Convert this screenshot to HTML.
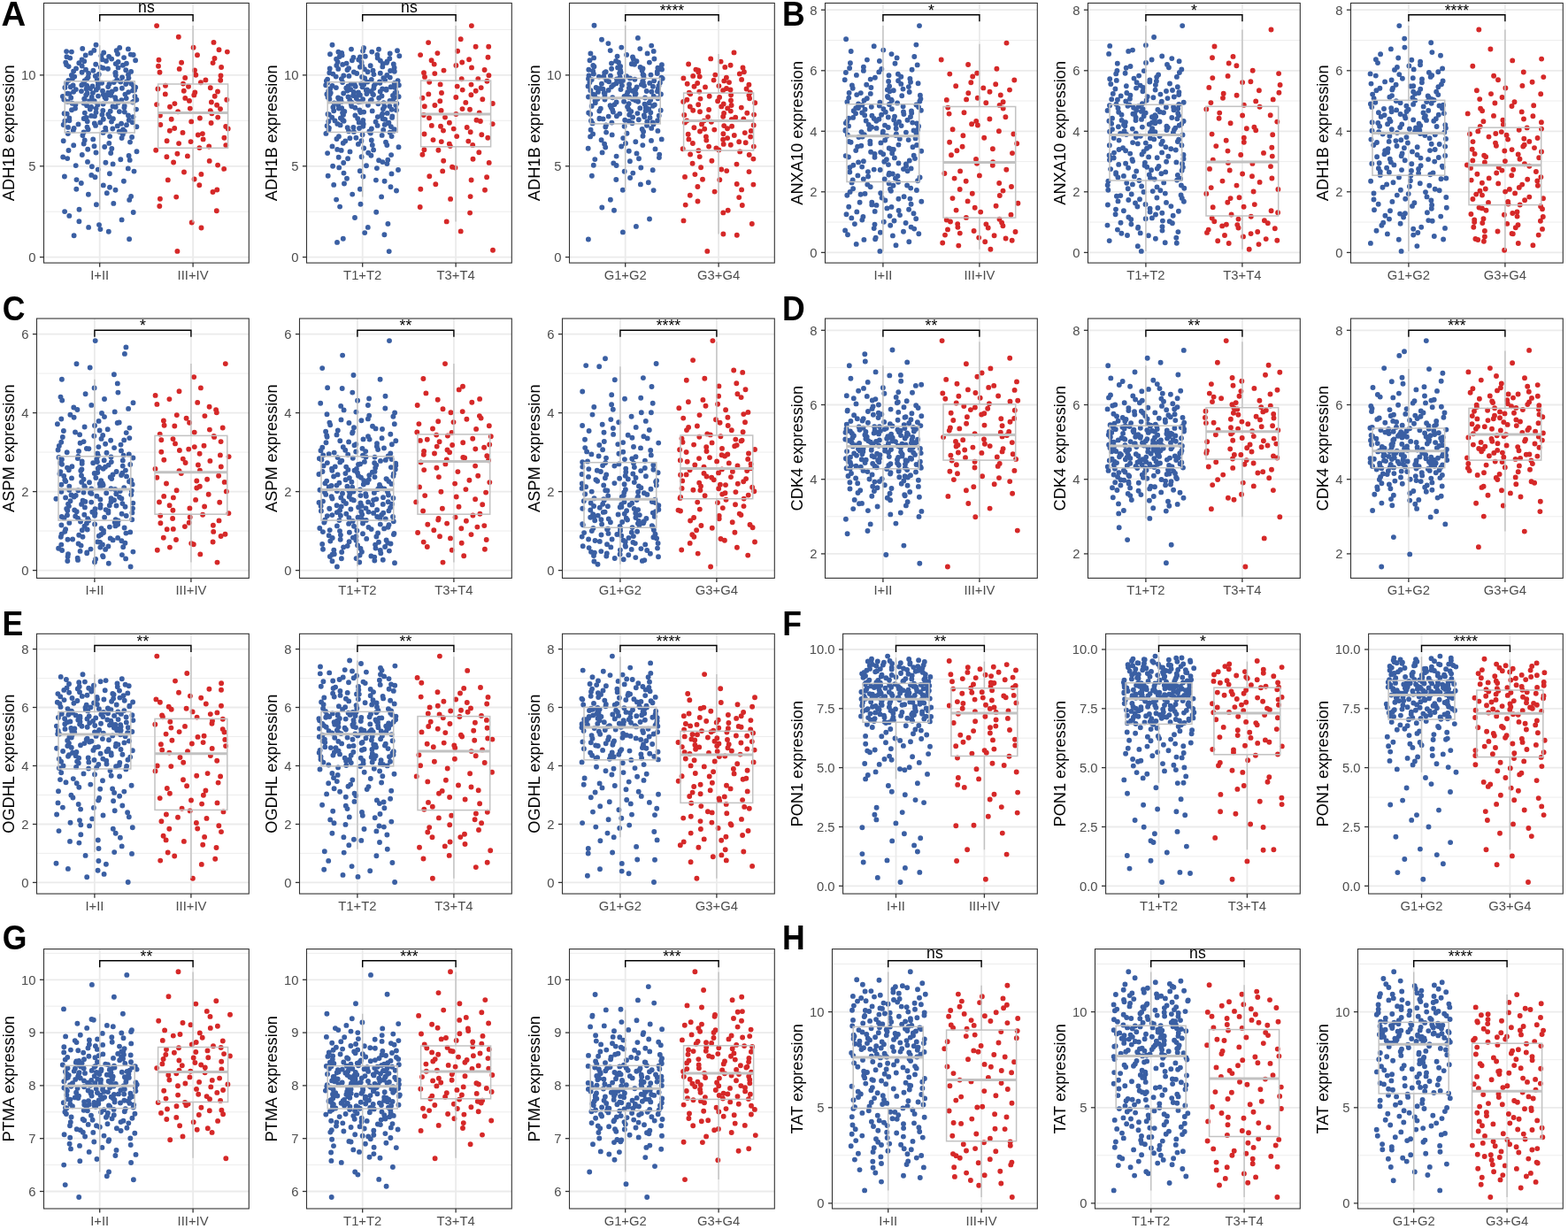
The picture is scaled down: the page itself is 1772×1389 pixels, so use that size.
<!DOCTYPE html><html><head><meta charset="utf-8"><style>html,body{margin:0;padding:0;background:#fff;}svg{display:block;font-family:"Liberation Sans",Arial,sans-serif;}.tl{font-size:14.8px;fill:#4D4D4D;}</style></head><body><svg width="1772" height="1389" viewBox="0 0 1772 1389">
<rect width="1772" height="1389" fill="#fff"/>
<line x1="49.5" x2="281.3" y1="239.2" y2="239.2" stroke="#EBEBEB" stroke-width="0.9"/>
<line x1="49.5" x2="281.3" y1="136.3" y2="136.3" stroke="#EBEBEB" stroke-width="0.9"/>
<line x1="49.5" x2="281.3" y1="33.5" y2="33.5" stroke="#EBEBEB" stroke-width="0.9"/>
<line x1="49.5" x2="281.3" y1="290.6" y2="290.6" stroke="#EBEBEB" stroke-width="1.8"/>
<line x1="49.5" x2="281.3" y1="187.8" y2="187.8" stroke="#EBEBEB" stroke-width="1.8"/>
<line x1="49.5" x2="281.3" y1="84.9" y2="84.9" stroke="#EBEBEB" stroke-width="1.8"/>
<line x1="112.7" x2="112.7" y1="3.5" y2="297.1" stroke="#EBEBEB" stroke-width="1.8"/>
<line x1="218.1" x2="218.1" y1="3.5" y2="297.1" stroke="#EBEBEB" stroke-width="1.8"/>
<path d="M146.1 270.3h0M83.6 266.3h0M122.8 261.8h0M113.4 259.1h0M100.1 256.9h0M112.0 254.1h0M89.4 250.2h0M137.6 248.4h0M78.3 243.9h0M150.7 240.0h0M73.1 239.1h0M89.5 236.8h0M108.9 231.2h0M128.3 229.9h0M146.2 225.9h0M148.1 221.9h0M99.9 219.8h0M120.8 218.2h0M130.5 214.8h0M86.3 213.7h0M124.0 211.8h0M116.8 209.4h0M91.8 207.0h0M139.9 204.7h0M86.5 203.1h0M107.5 200.2h0M72.9 199.5h0M103.3 197.9h0M123.9 196.2h0M151.5 193.6h0M110.7 191.6h0M144.8 190.4h0M103.9 188.3h0M85.7 187.1h0M127.6 185.4h0M119.4 183.8h0M99.0 182.9h0M146.7 180.9h0M136.3 180.2h0M76.2 179.1h0M71.2 177.5h0M145.6 175.9h0M92.8 175.0h0M125.2 173.0h0M108.5 172.5h0M154.5 171.2h0M77.5 170.0h0M99.2 168.7h0M126.3 167.9h0M118.2 166.0h0M106.5 165.2h0M83.2 164.3h0M94.7 162.5h0M123.3 161.9h0M147.0 160.6h0M71.7 159.3h0M95.7 158.5h0M105.2 157.4h0M137.6 156.0h0M149.1 155.0h0M124.1 154.1h0M93.4 153.0h0M138.8 152.0h0M76.8 151.0h0M116.6 149.9h0M94.6 149.5h0M134.7 148.8h0M140.9 148.4h0M119.5 147.6h0M82.8 147.4h0M139.1 146.5h0M99.6 146.3h0M127.3 145.5h0M83.6 145.0h0M119.2 144.7h0M77.0 143.9h0M98.5 143.6h0M154.4 143.2h0M132.7 142.4h0M108.0 141.9h0M143.0 141.3h0M71.7 141.0h0M88.5 140.4h0M137.1 139.7h0M106.8 139.5h0M113.3 138.5h0M149.7 138.2h0M126.0 137.6h0M98.7 137.2h0M73.3 136.8h0M78.4 136.3h0M145.7 135.7h0M116.8 134.8h0M127.9 134.2h0M94.7 134.0h0M78.3 133.5h0M97.6 133.0h0M123.7 132.1h0M150.5 132.1h0M107.0 131.3h0M103.2 130.9h0M145.0 130.4h0M115.4 129.6h0M122.4 129.3h0M75.7 128.6h0M72.6 128.2h0M95.8 127.6h0M108.5 127.1h0M140.8 126.6h0M134.9 126.1h0M124.7 125.7h0M116.3 124.9h0M81.0 124.2h0M154.0 123.6h0M101.8 123.6h0M108.6 122.6h0M85.0 122.5h0M140.4 121.6h0M103.1 121.0h0M130.7 120.9h0M127.5 120.2h0M140.7 119.7h0M98.1 119.2h0M110.3 118.5h0M85.4 118.3h0M116.6 117.5h0M81.6 116.8h0M94.6 116.6h0M133.5 115.9h0M150.0 115.5h0M76.5 115.0h0M151.1 114.6h0M106.7 114.3h0M101.2 114.1h0M131.1 113.6h0M137.3 113.3h0M154.3 112.8h0M72.3 112.5h0M95.7 112.0h0M119.8 111.6h0M95.2 111.6h0M142.7 111.1h0M80.2 110.5h0M130.2 110.2h0M118.5 110.0h0M103.7 109.7h0M152.5 109.0h0M70.9 109.0h0M111.0 108.6h0M125.4 107.8h0M97.2 107.5h0M122.3 107.1h0M116.9 106.9h0M141.4 106.6h0M78.4 106.1h0M76.3 105.8h0M98.6 105.5h0M104.9 105.1h0M122.2 104.7h0M145.2 104.1h0M83.1 103.7h0M126.6 103.4h0M92.0 103.1h0M116.0 102.7h0M150.0 102.4h0M152.0 102.1h0M108.9 101.5h0M85.8 101.1h0M130.8 100.8h0M97.6 100.4h0M102.1 100.0h0M137.9 99.8h0M110.7 99.3h0M73.4 99.0h0M153.2 98.8h0M79.8 98.3h0M122.2 98.1h0M104.5 97.4h0M150.9 97.3h0M98.1 96.8h0M82.6 96.5h0M92.3 96.2h0M110.9 95.8h0M142.2 95.1h0M123.5 94.9h0M148.3 94.6h0M74.9 94.0h0M115.1 93.8h0M94.4 93.5h0M128.7 93.1h0M136.3 92.6h0M142.9 92.4h0M110.4 91.8h0M95.7 91.2h0M77.3 90.9h0M132.2 90.3h0M109.7 89.9h0M98.1 89.2h0M82.1 88.5h0M145.4 88.1h0M138.1 87.5h0M99.6 87.2h0M84.2 86.6h0M107.8 86.0h0M130.8 85.0h0M80.9 85.0h0M145.0 84.4h0M111.7 83.9h0M100.1 83.0h0M130.3 82.4h0M130.6 82.0h0M92.6 81.7h0M148.1 80.9h0M83.1 80.5h0M105.4 79.8h0M142.2 79.2h0M97.0 78.8h0M122.0 77.8h0M86.0 77.4h0M116.7 76.9h0M133.6 76.4h0M113.8 76.0h0M77.6 75.1h0M92.7 74.6h0M138.9 73.8h0M75.1 73.2h0M108.2 72.7h0M130.7 72.1h0M142.9 71.7h0M89.3 71.2h0M74.2 70.6h0M133.6 70.0h0M95.2 69.2h0M120.0 69.0h0M153.1 68.2h0M92.6 67.4h0M115.5 67.2h0M126.2 66.6h0M79.2 65.6h0M140.1 65.1h0M75.4 64.3h0M123.1 63.9h0M114.4 63.1h0M96.7 62.5h0M150.7 62.0h0M147.7 61.6h0M133.0 61.0h0M102.5 59.9h0M117.2 59.5h0M80.9 58.6h0M75.1 58.1h0M131.7 57.3h0M106.3 56.9h0M144.9 55.4h0M93.2 54.9h0M135.2 53.9h0M108.5 50.7h0" stroke="#3A5FA3" stroke-width="5.9" stroke-linecap="round"/>
<path d="M200.4 283.9h0M227.5 257.5h0M216.7 251.5h0M244.8 238.2h0M180.3 233.0h0M180.9 224.8h0M199.2 222.6h0M240.5 217.0h0M245.3 214.5h0M225.3 209.3h0M189.8 203.4h0M219.6 202.5h0M227.4 196.9h0M208.0 194.5h0M253.2 190.9h0M246.1 186.6h0M196.1 183.5h0M236.7 181.9h0M188.4 177.3h0M211.9 176.4h0M200.4 173.7h0M176.2 169.8h0M225.4 167.1h0M236.2 165.5h0M255.3 164.1h0M202.1 162.1h0M215.6 160.1h0M188.6 159.3h0M229.6 157.4h0M253.4 155.7h0M223.8 152.5h0M228.9 151.1h0M206.5 149.9h0M191.8 147.7h0M257.7 145.4h0M197.2 145.0h0M255.2 143.0h0M181.3 141.0h0M238.6 139.0h0M216.2 137.4h0M193.7 134.8h0M225.9 133.5h0M246.2 132.6h0M180.9 130.5h0M239.4 128.3h0M201.1 126.3h0M237.8 125.1h0M249.0 123.1h0M214.8 122.6h0M192.0 120.7h0M245.1 118.8h0M177.1 118.1h0M197.4 117.1h0M238.9 115.5h0M214.0 113.9h0M256.3 112.8h0M209.3 110.9h0M242.7 108.7h0M219.3 107.4h0M186.8 106.4h0M220.3 104.5h0M246.0 103.5h0M207.8 102.8h0M178.4 100.5h0M237.8 99.2h0M213.0 97.7h0M187.0 96.8h0M207.0 94.6h0M226.9 93.2h0M249.2 90.7h0M232.4 90.4h0M209.2 87.9h0M249.5 85.4h0M221.3 84.8h0M180.5 81.8h0M220.0 79.5h0M202.7 77.9h0M250.1 76.0h0M179.0 74.8h0M240.6 71.1h0M205.1 70.7h0M179.5 67.7h0M242.5 66.0h0M223.0 62.3h0M256.8 58.6h0M247.5 56.2h0M218.6 53.7h0M241.5 47.9h0M201.8 41.8h0M177.1 29.1h0" stroke="#D52828" stroke-width="5.9" stroke-linecap="round"/>
<line x1="112.7" x2="112.7" y1="51.2" y2="91.8" stroke="#C2C2C2" stroke-width="1.4"/>
<line x1="112.7" x2="112.7" y1="150" y2="236.8" stroke="#C2C2C2" stroke-width="1.4"/>
<rect x="73.2" y="91.8" width="79" height="58.2" fill="none" stroke="#C2C2C2" stroke-width="1.5"/>
<line x1="73.2" x2="152.2" y1="115.9" y2="115.9" stroke="#C2C2C2" stroke-width="3"/>
<line x1="218.1" x2="218.1" y1="29.1" y2="95" stroke="#C2C2C2" stroke-width="1.4"/>
<line x1="218.1" x2="218.1" y1="167.3" y2="251.5" stroke="#C2C2C2" stroke-width="1.4"/>
<rect x="178.6" y="95" width="79" height="72.3" fill="none" stroke="#C2C2C2" stroke-width="1.5"/>
<line x1="178.6" x2="257.6" y1="127.4" y2="127.4" stroke="#C2C2C2" stroke-width="3"/>
<path d="M112.7,24.2V16.7H218.1V24.2" fill="none" stroke="#000" stroke-width="1.4"/>
<text x="165.4" y="13.6" font-size="17.6" text-anchor="middle">ns</text>
<rect x="49.5" y="3.5" width="231.8" height="293.6" fill="none" stroke="#333333" stroke-width="1.1"/>
<line x1="44.9" x2="49.5" y1="290.6" y2="290.6" stroke="#333333" stroke-width="1.3"/>
<text x="40.4" y="295.9" text-anchor="end" class="tl">0</text>
<line x1="44.9" x2="49.5" y1="187.8" y2="187.8" stroke="#333333" stroke-width="1.3"/>
<text x="40.4" y="193" text-anchor="end" class="tl">5</text>
<line x1="44.9" x2="49.5" y1="84.9" y2="84.9" stroke="#333333" stroke-width="1.3"/>
<text x="40.4" y="90.2" text-anchor="end" class="tl">10</text>
<line x1="112.7" x2="112.7" y1="297.1" y2="301.7" stroke="#333333" stroke-width="1.3"/>
<text x="112.7" y="316" text-anchor="middle" class="tl">I+II</text>
<line x1="218.1" x2="218.1" y1="297.1" y2="301.7" stroke="#333333" stroke-width="1.3"/>
<text x="218.1" y="316" text-anchor="middle" class="tl">III+IV</text>
<text transform="translate(15.8,150.3) rotate(-90)" text-anchor="middle" font-size="18.2">ADH1B expression</text>
<line x1="346.5" x2="578.3" y1="239.2" y2="239.2" stroke="#EBEBEB" stroke-width="0.9"/>
<line x1="346.5" x2="578.3" y1="136.3" y2="136.3" stroke="#EBEBEB" stroke-width="0.9"/>
<line x1="346.5" x2="578.3" y1="33.5" y2="33.5" stroke="#EBEBEB" stroke-width="0.9"/>
<line x1="346.5" x2="578.3" y1="290.6" y2="290.6" stroke="#EBEBEB" stroke-width="1.8"/>
<line x1="346.5" x2="578.3" y1="187.8" y2="187.8" stroke="#EBEBEB" stroke-width="1.8"/>
<line x1="346.5" x2="578.3" y1="84.9" y2="84.9" stroke="#EBEBEB" stroke-width="1.8"/>
<line x1="409.7" x2="409.7" y1="3.5" y2="297.1" stroke="#EBEBEB" stroke-width="1.8"/>
<line x1="515.1" x2="515.1" y1="3.5" y2="297.1" stroke="#EBEBEB" stroke-width="1.8"/>
<path d="M439.7 284.1h0M381.0 273.9h0M387.8 269.8h0M434.4 265.3h0M412.2 263.1h0M415.8 256.9h0M438.4 253.0h0M401.0 246.0h0M425.2 239.7h0M384.1 233.6h0M407.5 230.7h0M380.1 225.6h0M431.1 222.4h0M398.2 219.6h0M448.0 215.5h0M406.9 213.8h0M441.5 211.3h0M377.2 208.9h0M389.0 207.5h0M434.6 204.8h0M424.9 203.6h0M392.0 201.7h0M410.5 199.5h0M370.7 198.7h0M442.5 196.4h0M388.5 195.6h0M406.8 193.3h0M450.0 192.0h0M425.9 190.1h0M383.2 189.4h0M376.1 187.7h0M414.0 187.2h0M437.4 185.1h0M388.2 184.0h0M432.3 183.1h0M428.1 181.2h0M438.3 180.7h0M393.1 179.2h0M382.7 177.8h0M408.6 177.3h0M419.4 175.7h0M442.1 175.1h0M370.1 173.1h0M416.2 172.8h0M395.5 171.4h0M385.7 169.9h0M422.1 169.4h0M381.2 168.9h0M411.2 167.5h0M450.5 166.3h0M375.5 165.4h0M437.3 164.0h0M420.8 163.9h0M404.9 162.9h0M387.8 161.8h0M436.0 160.8h0M390.2 159.5h0M408.4 159.2h0M419.8 158.5h0M380.5 157.0h0M395.4 156.3h0M402.4 155.8h0M382.9 154.2h0M442.6 154.1h0M431.7 152.9h0M409.6 152.2h0M368.4 150.9h0M418.8 150.5h0M440.7 149.8h0M399.9 148.9h0M417.4 148.5h0M394.0 148.2h0M445.2 147.8h0M433.2 147.0h0M371.5 146.8h0M445.7 146.2h0M419.9 145.5h0M406.0 145.0h0M371.9 144.6h0M392.7 144.3h0M399.4 143.9h0M441.9 143.1h0M410.3 142.8h0M369.6 142.2h0M426.6 141.9h0M384.6 141.4h0M434.7 140.9h0M410.7 140.2h0M381.3 139.9h0M438.9 139.4h0M439.4 138.6h0M405.7 138.4h0M424.6 137.7h0M371.3 137.3h0M388.6 136.8h0M378.5 136.4h0M410.3 135.9h0M387.1 135.4h0M435.1 134.9h0M432.6 134.2h0M404.2 133.9h0M384.9 133.4h0M443.1 132.9h0M375.2 132.7h0M426.8 132.1h0M443.3 131.5h0M431.2 130.8h0M401.4 130.4h0M388.0 129.8h0M371.7 129.5h0M370.5 128.9h0M432.2 128.6h0M437.7 127.9h0M387.1 127.4h0M407.4 127.0h0M411.2 126.6h0M389.3 126.0h0M420.7 125.4h0M377.2 125.2h0M448.0 124.6h0M406.4 124.4h0M442.6 123.7h0M432.9 123.3h0M382.9 122.6h0M386.2 122.3h0M401.3 121.7h0M376.4 121.3h0M434.3 120.5h0M397.3 120.1h0M440.3 120.0h0M447.4 119.1h0M415.9 118.7h0M382.1 118.5h0M396.8 117.7h0M427.4 117.2h0M448.3 117.0h0M377.7 116.4h0M433.6 116.1h0M397.3 115.6h0M405.3 115.2h0M385.7 114.9h0M407.4 114.7h0M383.2 114.1h0M440.5 114.0h0M418.7 113.7h0M444.0 113.3h0M395.2 113.0h0M419.8 112.7h0M410.1 112.2h0M372.4 112.0h0M385.2 111.6h0M402.8 111.3h0M428.2 110.7h0M445.6 110.4h0M382.1 110.4h0M370.6 110.0h0M393.5 109.5h0M450.6 109.3h0M402.4 108.9h0M431.5 108.5h0M444.0 108.0h0M399.1 108.0h0M406.9 107.5h0M422.0 107.1h0M372.8 106.8h0M369.4 106.5h0M421.2 106.2h0M414.4 106.0h0M388.2 105.5h0M446.3 105.1h0M373.7 105.0h0M405.0 104.5h0M448.0 104.2h0M399.6 103.9h0M429.7 103.5h0M419.5 103.2h0M371.2 102.9h0M392.6 102.5h0M413.8 102.0h0M436.6 101.8h0M414.9 101.4h0M396.2 101.0h0M436.5 100.7h0M432.1 100.5h0M373.3 100.1h0M422.4 99.8h0M391.3 99.4h0M379.9 99.1h0M446.0 98.7h0M409.5 98.3h0M441.7 98.2h0M401.7 97.8h0M393.4 97.4h0M375.5 97.0h0M422.7 96.9h0M450.8 96.3h0M368.2 96.2h0M411.1 95.8h0M400.7 95.4h0M424.0 94.9h0M396.9 94.9h0M408.2 94.4h0M445.7 94.0h0M429.4 93.7h0M370.0 93.4h0M387.1 93.0h0M415.3 92.6h0M429.0 92.4h0M368.9 91.4h0M449.6 91.2h0M435.1 90.6h0M419.8 89.9h0M370.1 89.6h0M385.9 89.1h0M412.2 88.5h0M433.3 88.1h0M440.8 87.6h0M409.1 86.9h0M379.7 86.6h0M394.4 85.9h0M388.3 85.5h0M437.3 85.0h0M422.4 84.1h0M376.3 83.6h0M403.2 83.0h0M429.8 82.8h0M372.3 82.3h0M399.9 81.5h0M415.6 81.3h0M445.8 80.7h0M441.1 80.0h0M421.5 79.7h0M392.5 79.0h0M411.9 78.3h0M382.3 77.9h0M372.7 77.5h0M394.1 77.1h0M445.6 76.4h0M406.9 75.8h0M432.3 75.4h0M409.3 74.8h0M418.7 74.3h0M380.3 73.9h0M387.2 72.9h0M444.8 72.4h0M432.7 72.0h0M391.6 71.6h0M436.9 70.9h0M408.5 70.4h0M381.6 70.0h0M437.5 69.4h0M429.9 68.6h0M397.9 68.2h0M405.3 67.5h0M380.1 66.8h0M440.3 66.3h0M426.7 65.6h0M399.4 65.0h0M406.9 64.5h0M383.7 64.1h0M412.8 63.7h0M451.3 63.2h0M386.6 62.4h0M426.4 61.9h0M373.0 61.3h0M440.7 60.5h0M386.2 59.9h0M382.4 58.8h0M420.3 58.6h0M410.1 57.6h0M449.0 57.3h0M428.0 55.8h0M397.0 55.6h0M411.1 54.3h0M375.5 50.7h0" stroke="#3A5FA3" stroke-width="5.9" stroke-linecap="round"/>
<path d="M557.0 282.8h0M520.7 261.4h0M504.7 250.4h0M531.1 240.6h0M474.7 234.0h0M509.1 224.9h0M531.6 222.1h0M548.0 214.7h0M475.3 213.7h0M492.3 208.3h0M532.6 203.5h0M550.1 200.3h0M485.3 199.2h0M500.2 193.4h0M514.5 189.6h0M511.0 188.7h0M552.7 183.9h0M501.2 181.7h0M534.5 179.8h0M477.4 174.8h0M541.3 172.2h0M495.4 169.7h0M479.4 169.2h0M508.8 165.1h0M534.2 163.9h0M507.8 162.6h0M498.8 160.1h0M529.3 159.6h0M489.5 158.1h0M551.3 155.7h0M516.2 154.1h0M544.3 152.3h0M479.5 151.5h0M531.7 149.3h0M501.0 147.6h0M512.7 145.6h0M527.7 144.0h0M498.0 142.8h0M487.8 141.9h0M556.7 140.1h0M507.9 138.8h0M542.9 137.0h0M538.5 135.8h0M485.0 133.3h0M503.0 132.6h0M478.8 130.0h0M515.4 129.0h0M541.7 127.4h0M498.6 124.9h0M531.0 123.7h0M522.5 123.1h0M479.8 120.2h0M491.4 119.0h0M556.8 117.0h0M526.3 115.9h0M497.3 114.2h0M545.3 112.2h0M477.4 110.8h0M515.3 110.0h0M532.4 107.3h0M484.3 106.4h0M499.0 105.0h0M537.7 102.8h0M522.7 101.6h0M543.7 99.1h0M516.7 97.6h0M532.5 95.6h0M497.6 95.4h0M485.2 92.8h0M550.4 91.8h0M521.7 89.3h0M540.3 89.1h0M480.0 86.9h0M552.4 85.2h0M491.3 83.1h0M479.0 82.3h0M501.5 79.6h0M547.6 79.0h0M533.0 76.4h0M515.4 74.0h0M490.7 72.6h0M522.2 70.5h0M487.6 68.3h0M530.1 67.2h0M551.5 64.7h0M475.1 62.1h0M494.4 60.1h0M517.1 57.7h0M537.6 52.7h0M552.2 52.7h0M484.1 48.1h0M520.7 44.2h0M532.9 29.1h0" stroke="#D52828" stroke-width="5.9" stroke-linecap="round"/>
<line x1="409.7" x2="409.7" y1="51.8" y2="92.8" stroke="#C2C2C2" stroke-width="1.4"/>
<line x1="409.7" x2="409.7" y1="149.4" y2="222.4" stroke="#C2C2C2" stroke-width="1.4"/>
<rect x="370.2" y="92.8" width="79" height="56.6" fill="none" stroke="#C2C2C2" stroke-width="1.5"/>
<line x1="370.2" x2="449.2" y1="115.9" y2="115.9" stroke="#C2C2C2" stroke-width="3"/>
<line x1="515.1" x2="515.1" y1="29.1" y2="91.1" stroke="#C2C2C2" stroke-width="1.4"/>
<line x1="515.1" x2="515.1" y1="165.8" y2="250.4" stroke="#C2C2C2" stroke-width="1.4"/>
<rect x="475.6" y="91.1" width="79" height="74.7" fill="none" stroke="#C2C2C2" stroke-width="1.5"/>
<line x1="475.6" x2="554.6" y1="128.9" y2="128.9" stroke="#C2C2C2" stroke-width="3"/>
<path d="M409.7,24.2V16.7H515.1V24.2" fill="none" stroke="#000" stroke-width="1.4"/>
<text x="462.4" y="13.6" font-size="17.6" text-anchor="middle">ns</text>
<rect x="346.5" y="3.5" width="231.8" height="293.6" fill="none" stroke="#333333" stroke-width="1.1"/>
<line x1="341.9" x2="346.5" y1="290.6" y2="290.6" stroke="#333333" stroke-width="1.3"/>
<text x="337.4" y="295.9" text-anchor="end" class="tl">0</text>
<line x1="341.9" x2="346.5" y1="187.8" y2="187.8" stroke="#333333" stroke-width="1.3"/>
<text x="337.4" y="193" text-anchor="end" class="tl">5</text>
<line x1="341.9" x2="346.5" y1="84.9" y2="84.9" stroke="#333333" stroke-width="1.3"/>
<text x="337.4" y="90.2" text-anchor="end" class="tl">10</text>
<line x1="409.7" x2="409.7" y1="297.1" y2="301.7" stroke="#333333" stroke-width="1.3"/>
<text x="409.7" y="316" text-anchor="middle" class="tl">T1+T2</text>
<line x1="515.1" x2="515.1" y1="297.1" y2="301.7" stroke="#333333" stroke-width="1.3"/>
<text x="515.1" y="316" text-anchor="middle" class="tl">T3+T4</text>
<text transform="translate(312.8,150.3) rotate(-90)" text-anchor="middle" font-size="18.2">ADH1B expression</text>
<line x1="643.5" x2="875.3" y1="239.2" y2="239.2" stroke="#EBEBEB" stroke-width="0.9"/>
<line x1="643.5" x2="875.3" y1="136.3" y2="136.3" stroke="#EBEBEB" stroke-width="0.9"/>
<line x1="643.5" x2="875.3" y1="33.5" y2="33.5" stroke="#EBEBEB" stroke-width="0.9"/>
<line x1="643.5" x2="875.3" y1="290.6" y2="290.6" stroke="#EBEBEB" stroke-width="1.8"/>
<line x1="643.5" x2="875.3" y1="187.8" y2="187.8" stroke="#EBEBEB" stroke-width="1.8"/>
<line x1="643.5" x2="875.3" y1="84.9" y2="84.9" stroke="#EBEBEB" stroke-width="1.8"/>
<line x1="706.7" x2="706.7" y1="3.5" y2="297.1" stroke="#EBEBEB" stroke-width="1.8"/>
<line x1="812.1" x2="812.1" y1="3.5" y2="297.1" stroke="#EBEBEB" stroke-width="1.8"/>
<path d="M664.9 270.5h0M703.9 262.4h0M718.9 255.9h0M734.0 247.5h0M694.0 237.7h0M680.3 234.5h0M689.9 225.7h0M738.6 215.1h0M703.8 214.8h0M723.9 208.4h0M732.8 206.3h0M696.3 203.0h0M712.1 201.0h0M668.9 198.8h0M715.3 195.6h0M705.7 193.8h0M737.7 192.2h0M724.3 189.5h0M696.6 187.0h0M670.8 186.8h0M693.3 184.4h0M711.9 182.3h0M672.3 180.1h0M722.0 179.3h0M744.9 178.1h0M696.6 176.6h0M745.2 174.6h0M719.5 173.4h0M680.6 172.4h0M710.8 170.7h0M740.5 168.4h0M664.7 167.8h0M684.2 166.5h0M702.2 165.5h0M726.3 164.1h0M683.1 162.7h0M707.0 161.9h0M718.3 160.3h0M736.0 158.9h0M679.6 158.2h0M747.7 157.4h0M704.2 156.1h0M667.1 154.4h0M726.5 153.7h0M691.7 152.4h0M670.1 151.4h0M708.5 150.7h0M685.1 149.6h0M727.1 148.8h0M743.4 147.9h0M667.6 146.8h0M725.7 146.0h0M736.2 144.9h0M684.3 143.5h0M705.6 142.8h0M731.0 141.8h0M684.9 141.5h0M738.5 140.5h0M669.6 139.4h0M714.5 139.2h0M691.4 138.6h0M737.5 138.4h0M731.3 137.4h0M710.9 137.0h0M668.0 136.5h0M743.1 136.3h0M706.2 135.8h0M721.8 135.2h0M681.6 134.4h0M677.4 134.3h0M677.5 133.8h0M734.5 133.0h0M715.1 132.5h0M728.3 132.1h0M687.7 131.6h0M696.9 131.3h0M744.7 130.8h0M727.9 130.3h0M711.2 129.7h0M667.2 128.9h0M700.3 128.6h0M720.4 128.1h0M665.2 127.4h0M735.3 127.2h0M692.9 126.6h0M713.2 125.9h0M677.3 125.5h0M729.6 125.2h0M746.7 124.8h0M692.2 124.2h0M710.6 123.7h0M733.2 123.3h0M678.8 122.7h0M723.3 122.2h0M690.7 121.4h0M729.8 121.3h0M709.1 120.6h0M668.7 119.9h0M738.0 119.7h0M689.6 119.2h0M739.8 118.5h0M694.5 118.1h0M728.5 117.6h0M710.6 117.3h0M672.8 116.3h0M733.6 116.2h0M696.6 115.4h0M721.1 114.8h0M705.1 114.7h0M672.5 113.8h0M718.2 113.6h0M735.2 113.1h0M683.5 112.6h0M715.0 112.1h0M675.4 111.7h0M743.5 111.2h0M729.0 110.5h0M692.2 110.3h0M711.2 109.9h0M665.0 109.5h0M705.5 109.0h0M738.7 108.8h0M717.7 108.2h0M683.4 108.1h0M672.0 107.5h0M708.4 107.0h0M670.8 106.8h0M746.9 106.5h0M718.6 105.9h0M683.5 105.5h0M717.6 105.4h0M682.7 105.0h0M709.3 104.3h0M675.9 103.9h0M736.4 103.7h0M743.0 103.2h0M730.7 103.0h0M714.8 102.7h0M667.4 102.2h0M687.7 101.9h0M718.1 101.3h0M701.5 101.1h0M681.5 100.6h0M743.8 100.0h0M677.7 99.9h0M710.9 99.4h0M673.6 99.0h0M719.6 98.5h0M691.1 98.1h0M737.9 97.8h0M664.6 97.5h0M744.5 97.0h0M728.0 96.9h0M702.9 96.6h0M693.2 95.9h0M724.9 95.6h0M711.1 95.3h0M679.9 94.8h0M696.5 94.3h0M734.2 93.9h0M745.9 93.6h0M666.4 93.2h0M726.9 92.9h0M701.9 92.6h0M688.1 92.2h0M726.2 91.9h0M739.2 91.3h0M703.9 91.1h0M685.3 90.8h0M668.7 90.1h0M717.4 89.8h0M697.0 89.4h0M665.0 89.0h0M748.7 88.8h0M712.0 88.4h0M727.5 87.8h0M747.5 87.7h0M700.7 87.2h0M676.9 86.6h0M682.3 86.5h0M708.0 86.2h0M689.9 85.8h0M665.5 85.4h0M727.4 84.9h0M735.5 84.6h0M726.6 84.2h0M670.9 83.5h0M742.8 83.1h0M700.1 82.6h0M683.2 82.3h0M701.6 81.8h0M684.7 81.2h0M742.8 80.9h0M670.1 80.3h0M725.6 79.8h0M701.1 79.5h0M665.3 78.8h0M748.0 78.5h0M691.1 77.8h0M726.5 77.4h0M743.4 76.7h0M698.1 76.4h0M723.6 76.0h0M671.4 75.2h0M701.1 74.9h0M670.3 73.9h0M747.9 73.2h0M717.0 72.7h0M713.8 72.3h0M691.0 71.6h0M733.9 70.6h0M699.0 70.5h0M719.5 69.3h0M696.1 68.9h0M666.5 68.2h0M715.8 66.7h0M739.4 66.5h0M671.1 65.4h0M715.0 64.4h0M697.6 63.6h0M708.1 61.9h0M667.4 60.5h0M731.6 60.4h0M738.7 57.9h0M689.7 57.1h0M723.3 55.1h0M702.3 53.6h0M736.2 51.6h0M687.4 49.1h0M680.0 44.8h0M720.9 42.9h0M671.5 28.7h0" stroke="#3A5FA3" stroke-width="5.9" stroke-linecap="round"/>
<path d="M799.3 283.9h0M832.8 265.7h0M817.4 264.5h0M849.8 253.0h0M772.5 249.4h0M817.3 240.4h0M822.7 237.8h0M838.8 232.0h0M774.7 231.6h0M788.5 227.5h0M835.2 223.1h0M779.8 220.7h0M807.6 216.6h0M838.1 214.4h0M788.4 211.0h0M851.4 208.6h0M832.7 208.0h0M813.3 203.2h0M794.0 202.7h0M774.0 199.9h0M785.4 197.1h0M846.5 194.1h0M821.2 193.1h0M815.2 191.5h0M792.1 189.2h0M832.5 185.6h0M782.6 184.7h0M804.4 181.7h0M851.4 179.6h0M790.7 177.1h0M846.7 175.0h0M780.1 174.5h0M836.2 171.4h0M789.4 170.3h0M812.4 169.4h0M771.7 168.2h0M809.4 167.4h0M851.8 165.6h0M801.1 165.6h0M825.8 163.7h0M817.7 162.9h0M782.9 162.0h0M842.7 161.3h0M835.2 160.2h0M798.3 158.6h0M817.1 157.7h0M778.4 157.4h0M822.1 156.1h0M848.2 154.6h0M797.9 154.5h0M829.8 153.0h0M777.7 151.8h0M817.4 151.2h0M841.8 150.1h0M791.0 148.5h0M848.8 147.9h0M807.3 146.6h0M796.2 145.8h0M822.0 145.2h0M784.4 144.3h0M827.1 142.8h0M818.2 142.1h0M851.7 141.4h0M793.0 140.4h0M774.0 138.6h0M803.9 137.7h0M795.5 136.6h0M776.2 136.4h0M826.8 134.9h0M840.3 134.4h0M831.2 132.8h0M800.1 132.1h0M817.2 131.7h0M773.3 130.0h0M852.1 129.6h0M818.1 128.0h0M844.3 127.7h0M791.0 126.3h0M825.8 125.6h0M783.2 124.7h0M801.1 124.0h0M822.2 122.4h0M837.8 121.6h0M779.8 120.5h0M815.3 120.4h0M826.6 119.0h0M789.2 118.2h0M817.7 117.4h0M853.2 116.2h0M772.2 114.9h0M811.1 114.2h0M826.0 113.4h0M776.4 112.7h0M791.5 111.6h0M847.1 111.2h0M813.1 110.0h0M801.7 108.7h0M846.4 107.8h0M826.1 107.3h0M780.2 106.2h0M778.8 104.7h0M847.8 104.4h0M790.3 103.6h0M817.1 102.3h0M825.5 101.5h0M843.6 100.5h0M821.0 100.0h0M797.0 98.4h0M784.5 97.7h0M812.4 97.1h0M846.4 95.7h0M776.7 94.7h0M788.2 94.0h0M824.0 93.1h0M818.3 91.4h0M806.6 90.6h0M838.1 89.9h0M772.4 88.4h0M820.9 87.7h0M790.7 86.6h0M783.2 85.9h0M808.3 84.6h0M835.8 83.4h0M789.3 81.6h0M840.9 81.2h0M789.1 79.5h0M786.4 78.6h0M839.5 76.5h0M819.3 75.9h0M825.6 73.8h0M778.1 72.5h0M814.6 69.6h0M803.2 66.4h0M829.5 59.4h0" stroke="#D52828" stroke-width="5.9" stroke-linecap="round"/>
<line x1="706.7" x2="706.7" y1="28.7" y2="88.5" stroke="#C2C2C2" stroke-width="1.4"/>
<line x1="706.7" x2="706.7" y1="139.9" y2="214.8" stroke="#C2C2C2" stroke-width="1.4"/>
<rect x="667.2" y="88.5" width="79" height="51.4" fill="none" stroke="#C2C2C2" stroke-width="1.5"/>
<line x1="667.2" x2="746.2" y1="110.8" y2="110.8" stroke="#C2C2C2" stroke-width="3"/>
<line x1="812.1" x2="812.1" y1="61.1" y2="105.1" stroke="#C2C2C2" stroke-width="1.4"/>
<line x1="812.1" x2="812.1" y1="170.1" y2="264.5" stroke="#C2C2C2" stroke-width="1.4"/>
<rect x="772.6" y="105.1" width="79" height="65" fill="none" stroke="#C2C2C2" stroke-width="1.5"/>
<line x1="772.6" x2="851.6" y1="136.4" y2="136.4" stroke="#C2C2C2" stroke-width="3"/>
<path d="M706.7,24.2V16.7H812.1V24.2" fill="none" stroke="#000" stroke-width="1.4"/>
<text x="759.4" y="17.9" font-size="17.6" text-anchor="middle">****</text>
<rect x="643.5" y="3.5" width="231.8" height="293.6" fill="none" stroke="#333333" stroke-width="1.1"/>
<line x1="638.9" x2="643.5" y1="290.6" y2="290.6" stroke="#333333" stroke-width="1.3"/>
<text x="634.4" y="295.9" text-anchor="end" class="tl">0</text>
<line x1="638.9" x2="643.5" y1="187.8" y2="187.8" stroke="#333333" stroke-width="1.3"/>
<text x="634.4" y="193" text-anchor="end" class="tl">5</text>
<line x1="638.9" x2="643.5" y1="84.9" y2="84.9" stroke="#333333" stroke-width="1.3"/>
<text x="634.4" y="90.2" text-anchor="end" class="tl">10</text>
<line x1="706.7" x2="706.7" y1="297.1" y2="301.7" stroke="#333333" stroke-width="1.3"/>
<text x="706.7" y="316" text-anchor="middle" class="tl">G1+G2</text>
<line x1="812.1" x2="812.1" y1="297.1" y2="301.7" stroke="#333333" stroke-width="1.3"/>
<text x="812.1" y="316" text-anchor="middle" class="tl">G3+G4</text>
<text transform="translate(609.8,150.3) rotate(-90)" text-anchor="middle" font-size="18.2">ADH1B expression</text>
<text transform="translate(1.4,29) scale(1.0,1)" font-size="38.3" font-weight="bold">A</text>
<line x1="932.5" x2="1172.3" y1="251.1" y2="251.1" stroke="#EBEBEB" stroke-width="0.9"/>
<line x1="932.5" x2="1172.3" y1="182.6" y2="182.6" stroke="#EBEBEB" stroke-width="0.9"/>
<line x1="932.5" x2="1172.3" y1="114" y2="114" stroke="#EBEBEB" stroke-width="0.9"/>
<line x1="932.5" x2="1172.3" y1="45.5" y2="45.5" stroke="#EBEBEB" stroke-width="0.9"/>
<line x1="932.5" x2="1172.3" y1="285.4" y2="285.4" stroke="#EBEBEB" stroke-width="1.8"/>
<line x1="932.5" x2="1172.3" y1="216.8" y2="216.8" stroke="#EBEBEB" stroke-width="1.8"/>
<line x1="932.5" x2="1172.3" y1="148.3" y2="148.3" stroke="#EBEBEB" stroke-width="1.8"/>
<line x1="932.5" x2="1172.3" y1="79.8" y2="79.8" stroke="#EBEBEB" stroke-width="1.8"/>
<line x1="932.5" x2="1172.3" y1="11.2" y2="11.2" stroke="#EBEBEB" stroke-width="1.8"/>
<line x1="997.9" x2="997.9" y1="3.5" y2="297.1" stroke="#EBEBEB" stroke-width="1.8"/>
<line x1="1106.9" x2="1106.9" y1="3.5" y2="297.1" stroke="#EBEBEB" stroke-width="1.8"/>
<path d="M994.4 283.9h0M1012.5 277.2h0M967.7 275.9h0M1027.3 273.3h0M976.4 270.9h0M989.1 270.2h0M989.7 268.6h0M1008.9 266.4h0M958.0 265.2h0M1038.3 264.3h0M994.9 262.8h0M1021.0 261.7h0M955.1 260.4h0M1033.2 258.6h0M987.7 258.1h0M1029.6 256.6h0M1006.2 254.8h0M988.5 253.6h0M965.9 253.2h0M1023.6 252.0h0M998.8 250.8h0M1010.5 249.5h0M974.3 248.6h0M1035.2 247.3h0M962.3 246.4h0M975.4 245.0h0M1005.6 244.1h0M1017.0 243.1h0M956.5 242.2h0M1032.5 241.2h0M968.3 239.4h0M988.7 238.9h0M1015.6 237.9h0M1027.1 236.7h0M1002.4 235.4h0M1007.5 233.9h0M959.2 233.7h0M990.5 231.9h0M985.3 231.4h0M1029.6 230.7h0M985.3 228.8h0M971.6 228.7h0M1041.3 227.7h0M1000.4 226.5h0M1015.4 224.7h0M1028.5 224.6h0M996.6 223.5h0M1021.6 222.3h0M957.3 220.7h0M972.6 219.7h0M977.5 218.9h0M995.2 218.2h0M960.6 216.9h0M1006.9 215.7h0M1035.9 215.0h0M1006.0 213.8h0M964.1 213.3h0M1029.2 212.6h0M983.7 211.2h0M1009.5 209.8h0M1025.1 209.5h0M980.3 208.6h0M1004.6 207.3h0M962.6 206.4h0M1015.1 205.7h0M1037.1 204.3h0M963.7 203.5h0M975.8 202.5h0M999.7 202.5h0M1011.9 201.6h0M1039.6 200.5h0M981.1 199.5h0M1014.5 199.0h0M969.4 198.4h0M1004.4 197.5h0M1008.8 196.5h0M1005.0 195.7h0M960.3 194.5h0M980.9 194.1h0M1025.6 193.2h0M994.7 192.0h0M987.7 191.6h0M1021.0 191.1h0M1029.6 190.4h0M960.4 189.2h0M974.2 188.6h0M1024.1 187.4h0M964.3 186.7h0M1004.0 186.1h0M1023.9 185.5h0M1015.5 184.5h0M970.1 183.4h0M999.3 182.7h0M975.9 182.2h0M1027.8 181.5h0M1001.9 180.2h0M1034.0 179.1h0M1010.9 178.4h0M988.5 177.7h0M958.9 177.5h0M955.7 176.1h0M1032.7 175.7h0M998.2 174.3h0M988.5 174.0h0M1008.2 173.2h0M995.2 172.1h0M984.1 171.8h0M1041.2 170.7h0M967.2 170.1h0M1009.8 168.9h0M1006.9 168.4h0M1004.7 167.5h0M1031.5 166.3h0M969.1 165.8h0M973.3 164.7h0M1036.1 164.0h0M1015.5 163.6h0M983.4 162.4h0M995.4 161.4h0M961.6 160.7h0M959.5 160.0h0M983.3 159.6h0M1000.2 158.5h0M1026.7 158.1h0M1016.8 156.9h0M1034.6 156.4h0M970.5 155.0h0M974.6 154.5h0M1002.3 153.8h0M1012.4 153.0h0M957.9 152.5h0M976.8 152.1h0M1012.9 151.4h0M1035.6 150.9h0M997.6 150.4h0M1023.9 149.6h0M973.5 149.1h0M997.9 148.7h0M955.4 147.8h0M1032.6 147.5h0M955.5 146.9h0M1037.1 146.4h0M982.7 145.9h0M1012.7 145.3h0M990.5 144.9h0M1003.8 144.0h0M985.0 143.8h0M1038.1 142.8h0M959.0 142.4h0M1018.6 142.1h0M1000.0 141.6h0M981.7 140.9h0M1012.4 140.3h0M1036.2 139.4h0M955.8 139.1h0M1031.2 138.6h0M1016.0 137.8h0M957.2 137.3h0M990.3 136.7h0M978.7 136.5h0M1025.5 135.7h0M1010.2 135.4h0M993.4 134.8h0M987.7 134.0h0M959.0 133.7h0M964.1 132.9h0M1003.8 132.5h0M1029.0 132.0h0M1011.0 131.6h0M985.4 130.8h0M977.2 130.2h0M996.1 129.7h0M1021.4 129.0h0M967.0 128.2h0M1030.2 127.7h0M974.2 127.4h0M1000.8 126.7h0M1021.0 126.4h0M1030.0 125.5h0M964.7 125.3h0M1040.9 124.7h0M977.5 123.8h0M1007.9 123.2h0M998.4 123.2h0M967.2 122.1h0M970.0 122.0h0M1038.1 121.1h0M984.8 120.7h0M1020.6 120.2h0M993.8 119.5h0M974.4 118.8h0M1035.5 118.5h0M1004.9 118.0h0M970.0 117.4h0M1014.1 116.4h0M994.4 115.6h0M957.4 115.2h0M1039.4 114.5h0M1007.8 113.8h0M976.5 113.4h0M1007.3 112.6h0M1040.4 111.7h0M979.8 111.2h0M959.2 110.6h0M1003.6 110.0h0M1003.0 108.9h0M1019.2 108.2h0M1039.9 107.7h0M968.2 107.1h0M983.8 105.9h0M972.8 105.1h0M959.6 104.9h0M1027.7 104.0h0M1005.4 103.3h0M1009.8 102.3h0M1002.9 101.4h0M1020.5 100.6h0M963.7 99.7h0M984.4 99.0h0M1026.9 98.1h0M1005.1 97.5h0M962.9 96.4h0M979.2 95.8h0M1018.3 94.9h0M1037.6 94.2h0M1029.0 92.8h0M1004.1 91.9h0M1015.1 91.3h0M954.7 90.3h0M983.7 89.6h0M1028.4 88.9h0M988.9 87.8h0M1018.3 86.7h0M1004.5 85.2h0M967.9 84.9h0M1014.9 83.8h0M955.9 82.0h0M993.3 81.4h0M975.9 79.9h0M1030.6 78.8h0M996.3 78.0h0M960.1 77.0h0M975.9 75.8h0M1036.7 73.4h0M1011.5 71.8h0M960.9 71.2h0M993.9 69.0h0M979.9 67.6h0M1013.6 65.4h0M1033.3 64.0h0M1007.5 61.1h0M961.7 58.0h0M998.3 56.6h0M987.7 52.3h0M1035.4 50.6h0M956.1 44.2h0M1039.0 29.1h0" stroke="#3A5FA3" stroke-width="5.9" stroke-linecap="round"/>
<path d="M1119.4 281.7h0M1083.3 277.6h0M1065.2 274.5h0M1113.2 273.2h0M1143.7 271.8h0M1136.6 269.5h0M1106.2 268.6h0M1123.6 266.3h0M1068.0 265.6h0M1084.8 263.6h0M1147.5 262.0h0M1100.6 261.0h0M1071.0 259.4h0M1116.7 257.5h0M1082.4 256.8h0M1133.4 255.3h0M1114.4 253.4h0M1082.2 253.2h0M1132.1 251.6h0M1074.0 250.5h0M1069.7 248.5h0M1129.5 247.8h0M1091.9 245.9h0M1142.5 242.7h0M1108.2 239.6h0M1080.6 237.6h0M1101.7 234.7h0M1125.6 232.8h0M1150.4 229.8h0M1093.6 227.4h0M1076.5 224.1h0M1129.8 221.0h0M1098.8 218.8h0M1133.5 215.6h0M1084.7 214.0h0M1143.0 211.0h0M1129.2 207.0h0M1091.7 204.7h0M1078.6 201.6h0M1106.9 198.4h0M1067.4 196.0h0M1085.1 193.4h0M1137.3 191.8h0M1121.8 186.8h0M1104.0 184.8h0M1122.1 183.1h0M1103.0 180.0h0M1075.0 175.3h0M1144.0 173.1h0M1081.4 170.2h0M1121.9 168.2h0M1087.6 165.8h0M1149.2 162.2h0M1073.1 160.8h0M1112.2 155.8h0M1088.4 153.3h0M1145.4 151.5h0M1128.9 148.3h0M1076.6 146.2h0M1104.9 141.5h0M1098.1 140.3h0M1103.2 137.0h0M1118.4 134.5h0M1136.4 132.2h0M1072.6 128.6h0M1089.5 127.3h0M1133.7 122.5h0M1071.2 121.6h0M1129.6 118.9h0M1114.3 116.3h0M1133.6 115.2h0M1069.8 112.9h0M1092.1 112.4h0M1104.8 110.8h0M1130.8 107.5h0M1094.3 105.2h0M1118.5 103.8h0M1141.0 101.6h0M1111.3 99.4h0M1080.2 97.2h0M1125.2 95.3h0M1097.3 93.3h0M1146.3 90.5h0M1099.2 86.5h0M1073.3 83.6h0M1104.2 82.7h0M1126.4 77.7h0M1094.1 73.0h0M1063.7 67.5h0M1137.5 48.6h0" stroke="#D52828" stroke-width="5.9" stroke-linecap="round"/>
<line x1="997.9" x2="997.9" y1="29.1" y2="117.7" stroke="#C2C2C2" stroke-width="1.4"/>
<line x1="997.9" x2="997.9" y1="205.5" y2="283.9" stroke="#C2C2C2" stroke-width="1.4"/>
<rect x="957" y="117.7" width="81.7" height="87.8" fill="none" stroke="#C2C2C2" stroke-width="1.5"/>
<line x1="957" x2="1038.8" y1="153.7" y2="153.7" stroke="#C2C2C2" stroke-width="3"/>
<line x1="1106.9" x2="1106.9" y1="49.7" y2="120.5" stroke="#C2C2C2" stroke-width="1.4"/>
<line x1="1106.9" x2="1106.9" y1="246.1" y2="281.7" stroke="#C2C2C2" stroke-width="1.4"/>
<rect x="1066" y="120.5" width="81.7" height="125.6" fill="none" stroke="#C2C2C2" stroke-width="1.5"/>
<line x1="1066" x2="1147.8" y1="183.5" y2="183.5" stroke="#C2C2C2" stroke-width="3"/>
<path d="M997.9,24.2V16.7H1106.9V24.2" fill="none" stroke="#000" stroke-width="1.4"/>
<text x="1052.4" y="17.9" font-size="17.6" text-anchor="middle">*</text>
<rect x="932.5" y="3.5" width="239.8" height="293.6" fill="none" stroke="#333333" stroke-width="1.1"/>
<line x1="927.9" x2="932.5" y1="285.4" y2="285.4" stroke="#333333" stroke-width="1.3"/>
<text x="923.4" y="290.7" text-anchor="end" class="tl">0</text>
<line x1="927.9" x2="932.5" y1="216.8" y2="216.8" stroke="#333333" stroke-width="1.3"/>
<text x="923.4" y="222.1" text-anchor="end" class="tl">2</text>
<line x1="927.9" x2="932.5" y1="148.3" y2="148.3" stroke="#333333" stroke-width="1.3"/>
<text x="923.4" y="153.6" text-anchor="end" class="tl">4</text>
<line x1="927.9" x2="932.5" y1="79.8" y2="79.8" stroke="#333333" stroke-width="1.3"/>
<text x="923.4" y="85" text-anchor="end" class="tl">6</text>
<line x1="927.9" x2="932.5" y1="11.2" y2="11.2" stroke="#333333" stroke-width="1.3"/>
<text x="923.4" y="16.5" text-anchor="end" class="tl">8</text>
<line x1="997.9" x2="997.9" y1="297.1" y2="301.7" stroke="#333333" stroke-width="1.3"/>
<text x="997.9" y="316" text-anchor="middle" class="tl">I+II</text>
<line x1="1106.9" x2="1106.9" y1="297.1" y2="301.7" stroke="#333333" stroke-width="1.3"/>
<text x="1106.9" y="316" text-anchor="middle" class="tl">III+IV</text>
<text transform="translate(906.8,150.3) rotate(-90)" text-anchor="middle" font-size="18.2">ANXA10 expression</text>
<line x1="1229.5" x2="1469.3" y1="251.1" y2="251.1" stroke="#EBEBEB" stroke-width="0.9"/>
<line x1="1229.5" x2="1469.3" y1="182.6" y2="182.6" stroke="#EBEBEB" stroke-width="0.9"/>
<line x1="1229.5" x2="1469.3" y1="114" y2="114" stroke="#EBEBEB" stroke-width="0.9"/>
<line x1="1229.5" x2="1469.3" y1="45.5" y2="45.5" stroke="#EBEBEB" stroke-width="0.9"/>
<line x1="1229.5" x2="1469.3" y1="285.4" y2="285.4" stroke="#EBEBEB" stroke-width="1.8"/>
<line x1="1229.5" x2="1469.3" y1="216.8" y2="216.8" stroke="#EBEBEB" stroke-width="1.8"/>
<line x1="1229.5" x2="1469.3" y1="148.3" y2="148.3" stroke="#EBEBEB" stroke-width="1.8"/>
<line x1="1229.5" x2="1469.3" y1="79.8" y2="79.8" stroke="#EBEBEB" stroke-width="1.8"/>
<line x1="1229.5" x2="1469.3" y1="11.2" y2="11.2" stroke="#EBEBEB" stroke-width="1.8"/>
<line x1="1294.9" x2="1294.9" y1="3.5" y2="297.1" stroke="#EBEBEB" stroke-width="1.8"/>
<line x1="1403.9" x2="1403.9" y1="3.5" y2="297.1" stroke="#EBEBEB" stroke-width="1.8"/>
<path d="M1289.8 283.9h0M1285.8 278.2h0M1329.8 274.7h0M1316.7 274.2h0M1253.7 272.1h0M1305.9 269.7h0M1329.3 268.8h0M1297.9 266.3h0M1274.0 266.0h0M1267.4 263.7h0M1288.7 263.4h0M1331.4 262.1h0M1313.5 260.6h0M1262.9 259.6h0M1286.0 257.7h0M1286.2 256.8h0M1313.5 256.2h0M1251.5 254.6h0M1278.4 253.5h0M1324.9 252.3h0M1266.5 251.7h0M1321.7 250.3h0M1313.9 249.6h0M1278.2 247.9h0M1294.7 247.2h0M1301.9 246.4h0M1275.4 245.5h0M1325.7 243.8h0M1306.0 242.5h0M1260.6 242.3h0M1313.3 240.8h0M1299.6 239.5h0M1331.9 238.7h0M1269.9 238.2h0M1261.0 236.6h0M1299.6 235.8h0M1308.4 235.0h0M1285.4 233.5h0M1323.4 233.1h0M1251.9 231.5h0M1294.5 230.9h0M1283.0 229.5h0M1318.0 228.9h0M1337.9 227.8h0M1263.5 227.4h0M1275.3 226.0h0M1288.0 225.2h0M1335.8 224.0h0M1307.4 223.5h0M1261.9 221.8h0M1266.3 221.1h0M1334.6 220.4h0M1278.7 219.5h0M1316.8 218.6h0M1292.5 217.0h0M1302.7 216.1h0M1311.4 215.2h0M1252.3 214.7h0M1274.7 213.3h0M1338.3 212.7h0M1307.5 211.4h0M1290.1 210.5h0M1334.9 209.5h0M1251.7 209.2h0M1279.9 208.4h0M1273.2 206.8h0M1315.2 206.4h0M1252.4 204.8h0M1287.4 204.0h0M1330.1 203.6h0M1304.7 202.5h0M1334.1 201.9h0M1300.0 201.2h0M1263.4 200.4h0M1281.9 199.4h0M1269.9 198.9h0M1330.9 198.0h0M1298.8 197.5h0M1261.1 196.7h0M1312.4 196.2h0M1261.1 195.1h0M1317.2 194.4h0M1284.2 193.5h0M1335.6 192.8h0M1301.1 192.2h0M1255.1 191.1h0M1307.8 190.6h0M1275.1 189.7h0M1336.9 189.1h0M1296.2 188.7h0M1309.5 187.9h0M1293.6 186.9h0M1264.2 185.9h0M1336.1 185.3h0M1272.1 184.7h0M1293.9 183.9h0M1329.4 183.4h0M1318.1 182.8h0M1280.1 182.1h0M1254.0 180.8h0M1279.5 180.2h0M1337.5 179.4h0M1258.7 178.5h0M1307.7 178.3h0M1298.1 177.4h0M1320.3 176.8h0M1253.6 175.5h0M1337.5 175.0h0M1290.5 174.5h0M1277.2 173.6h0M1259.0 172.6h0M1313.1 172.4h0M1292.5 171.3h0M1272.1 170.3h0M1328.8 169.5h0M1264.5 169.0h0M1323.3 168.3h0M1296.0 167.8h0M1269.1 167.2h0M1317.4 166.2h0M1299.3 165.6h0M1253.8 164.3h0M1335.4 164.2h0M1312.3 162.8h0M1285.8 162.4h0M1294.8 161.6h0M1280.1 161.1h0M1330.9 160.0h0M1313.8 159.6h0M1264.6 158.6h0M1332.1 157.7h0M1304.2 157.4h0M1299.9 156.3h0M1258.7 156.0h0M1283.9 155.0h0M1310.6 154.1h0M1288.9 153.7h0M1336.5 152.4h0M1272.9 152.0h0M1268.7 151.4h0M1266.1 151.0h0M1283.7 150.7h0M1325.9 149.9h0M1300.0 149.7h0M1305.4 149.3h0M1254.1 148.7h0M1270.6 148.2h0M1301.5 147.4h0M1318.5 147.0h0M1327.0 146.6h0M1257.0 146.1h0M1279.8 145.6h0M1302.2 145.1h0M1328.3 144.6h0M1319.7 144.1h0M1290.9 143.6h0M1263.9 143.2h0M1318.4 142.7h0M1271.3 142.3h0M1332.7 141.7h0M1270.0 141.0h0M1298.8 140.5h0M1335.2 140.1h0M1256.1 139.8h0M1305.4 139.3h0M1302.1 138.5h0M1271.9 138.1h0M1310.5 137.5h0M1337.6 137.0h0M1253.4 136.7h0M1283.5 136.1h0M1267.6 135.9h0M1304.9 135.3h0M1290.0 134.9h0M1330.4 134.2h0M1257.0 133.8h0M1324.3 133.0h0M1283.6 132.8h0M1301.9 132.3h0M1306.2 131.8h0M1292.6 131.2h0M1332.1 130.6h0M1305.3 130.1h0M1267.5 129.7h0M1282.3 129.0h0M1280.4 128.8h0M1331.2 128.1h0M1294.7 127.6h0M1315.0 127.3h0M1264.2 126.8h0M1310.8 126.4h0M1289.9 125.9h0M1251.6 124.9h0M1284.2 124.7h0M1326.5 124.3h0M1308.4 123.9h0M1291.5 123.3h0M1331.2 122.8h0M1263.5 122.2h0M1281.1 121.8h0M1317.9 121.3h0M1326.1 120.9h0M1286.9 120.2h0M1274.5 119.7h0M1254.0 119.2h0M1276.3 118.5h0M1332.2 118.0h0M1261.5 117.8h0M1290.9 117.2h0M1312.5 116.3h0M1337.7 115.7h0M1312.8 114.7h0M1272.3 114.4h0M1295.6 113.5h0M1262.9 112.8h0M1256.2 112.2h0M1276.9 111.7h0M1319.5 111.1h0M1303.4 110.2h0M1326.8 109.5h0M1296.7 109.2h0M1266.7 108.4h0M1277.4 107.7h0M1332.2 107.1h0M1311.4 106.6h0M1257.8 105.9h0M1273.3 105.0h0M1332.4 104.2h0M1291.4 103.3h0M1318.0 103.0h0M1325.0 102.0h0M1305.6 101.6h0M1260.4 100.5h0M1284.0 99.6h0M1292.0 98.9h0M1330.8 98.3h0M1272.8 97.3h0M1288.7 96.6h0M1305.9 96.0h0M1255.3 95.0h0M1322.0 94.5h0M1284.6 93.3h0M1299.3 92.6h0M1306.9 91.8h0M1261.8 90.9h0M1299.4 90.4h0M1254.2 89.2h0M1281.5 88.6h0M1307.2 87.1h0M1329.9 86.9h0M1287.1 85.6h0M1309.1 84.5h0M1261.2 83.4h0M1271.6 82.8h0M1332.9 82.0h0M1292.8 80.1h0M1262.4 79.9h0M1335.3 78.4h0M1272.6 76.8h0M1320.9 76.3h0M1277.5 75.0h0M1319.0 73.0h0M1262.8 71.7h0M1295.0 70.9h0M1332.6 69.3h0M1301.6 67.5h0M1324.3 66.1h0M1313.2 63.5h0M1253.1 60.9h0M1275.2 57.9h0M1280.0 56.6h0M1254.2 51.9h0M1294.9 51.1h0M1304.1 42.0h0M1336.2 29.1h0" stroke="#3A5FA3" stroke-width="5.9" stroke-linecap="round"/>
<path d="M1411.7 281.7h0M1422.5 276.1h0M1388.7 275.0h0M1376.2 272.2h0M1443.3 271.8h0M1430.7 270.1h0M1405.0 267.4h0M1384.0 266.0h0M1413.6 264.1h0M1364.0 262.9h0M1421.2 262.0h0M1365.7 259.6h0M1440.8 258.3h0M1399.5 257.5h0M1381.2 255.4h0M1398.3 254.1h0M1385.9 253.7h0M1432.8 252.2h0M1372.3 250.2h0M1428.9 249.3h0M1399.5 247.6h0M1369.7 246.5h0M1413.8 244.7h0M1391.6 242.5h0M1444.1 240.3h0M1436.6 238.3h0M1370.7 234.3h0M1405.6 233.8h0M1417.8 231.1h0M1387.3 228.7h0M1390.6 224.1h0M1400.5 223.3h0M1363.3 218.9h0M1416.6 216.5h0M1444.4 213.9h0M1368.7 212.1h0M1397.5 209.6h0M1423.6 205.9h0M1381.5 204.6h0M1437.4 201.5h0M1415.0 199.2h0M1404.1 196.5h0M1389.7 192.5h0M1367.0 190.9h0M1436.0 188.1h0M1415.4 184.9h0M1387.9 184.1h0M1370.8 180.8h0M1437.8 176.6h0M1402.2 175.0h0M1428.0 172.9h0M1387.5 170.6h0M1437.3 166.8h0M1374.3 165.1h0M1405.8 160.8h0M1385.7 158.8h0M1405.8 155.7h0M1438.2 152.3h0M1369.6 151.6h0M1419.2 147.3h0M1408.8 145.3h0M1417.4 143.7h0M1390.6 139.2h0M1443.3 137.6h0M1377.6 133.7h0M1404.1 130.5h0M1435.7 130.3h0M1378.2 127.6h0M1363.3 123.4h0M1423.6 120.7h0M1405.8 118.8h0M1368.4 116.1h0M1419.2 114.4h0M1438.7 112.4h0M1382.0 110.7h0M1397.6 107.8h0M1382.7 105.7h0M1445.4 104.8h0M1422.9 102.3h0M1366.3 98.9h0M1446.6 96.0h0M1404.1 93.1h0M1413.4 92.2h0M1370.3 88.1h0M1387.6 85.9h0M1445.1 83.1h0M1415.7 79.7h0M1397.4 74.3h0M1388.7 71.5h0M1370.0 65.3h0M1393.5 63.9h0M1372.5 52.5h0M1436.5 33.5h0" stroke="#D52828" stroke-width="5.9" stroke-linecap="round"/>
<line x1="1294.9" x2="1294.9" y1="29.1" y2="118.3" stroke="#C2C2C2" stroke-width="1.4"/>
<line x1="1294.9" x2="1294.9" y1="204" y2="283.9" stroke="#C2C2C2" stroke-width="1.4"/>
<rect x="1254" y="118.3" width="81.7" height="85.7" fill="none" stroke="#C2C2C2" stroke-width="1.5"/>
<line x1="1254" x2="1335.8" y1="152.6" y2="152.6" stroke="#C2C2C2" stroke-width="3"/>
<line x1="1403.9" x2="1403.9" y1="33.5" y2="120.3" stroke="#C2C2C2" stroke-width="1.4"/>
<line x1="1403.9" x2="1403.9" y1="244" y2="281.7" stroke="#C2C2C2" stroke-width="1.4"/>
<rect x="1363" y="120.3" width="81.7" height="123.7" fill="none" stroke="#C2C2C2" stroke-width="1.5"/>
<line x1="1363" x2="1444.8" y1="182.9" y2="182.9" stroke="#C2C2C2" stroke-width="3"/>
<path d="M1294.9,24.2V16.7H1403.9V24.2" fill="none" stroke="#000" stroke-width="1.4"/>
<text x="1349.4" y="17.9" font-size="17.6" text-anchor="middle">*</text>
<rect x="1229.5" y="3.5" width="239.8" height="293.6" fill="none" stroke="#333333" stroke-width="1.1"/>
<line x1="1224.9" x2="1229.5" y1="285.4" y2="285.4" stroke="#333333" stroke-width="1.3"/>
<text x="1220.4" y="290.7" text-anchor="end" class="tl">0</text>
<line x1="1224.9" x2="1229.5" y1="216.8" y2="216.8" stroke="#333333" stroke-width="1.3"/>
<text x="1220.4" y="222.1" text-anchor="end" class="tl">2</text>
<line x1="1224.9" x2="1229.5" y1="148.3" y2="148.3" stroke="#333333" stroke-width="1.3"/>
<text x="1220.4" y="153.6" text-anchor="end" class="tl">4</text>
<line x1="1224.9" x2="1229.5" y1="79.8" y2="79.8" stroke="#333333" stroke-width="1.3"/>
<text x="1220.4" y="85" text-anchor="end" class="tl">6</text>
<line x1="1224.9" x2="1229.5" y1="11.2" y2="11.2" stroke="#333333" stroke-width="1.3"/>
<text x="1220.4" y="16.5" text-anchor="end" class="tl">8</text>
<line x1="1294.9" x2="1294.9" y1="297.1" y2="301.7" stroke="#333333" stroke-width="1.3"/>
<text x="1294.9" y="316" text-anchor="middle" class="tl">T1+T2</text>
<line x1="1403.9" x2="1403.9" y1="297.1" y2="301.7" stroke="#333333" stroke-width="1.3"/>
<text x="1403.9" y="316" text-anchor="middle" class="tl">T3+T4</text>
<text transform="translate(1203.8,150.3) rotate(-90)" text-anchor="middle" font-size="18.2">ANXA10 expression</text>
<line x1="1526.5" x2="1766.3" y1="251.1" y2="251.1" stroke="#EBEBEB" stroke-width="0.9"/>
<line x1="1526.5" x2="1766.3" y1="182.6" y2="182.6" stroke="#EBEBEB" stroke-width="0.9"/>
<line x1="1526.5" x2="1766.3" y1="114" y2="114" stroke="#EBEBEB" stroke-width="0.9"/>
<line x1="1526.5" x2="1766.3" y1="45.5" y2="45.5" stroke="#EBEBEB" stroke-width="0.9"/>
<line x1="1526.5" x2="1766.3" y1="285.4" y2="285.4" stroke="#EBEBEB" stroke-width="1.8"/>
<line x1="1526.5" x2="1766.3" y1="216.8" y2="216.8" stroke="#EBEBEB" stroke-width="1.8"/>
<line x1="1526.5" x2="1766.3" y1="148.3" y2="148.3" stroke="#EBEBEB" stroke-width="1.8"/>
<line x1="1526.5" x2="1766.3" y1="79.8" y2="79.8" stroke="#EBEBEB" stroke-width="1.8"/>
<line x1="1526.5" x2="1766.3" y1="11.2" y2="11.2" stroke="#EBEBEB" stroke-width="1.8"/>
<line x1="1591.9" x2="1591.9" y1="3.5" y2="297.1" stroke="#EBEBEB" stroke-width="1.8"/>
<line x1="1700.9" x2="1700.9" y1="3.5" y2="297.1" stroke="#EBEBEB" stroke-width="1.8"/>
<path d="M1583.6 283.9h0M1601.4 278.1h0M1548.9 274.9h0M1580.8 270.7h0M1631.1 270.5h0M1620.8 267.0h0M1597.2 265.6h0M1567.9 264.4h0M1602.3 263.0h0M1555.5 260.8h0M1597.2 258.7h0M1633.0 257.9h0M1606.2 256.8h0M1561.4 254.8h0M1582.6 252.8h0M1563.2 251.7h0M1618.7 249.8h0M1614.3 249.1h0M1570.0 247.6h0M1586.1 245.5h0M1628.2 244.6h0M1565.4 243.8h0M1582.1 241.6h0M1587.9 241.2h0M1612.9 240.2h0M1571.0 238.2h0M1553.0 237.2h0M1617.8 235.7h0M1634.8 234.7h0M1596.0 232.9h0M1618.1 231.8h0M1557.7 230.8h0M1598.4 229.2h0M1573.4 227.9h0M1617.4 226.4h0M1552.5 225.5h0M1588.2 224.8h0M1634.3 223.0h0M1612.5 222.4h0M1578.8 220.6h0M1591.7 219.1h0M1552.5 218.5h0M1611.0 217.1h0M1626.7 215.2h0M1582.9 214.8h0M1621.7 213.7h0M1562.5 211.8h0M1592.9 210.8h0M1615.3 209.8h0M1567.1 208.4h0M1604.8 207.3h0M1574.5 206.3h0M1549.1 204.7h0M1593.9 204.2h0M1628.5 202.3h0M1634.3 201.5h0M1581.0 200.4h0M1594.3 198.6h0M1559.8 197.9h0M1616.3 197.2h0M1603.1 195.9h0M1619.5 195.4h0M1569.9 194.8h0M1559.8 194.0h0M1595.0 193.0h0M1584.0 192.1h0M1603.1 191.0h0M1557.9 190.2h0M1567.1 189.7h0M1630.6 188.9h0M1629.8 187.6h0M1605.6 187.2h0M1575.4 186.4h0M1595.3 185.3h0M1550.3 184.9h0M1558.7 184.2h0M1571.8 183.3h0M1621.2 182.6h0M1587.7 181.2h0M1614.1 180.1h0M1570.8 179.8h0M1605.5 178.6h0M1625.8 178.0h0M1556.1 177.2h0M1583.7 176.2h0M1633.2 175.9h0M1601.6 175.0h0M1564.5 174.3h0M1584.6 173.5h0M1568.1 172.3h0M1596.0 171.4h0M1565.2 170.3h0M1616.0 170.1h0M1621.7 169.0h0M1568.7 168.2h0M1586.9 167.2h0M1601.7 166.2h0M1633.2 165.6h0M1578.5 165.0h0M1552.3 164.0h0M1626.7 163.0h0M1617.7 162.8h0M1590.9 161.5h0M1556.0 161.0h0M1569.7 159.9h0M1577.4 159.1h0M1583.3 158.2h0M1549.4 157.6h0M1634.0 156.9h0M1615.6 156.2h0M1589.4 155.1h0M1570.4 153.8h0M1610.3 153.0h0M1621.8 152.2h0M1562.7 151.6h0M1605.1 151.0h0M1578.9 150.1h0M1632.3 149.6h0M1558.1 149.2h0M1599.1 148.5h0M1550.5 147.8h0M1604.3 147.3h0M1572.8 146.3h0M1592.9 145.7h0M1633.9 144.8h0M1600.0 144.5h0M1582.2 144.0h0M1623.6 143.0h0M1559.1 142.7h0M1605.2 141.9h0M1633.3 141.1h0M1584.2 140.4h0M1568.1 140.2h0M1603.6 139.6h0M1557.3 138.9h0M1550.6 138.2h0M1571.5 137.1h0M1620.3 136.7h0M1612.0 135.9h0M1597.2 135.4h0M1570.2 134.7h0M1622.8 134.3h0M1588.3 133.5h0M1609.6 132.9h0M1560.7 131.9h0M1587.6 131.3h0M1610.9 131.0h0M1564.6 130.1h0M1625.8 129.8h0M1582.6 129.0h0M1631.8 128.1h0M1608.5 127.5h0M1557.9 127.2h0M1572.6 126.3h0M1589.6 126.0h0M1614.2 124.9h0M1578.1 124.4h0M1591.7 123.7h0M1564.0 123.0h0M1630.0 122.6h0M1572.2 122.3h0M1550.2 121.1h0M1608.7 120.4h0M1589.4 119.8h0M1626.5 119.5h0M1631.0 118.8h0M1597.1 117.9h0M1548.9 117.4h0M1617.7 116.8h0M1582.6 116.2h0M1554.3 115.7h0M1612.2 115.1h0M1577.8 114.1h0M1599.2 113.4h0M1620.6 113.1h0M1618.1 112.3h0M1552.6 111.3h0M1596.4 110.5h0M1614.6 110.0h0M1570.4 109.7h0M1613.7 108.5h0M1573.0 108.1h0M1625.3 107.1h0M1551.1 106.6h0M1599.1 105.9h0M1603.3 105.0h0M1623.2 103.8h0M1597.2 103.7h0M1555.4 102.3h0M1573.3 101.4h0M1605.2 100.7h0M1574.0 99.8h0M1559.4 99.7h0M1625.4 98.2h0M1594.2 97.5h0M1597.2 97.2h0M1577.6 95.8h0M1629.0 95.2h0M1549.5 94.6h0M1606.9 93.2h0M1565.1 92.4h0M1630.6 91.5h0M1572.6 90.5h0M1607.0 89.5h0M1584.9 88.7h0M1596.8 88.2h0M1616.7 86.9h0M1554.8 85.6h0M1618.2 85.3h0M1581.3 84.1h0M1548.6 83.4h0M1614.9 81.9h0M1625.3 81.2h0M1576.0 78.9h0M1597.7 78.4h0M1630.1 77.4h0M1578.9 75.9h0M1592.4 74.4h0M1605.0 73.2h0M1557.0 71.1h0M1605.1 69.7h0M1595.3 67.8h0M1554.9 67.3h0M1580.2 65.5h0M1628.0 62.7h0M1560.1 61.2h0M1618.4 59.1h0M1571.9 55.4h0M1587.4 53.6h0M1617.2 48.3h0M1587.2 43.6h0M1581.3 29.1h0" stroke="#3A5FA3" stroke-width="5.9" stroke-linecap="round"/>
<path d="M1700.1 282.8h0M1732.4 277.2h0M1715.8 275.0h0M1676.9 272.8h0M1670.2 271.0h0M1667.4 270.0h0M1677.9 267.5h0M1738.7 265.6h0M1709.8 264.2h0M1708.6 264.0h0M1692.5 261.5h0M1677.9 261.0h0M1743.0 258.9h0M1712.8 257.2h0M1665.3 256.7h0M1715.5 254.3h0M1703.2 252.9h0M1675.3 252.0h0M1666.2 251.1h0M1740.9 249.8h0M1666.2 248.4h0M1676.5 247.3h0M1743.8 245.0h0M1714.6 244.6h0M1699.9 242.8h0M1662.4 242.0h0M1709.3 241.0h0M1714.5 239.4h0M1679.5 237.8h0M1743.0 236.3h0M1674.9 235.4h0M1671.5 234.6h0M1741.1 233.3h0M1717.7 231.5h0M1704.5 230.6h0M1682.0 228.9h0M1704.2 228.0h0M1723.1 226.3h0M1664.4 225.0h0M1744.0 224.2h0M1728.3 222.6h0M1675.0 220.6h0M1668.2 219.6h0M1712.1 218.4h0M1701.1 216.6h0M1672.5 215.8h0M1705.9 213.9h0M1678.8 213.5h0M1716.8 211.9h0M1737.9 209.7h0M1720.2 208.6h0M1693.2 207.4h0M1674.9 206.8h0M1737.3 204.5h0M1662.7 203.6h0M1726.2 202.7h0M1682.7 201.4h0M1741.4 200.1h0M1708.3 198.3h0M1669.4 196.7h0M1691.2 195.5h0M1735.9 194.0h0M1697.4 192.6h0M1710.2 191.7h0M1662.0 189.9h0M1693.7 189.0h0M1728.3 187.7h0M1657.9 186.5h0M1722.9 185.3h0M1677.9 183.5h0M1700.9 182.1h0M1664.3 181.4h0M1717.5 179.8h0M1739.2 178.2h0M1679.1 177.3h0M1677.2 175.7h0M1715.7 174.4h0M1666.6 173.9h0M1742.0 171.5h0M1700.3 170.5h0M1708.6 169.1h0M1663.7 168.8h0M1734.0 167.1h0M1721.3 165.5h0M1690.9 164.8h0M1722.7 163.7h0M1690.0 161.6h0M1664.5 160.1h0M1728.3 159.9h0M1704.1 157.6h0M1722.3 156.7h0M1737.6 156.0h0M1682.5 154.6h0M1702.6 152.7h0M1661.0 151.5h0M1690.3 151.0h0M1696.8 149.1h0M1670.3 148.4h0M1716.7 146.7h0M1742.0 145.6h0M1725.7 144.4h0M1672.7 143.0h0M1698.9 140.7h0M1741.9 138.3h0M1676.4 137.2h0M1698.4 135.8h0M1722.0 134.5h0M1732.4 131.3h0M1688.0 130.9h0M1658.7 128.4h0M1719.7 126.4h0M1675.1 125.2h0M1673.1 122.7h0M1708.5 120.0h0M1733.2 119.3h0M1689.4 116.5h0M1711.5 115.2h0M1672.2 112.1h0M1697.6 110.0h0M1741.2 106.3h0M1685.0 106.1h0M1668.9 102.3h0M1701.4 99.5h0M1720.4 96.9h0M1731.6 92.7h0M1693.0 90.2h0M1744.3 87.1h0M1688.1 85.7h0M1721.8 81.5h0M1664.3 74.7h0M1709.2 68.4h0M1742.1 66.6h0M1684.4 55.5h0M1671.3 33.5h0" stroke="#D52828" stroke-width="5.9" stroke-linecap="round"/>
<line x1="1591.9" x2="1591.9" y1="29.1" y2="113.3" stroke="#C2C2C2" stroke-width="1.4"/>
<line x1="1591.9" x2="1591.9" y1="198.2" y2="283.9" stroke="#C2C2C2" stroke-width="1.4"/>
<rect x="1551" y="113.3" width="81.7" height="84.9" fill="none" stroke="#C2C2C2" stroke-width="1.5"/>
<line x1="1551" x2="1632.8" y1="150.5" y2="150.5" stroke="#C2C2C2" stroke-width="3"/>
<line x1="1700.9" x2="1700.9" y1="33.5" y2="144.2" stroke="#C2C2C2" stroke-width="1.4"/>
<line x1="1700.9" x2="1700.9" y1="231.6" y2="282.8" stroke="#C2C2C2" stroke-width="1.4"/>
<rect x="1660" y="144.2" width="81.7" height="87.4" fill="none" stroke="#C2C2C2" stroke-width="1.5"/>
<line x1="1660" x2="1741.8" y1="186.7" y2="186.7" stroke="#C2C2C2" stroke-width="3"/>
<path d="M1591.9,24.2V16.7H1700.9V24.2" fill="none" stroke="#000" stroke-width="1.4"/>
<text x="1646.4" y="17.9" font-size="17.6" text-anchor="middle">****</text>
<rect x="1526.5" y="3.5" width="239.8" height="293.6" fill="none" stroke="#333333" stroke-width="1.1"/>
<line x1="1521.9" x2="1526.5" y1="285.4" y2="285.4" stroke="#333333" stroke-width="1.3"/>
<text x="1517.4" y="290.7" text-anchor="end" class="tl">0</text>
<line x1="1521.9" x2="1526.5" y1="216.8" y2="216.8" stroke="#333333" stroke-width="1.3"/>
<text x="1517.4" y="222.1" text-anchor="end" class="tl">2</text>
<line x1="1521.9" x2="1526.5" y1="148.3" y2="148.3" stroke="#333333" stroke-width="1.3"/>
<text x="1517.4" y="153.6" text-anchor="end" class="tl">4</text>
<line x1="1521.9" x2="1526.5" y1="79.8" y2="79.8" stroke="#333333" stroke-width="1.3"/>
<text x="1517.4" y="85" text-anchor="end" class="tl">6</text>
<line x1="1521.9" x2="1526.5" y1="11.2" y2="11.2" stroke="#333333" stroke-width="1.3"/>
<text x="1517.4" y="16.5" text-anchor="end" class="tl">8</text>
<line x1="1591.9" x2="1591.9" y1="297.1" y2="301.7" stroke="#333333" stroke-width="1.3"/>
<text x="1591.9" y="316" text-anchor="middle" class="tl">G1+G2</text>
<line x1="1700.9" x2="1700.9" y1="297.1" y2="301.7" stroke="#333333" stroke-width="1.3"/>
<text x="1700.9" y="316" text-anchor="middle" class="tl">G3+G4</text>
<text transform="translate(1500.8,150.3) rotate(-90)" text-anchor="middle" font-size="18.2">ADH1B expression</text>
<text transform="translate(884,29) scale(0.93,1)" font-size="38.3" font-weight="bold">B</text>
<line x1="41.5" x2="281.3" y1="600.1" y2="600.1" stroke="#EBEBEB" stroke-width="0.9"/>
<line x1="41.5" x2="281.3" y1="511.1" y2="511.1" stroke="#EBEBEB" stroke-width="0.9"/>
<line x1="41.5" x2="281.3" y1="422.1" y2="422.1" stroke="#EBEBEB" stroke-width="0.9"/>
<line x1="41.5" x2="281.3" y1="644.6" y2="644.6" stroke="#EBEBEB" stroke-width="1.8"/>
<line x1="41.5" x2="281.3" y1="555.6" y2="555.6" stroke="#EBEBEB" stroke-width="1.8"/>
<line x1="41.5" x2="281.3" y1="466.6" y2="466.6" stroke="#EBEBEB" stroke-width="1.8"/>
<line x1="41.5" x2="281.3" y1="377.6" y2="377.6" stroke="#EBEBEB" stroke-width="1.8"/>
<line x1="106.9" x2="106.9" y1="360" y2="653.4" stroke="#EBEBEB" stroke-width="1.8"/>
<line x1="215.9" x2="215.9" y1="360" y2="653.4" stroke="#EBEBEB" stroke-width="1.8"/>
<path d="M147.6 640.5h0M122.8 636.7h0M107.0 635.2h0M76.3 634.0h0M88.0 632.9h0M108.1 632.0h0M142.1 631.4h0M87.7 630.6h0M116.6 629.3h0M76.6 628.9h0M116.0 628.1h0M137.9 627.1h0M77.0 626.3h0M98.2 625.3h0M98.2 624.5h0M150.4 623.6h0M90.6 622.9h0M70.1 622.0h0M119.1 620.9h0M102.5 620.6h0M66.1 619.7h0M113.3 618.6h0M139.2 618.2h0M122.4 617.5h0M91.6 616.6h0M69.3 615.6h0M115.9 615.4h0M88.6 614.5h0M141.4 613.8h0M113.1 612.9h0M110.4 612.4h0M137.4 611.3h0M127.6 610.4h0M76.5 609.7h0M82.1 609.5h0M124.7 608.4h0M133.1 607.9h0M68.8 606.8h0M93.5 606.7h0M111.8 605.8h0M89.2 604.7h0M114.1 604.3h0M69.6 603.6h0M142.4 602.6h0M117.0 602.1h0M147.2 601.4h0M73.3 600.8h0M117.0 599.7h0M92.8 599.2h0M98.7 598.5h0M74.1 598.2h0M114.6 597.2h0M140.6 596.5h0M123.9 595.6h0M95.5 594.8h0M130.4 594.4h0M69.4 593.5h0M133.1 592.7h0M107.1 592.4h0M97.9 591.4h0M78.3 590.9h0M129.7 590.2h0M91.0 589.5h0M133.6 588.4h0M100.2 588.2h0M149.2 587.3h0M130.7 587.1h0M99.2 586.3h0M88.0 585.7h0M72.5 585.4h0M118.1 584.7h0M69.7 584.0h0M85.2 583.4h0M142.7 583.0h0M107.0 582.7h0M76.0 582.2h0M95.3 581.7h0M137.6 580.7h0M107.5 580.2h0M122.4 579.6h0M149.4 579.4h0M104.3 578.7h0M86.7 578.3h0M122.4 577.4h0M76.3 577.0h0M84.2 576.4h0M119.6 576.1h0M107.5 575.3h0M75.2 574.9h0M150.0 574.6h0M113.4 573.8h0M95.9 573.4h0M141.5 572.8h0M77.9 572.1h0M131.5 571.5h0M123.8 571.3h0M113.6 570.6h0M92.1 569.9h0M77.0 569.6h0M138.4 569.1h0M150.3 568.6h0M103.2 567.6h0M125.4 567.2h0M96.3 566.9h0M79.5 566.3h0M93.6 565.7h0M129.0 565.2h0M113.4 564.5h0M63.4 563.7h0M137.4 563.4h0M125.5 563.2h0M74.1 562.4h0M135.1 562.0h0M83.7 561.5h0M109.4 560.8h0M85.7 560.0h0M80.5 559.5h0M148.3 559.1h0M131.3 558.3h0M103.4 557.9h0M120.2 557.3h0M102.0 556.9h0M94.5 556.6h0M69.3 555.8h0M135.7 555.1h0M148.8 554.6h0M88.4 554.3h0M78.3 553.8h0M130.0 552.9h0M103.3 552.4h0M125.4 552.2h0M140.2 551.2h0M113.3 550.5h0M95.9 550.4h0M78.3 549.6h0M95.3 549.2h0M116.6 548.3h0M69.4 547.8h0M149.6 547.4h0M112.7 546.8h0M115.8 546.1h0M101.0 545.3h0M92.2 544.9h0M146.0 544.3h0M74.3 544.1h0M114.2 543.2h0M148.2 542.8h0M73.3 542.4h0M94.5 541.7h0M126.2 541.0h0M81.0 540.4h0M108.3 540.0h0M124.7 539.2h0M143.0 538.4h0M72.2 538.0h0M92.0 537.5h0M137.1 537.0h0M127.5 536.5h0M67.5 535.5h0M106.7 534.9h0M138.3 534.6h0M110.3 534.1h0M68.3 533.1h0M131.6 533.0h0M91.3 531.9h0M141.9 531.6h0M77.8 531.2h0M92.4 530.4h0M116.7 529.7h0M110.8 529.4h0M76.0 528.6h0M112.2 528.0h0M119.0 527.7h0M81.4 527.2h0M138.7 526.6h0M122.7 525.6h0M147.2 525.0h0M70.0 524.8h0M92.7 523.9h0M105.2 523.3h0M68.1 523.2h0M125.8 522.1h0M109.9 522.0h0M92.7 521.4h0M138.8 520.4h0M117.7 520.2h0M69.9 519.3h0M109.3 519.0h0M87.8 518.1h0M150.4 517.5h0M66.5 517.0h0M125.5 516.5h0M88.3 516.0h0M110.9 515.0h0M139.6 514.6h0M145.8 513.4h0M110.2 512.5h0M120.5 511.7h0M75.7 511.2h0M89.0 509.9h0M137.0 509.4h0M65.6 508.5h0M100.4 507.2h0M97.9 507.0h0M129.1 506.1h0M111.4 505.1h0M66.8 503.9h0M136.5 502.6h0M119.1 501.7h0M90.6 500.7h0M69.2 499.8h0M94.6 499.1h0M125.1 497.8h0M140.2 497.4h0M114.5 495.9h0M146.3 495.1h0M70.8 494.0h0M106.3 492.8h0M116.2 491.9h0M90.1 491.2h0M142.7 489.1h0M85.0 488.5h0M71.9 487.0h0M112.6 486.5h0M121.7 485.2h0M146.4 483.6h0M95.6 482.5h0M107.0 481.0h0M64.9 479.2h0M132.7 478.0h0M134.7 477.5h0M111.6 475.9h0M69.3 473.5h0M83.6 471.8h0M118.0 471.1h0M79.4 468.8h0M115.0 467.0h0M129.7 465.4h0M87.4 463.0h0M145.1 461.9h0M83.3 460.5h0M103.3 457.9h0M150.5 455.2h0M70.2 452.5h0M118.0 451.0h0M68.5 448.6h0M96.6 445.2h0M133.4 443.6h0M106.6 438.5h0M132.8 433.4h0M69.9 428.8h0M128.9 423.2h0M101.7 415.5h0M86.5 411.3h0M140.9 399.9h0M142.4 392.4h0M107.7 385.1h0" stroke="#3A5FA3" stroke-width="5.9" stroke-linecap="round"/>
<path d="M245.5 635.6h0M226.3 626.4h0M177.8 621.8h0M191.9 618.6h0M218.8 615.3h0M216.2 614.1h0M240.6 612.5h0M199.0 610.0h0M184.8 607.7h0M249.6 606.0h0M254.5 603.7h0M241.2 600.9h0M188.7 598.2h0M195.8 597.9h0M208.9 595.1h0M240.9 593.8h0M181.4 591.3h0M213.7 590.7h0M247.5 588.4h0M195.1 586.0h0M214.7 584.5h0M181.2 582.7h0M229.1 581.7h0M258.4 580.1h0M195.4 576.8h0M214.4 574.4h0M231.1 572.5h0M191.6 571.2h0M248.2 567.8h0M180.0 567.5h0M221.1 564.9h0M195.9 562.4h0M185.2 560.9h0M235.7 558.7h0M255.8 555.4h0M199.6 554.3h0M222.3 551.5h0M225.8 549.7h0M188.0 546.5h0M253.7 544.9h0M222.3 543.5h0M234.1 541.8h0M177.3 539.8h0M247.1 537.8h0M204.8 535.1h0M202.5 532.2h0M225.9 531.8h0M175.5 529.9h0M249.8 527.5h0M223.9 525.5h0M209.6 523.0h0M237.4 520.9h0M185.3 519.7h0M206.8 518.6h0M258.6 516.1h0M248.9 514.4h0M225.6 512.7h0M182.3 510.7h0M202.9 509.0h0M213.2 507.6h0M219.8 505.1h0M230.5 503.7h0M198.0 501.4h0M249.6 499.1h0M182.3 497.3h0M195.5 496.1h0M242.1 493.9h0M241.7 492.9h0M180.7 490.6h0M219.7 488.6h0M236.9 485.6h0M251.7 483.5h0M197.3 481.5h0M185.6 480.8h0M214.1 477.8h0M184.9 475.5h0M210.6 472.8h0M231.4 470.1h0M199.8 469.1h0M244.8 466.2h0M244.1 463.3h0M236.6 459.7h0M177.4 456.9h0M223.2 454.9h0M191.4 451.1h0M175.6 446.9h0M202.5 442.2h0M226.9 438.4h0M219.2 426.1h0M254.8 411.1h0" stroke="#D52828" stroke-width="5.9" stroke-linecap="round"/>
<line x1="106.9" x2="106.9" y1="428.8" y2="515.8" stroke="#C2C2C2" stroke-width="1.4"/>
<line x1="106.9" x2="106.9" y1="588.1" y2="639.9" stroke="#C2C2C2" stroke-width="1.4"/>
<rect x="66" y="515.8" width="81.8" height="72.3" fill="none" stroke="#C2C2C2" stroke-width="1.5"/>
<line x1="66" x2="147.8" y1="553.1" y2="553.1" stroke="#C2C2C2" stroke-width="3"/>
<line x1="215.9" x2="215.9" y1="411.1" y2="492.4" stroke="#C2C2C2" stroke-width="1.4"/>
<line x1="215.9" x2="215.9" y1="581.2" y2="635.6" stroke="#C2C2C2" stroke-width="1.4"/>
<rect x="175" y="492.4" width="81.8" height="88.8" fill="none" stroke="#C2C2C2" stroke-width="1.5"/>
<line x1="175" x2="256.8" y1="533.7" y2="533.7" stroke="#C2C2C2" stroke-width="3"/>
<path d="M106.9,380.7V373.2H215.9V380.7" fill="none" stroke="#000" stroke-width="1.4"/>
<text x="161.4" y="374.4" font-size="17.6" text-anchor="middle">*</text>
<rect x="41.5" y="360" width="239.8" height="293.4" fill="none" stroke="#333333" stroke-width="1.1"/>
<line x1="36.9" x2="41.5" y1="644.6" y2="644.6" stroke="#333333" stroke-width="1.3"/>
<text x="32.4" y="649.9" text-anchor="end" class="tl">0</text>
<line x1="36.9" x2="41.5" y1="555.6" y2="555.6" stroke="#333333" stroke-width="1.3"/>
<text x="32.4" y="560.9" text-anchor="end" class="tl">2</text>
<line x1="36.9" x2="41.5" y1="466.6" y2="466.6" stroke="#333333" stroke-width="1.3"/>
<text x="32.4" y="471.9" text-anchor="end" class="tl">4</text>
<line x1="36.9" x2="41.5" y1="377.6" y2="377.6" stroke="#333333" stroke-width="1.3"/>
<text x="32.4" y="382.9" text-anchor="end" class="tl">6</text>
<line x1="106.9" x2="106.9" y1="653.4" y2="658" stroke="#333333" stroke-width="1.3"/>
<text x="106.9" y="672.3" text-anchor="middle" class="tl">I+II</text>
<line x1="215.9" x2="215.9" y1="653.4" y2="658" stroke="#333333" stroke-width="1.3"/>
<text x="215.9" y="672.3" text-anchor="middle" class="tl">III+IV</text>
<text transform="translate(15.8,506.7) rotate(-90)" text-anchor="middle" font-size="18.2">ASPM expression</text>
<line x1="338.5" x2="578.3" y1="600.1" y2="600.1" stroke="#EBEBEB" stroke-width="0.9"/>
<line x1="338.5" x2="578.3" y1="511.1" y2="511.1" stroke="#EBEBEB" stroke-width="0.9"/>
<line x1="338.5" x2="578.3" y1="422.1" y2="422.1" stroke="#EBEBEB" stroke-width="0.9"/>
<line x1="338.5" x2="578.3" y1="644.6" y2="644.6" stroke="#EBEBEB" stroke-width="1.8"/>
<line x1="338.5" x2="578.3" y1="555.6" y2="555.6" stroke="#EBEBEB" stroke-width="1.8"/>
<line x1="338.5" x2="578.3" y1="466.6" y2="466.6" stroke="#EBEBEB" stroke-width="1.8"/>
<line x1="338.5" x2="578.3" y1="377.6" y2="377.6" stroke="#EBEBEB" stroke-width="1.8"/>
<line x1="403.9" x2="403.9" y1="360" y2="653.4" stroke="#EBEBEB" stroke-width="1.8"/>
<line x1="512.9" x2="512.9" y1="360" y2="653.4" stroke="#EBEBEB" stroke-width="1.8"/>
<path d="M380.9 640.5h0M446.0 636.3h0M406.2 635.5h0M375.5 634.2h0M423.3 633.6h0M432.8 632.7h0M385.9 631.3h0M402.6 631.1h0M423.2 629.6h0M372.9 629.0h0M419.4 628.5h0M406.6 627.6h0M375.5 626.8h0M377.8 626.2h0M430.3 625.3h0M386.2 624.0h0M408.9 623.7h0M439.9 622.6h0M429.8 621.9h0M377.3 621.7h0M365.0 620.7h0M407.5 620.0h0M424.5 619.6h0M388.1 618.4h0M435.1 618.0h0M392.7 617.0h0M404.1 616.3h0M424.1 615.6h0M364.2 614.9h0M441.5 614.5h0M438.2 613.6h0M428.0 612.8h0M394.6 612.3h0M373.3 611.5h0M402.4 610.7h0M436.6 610.4h0M384.7 609.8h0M414.2 608.9h0M375.7 608.0h0M398.9 607.6h0M425.4 606.5h0M402.4 606.3h0M371.7 605.2h0M384.9 604.6h0M444.9 604.1h0M410.0 603.3h0M445.4 603.0h0M427.1 602.4h0M394.9 601.8h0M364.9 601.1h0M384.0 600.1h0M403.3 599.8h0M372.7 599.1h0M419.7 598.1h0M434.1 597.4h0M361.3 597.0h0M416.5 595.9h0M438.6 595.7h0M400.0 594.7h0M380.9 594.4h0M439.5 593.3h0M429.8 592.6h0M394.1 591.9h0M410.0 591.6h0M366.3 590.6h0M366.6 590.1h0M444.8 589.3h0M398.7 588.9h0M383.4 588.1h0M413.8 587.9h0M367.4 587.4h0M409.2 586.9h0M435.8 586.4h0M429.5 585.9h0M394.4 585.1h0M404.5 584.7h0M426.2 584.0h0M444.0 583.9h0M369.8 583.1h0M384.9 582.7h0M375.4 582.1h0M431.2 581.9h0M409.2 581.4h0M391.3 580.7h0M422.1 579.9h0M433.2 579.7h0M380.8 579.1h0M416.5 578.6h0M408.2 578.3h0M362.9 577.5h0M439.4 577.3h0M384.1 576.7h0M426.1 576.2h0M396.4 575.5h0M372.4 575.0h0M372.2 574.6h0M413.5 574.4h0M441.1 573.8h0M405.1 573.3h0M385.7 572.5h0M362.6 572.0h0M408.7 571.7h0M380.6 571.3h0M420.7 570.4h0M432.8 569.9h0M442.9 569.8h0M391.0 569.0h0M407.5 568.4h0M360.5 568.0h0M416.1 567.4h0M438.7 567.3h0M365.0 566.6h0M388.2 566.2h0M399.8 565.4h0M422.1 565.1h0M397.3 564.4h0M425.3 564.1h0M375.5 563.5h0M444.4 563.0h0M385.3 562.4h0M433.0 562.2h0M394.7 561.5h0M374.6 561.2h0M413.8 560.7h0M407.5 560.1h0M439.0 559.5h0M368.2 558.9h0M395.3 558.5h0M413.2 558.1h0M387.0 557.7h0M422.9 556.9h0M367.0 556.6h0M438.0 555.8h0M399.5 555.5h0M380.9 555.0h0M394.3 554.4h0M361.5 553.8h0M407.0 553.5h0M426.9 553.1h0M434.4 552.4h0M428.0 551.6h0M430.7 551.1h0M398.2 550.6h0M371.7 550.4h0M392.4 549.8h0M374.5 548.9h0M380.5 548.6h0M429.0 547.9h0M410.8 547.5h0M442.4 546.9h0M367.4 546.2h0M383.4 545.8h0M415.1 545.4h0M397.4 544.7h0M439.4 544.1h0M369.2 543.6h0M411.3 543.3h0M390.6 542.3h0M416.8 542.1h0M436.9 541.5h0M436.5 541.1h0M394.9 540.2h0M408.0 539.7h0M423.5 539.1h0M377.1 538.5h0M444.4 538.1h0M405.0 537.8h0M417.3 537.1h0M381.6 536.4h0M360.4 536.0h0M444.9 535.4h0M390.4 535.1h0M404.0 534.4h0M420.8 533.7h0M364.5 533.0h0M423.5 532.9h0M400.6 531.8h0M375.3 531.8h0M393.4 530.9h0M446.8 530.5h0M402.9 530.0h0M375.0 529.6h0M424.2 528.8h0M441.9 528.1h0M391.2 527.6h0M378.7 527.4h0M365.6 526.4h0M447.3 526.0h0M425.3 525.6h0M405.0 525.0h0M407.0 524.4h0M447.2 523.7h0M423.2 523.3h0M369.9 523.1h0M384.3 522.4h0M411.9 521.9h0M430.0 520.9h0M386.3 520.6h0M435.8 519.9h0M363.4 519.5h0M442.6 519.0h0M360.9 518.2h0M398.8 517.7h0M381.6 517.1h0M423.5 516.6h0M413.5 516.4h0M438.7 515.5h0M410.0 514.7h0M365.2 514.4h0M393.2 513.8h0M371.7 513.1h0M441.3 512.4h0M377.7 511.6h0M402.2 510.5h0M413.2 510.1h0M362.5 509.3h0M390.2 508.8h0M427.1 508.0h0M409.5 506.9h0M434.0 506.5h0M364.3 505.8h0M387.8 505.3h0M425.9 504.4h0M400.5 503.3h0M442.9 502.3h0M402.3 502.1h0M426.0 501.2h0M368.5 500.3h0M394.1 499.4h0M447.3 498.3h0M384.3 498.2h0M417.6 496.6h0M410.5 496.4h0M431.6 495.2h0M369.6 493.8h0M416.0 493.3h0M369.2 492.2h0M380.5 491.4h0M441.3 490.8h0M398.1 489.5h0M398.7 488.1h0M368.1 487.8h0M381.8 486.4h0M432.0 485.0h0M424.6 484.4h0M400.0 483.2h0M421.0 481.8h0M373.2 480.3h0M445.8 479.3h0M394.4 478.0h0M372.4 477.6h0M408.4 475.2h0M385.5 474.4h0M415.9 473.4h0M444.4 470.8h0M417.2 469.8h0M369.5 468.3h0M446.1 466.5h0M402.4 465.6h0M388.6 463.4h0M435.3 461.5h0M385.2 458.9h0M415.9 458.0h0M362.2 455.8h0M404.1 452.7h0M417.1 450.5h0M435.5 447.7h0M398.3 443.6h0M386.7 439.0h0M370.1 438.2h0M429.6 428.8h0M399.5 424.0h0M364.2 416.1h0M387.1 401.6h0M440.0 385.1h0" stroke="#3A5FA3" stroke-width="5.9" stroke-linecap="round"/>
<path d="M500.5 635.6h0M524.2 628.3h0M510.7 621.7h0M547.9 620.7h0M482.8 618.0h0M521.7 613.7h0M478.7 612.6h0M549.7 610.0h0M509.0 608.4h0M497.0 606.2h0M532.5 604.1h0M472.1 602.0h0M490.3 599.2h0M521.3 597.3h0M539.4 595.6h0M547.3 594.1h0M483.3 592.8h0M505.1 591.6h0M526.9 588.7h0M495.2 587.6h0M495.6 585.9h0M514.6 584.6h0M534.4 582.5h0M542.4 580.7h0M478.1 577.5h0M499.9 574.7h0M518.5 572.7h0M545.2 570.2h0M470.2 567.4h0M537.1 564.2h0M515.7 561.5h0M480.2 560.1h0M549.1 556.6h0M498.4 555.8h0M526.4 553.1h0M474.0 550.4h0M514.1 546.6h0M553.3 545.1h0M530.4 542.8h0M495.9 539.1h0M540.2 537.7h0M517.4 533.1h0M479.2 531.1h0M493.4 528.7h0M537.1 526.6h0M503.4 524.4h0M475.6 522.5h0M552.0 520.3h0M504.8 519.4h0M525.1 517.5h0M523.3 516.9h0M550.3 515.2h0M478.8 513.7h0M491.0 512.5h0M508.1 511.3h0M479.1 509.9h0M505.5 508.5h0M537.3 507.5h0M547.1 505.7h0M493.7 504.6h0M511.1 503.0h0M553.2 502.4h0M523.2 500.2h0M496.6 499.3h0M474.9 497.9h0M482.8 496.8h0M534.2 495.7h0M554.8 493.3h0M505.9 492.5h0M493.2 491.6h0M510.5 489.0h0M471.3 488.5h0M538.1 484.9h0M489.0 484.5h0M552.8 481.3h0M473.4 479.1h0M512.5 477.1h0M495.2 476.3h0M527.4 473.7h0M543.6 472.6h0M541.9 470.1h0M509.5 466.3h0M522.7 465.1h0M500.5 462.3h0M471.7 458.0h0M533.3 454.7h0M494.7 451.8h0M542.1 450.9h0M481.4 444.4h0M518.7 440.4h0M523.0 436.8h0M478.4 428.0h0M503.0 411.1h0" stroke="#D52828" stroke-width="5.9" stroke-linecap="round"/>
<line x1="403.9" x2="403.9" y1="428.8" y2="515.8" stroke="#C2C2C2" stroke-width="1.4"/>
<line x1="403.9" x2="403.9" y1="588.1" y2="639.9" stroke="#C2C2C2" stroke-width="1.4"/>
<rect x="363" y="515.8" width="81.7" height="72.3" fill="none" stroke="#C2C2C2" stroke-width="1.5"/>
<line x1="363" x2="444.8" y1="553.5" y2="553.5" stroke="#C2C2C2" stroke-width="3"/>
<line x1="512.9" x2="512.9" y1="411.1" y2="490.9" stroke="#C2C2C2" stroke-width="1.4"/>
<line x1="512.9" x2="512.9" y1="581.2" y2="635.6" stroke="#C2C2C2" stroke-width="1.4"/>
<rect x="472" y="490.9" width="81.7" height="90.3" fill="none" stroke="#C2C2C2" stroke-width="1.5"/>
<line x1="472" x2="553.8" y1="521.6" y2="521.6" stroke="#C2C2C2" stroke-width="3"/>
<path d="M403.9,380.7V373.2H512.9V380.7" fill="none" stroke="#000" stroke-width="1.4"/>
<text x="458.4" y="374.4" font-size="17.6" text-anchor="middle">**</text>
<rect x="338.5" y="360" width="239.8" height="293.4" fill="none" stroke="#333333" stroke-width="1.1"/>
<line x1="333.9" x2="338.5" y1="644.6" y2="644.6" stroke="#333333" stroke-width="1.3"/>
<text x="329.4" y="649.9" text-anchor="end" class="tl">0</text>
<line x1="333.9" x2="338.5" y1="555.6" y2="555.6" stroke="#333333" stroke-width="1.3"/>
<text x="329.4" y="560.9" text-anchor="end" class="tl">2</text>
<line x1="333.9" x2="338.5" y1="466.6" y2="466.6" stroke="#333333" stroke-width="1.3"/>
<text x="329.4" y="471.9" text-anchor="end" class="tl">4</text>
<line x1="333.9" x2="338.5" y1="377.6" y2="377.6" stroke="#333333" stroke-width="1.3"/>
<text x="329.4" y="382.9" text-anchor="end" class="tl">6</text>
<line x1="403.9" x2="403.9" y1="653.4" y2="658" stroke="#333333" stroke-width="1.3"/>
<text x="403.9" y="672.3" text-anchor="middle" class="tl">T1+T2</text>
<line x1="512.9" x2="512.9" y1="653.4" y2="658" stroke="#333333" stroke-width="1.3"/>
<text x="512.9" y="672.3" text-anchor="middle" class="tl">T3+T4</text>
<text transform="translate(312.8,506.7) rotate(-90)" text-anchor="middle" font-size="18.2">ASPM expression</text>
<line x1="635.5" x2="875.3" y1="600.1" y2="600.1" stroke="#EBEBEB" stroke-width="0.9"/>
<line x1="635.5" x2="875.3" y1="511.1" y2="511.1" stroke="#EBEBEB" stroke-width="0.9"/>
<line x1="635.5" x2="875.3" y1="422.1" y2="422.1" stroke="#EBEBEB" stroke-width="0.9"/>
<line x1="635.5" x2="875.3" y1="644.6" y2="644.6" stroke="#EBEBEB" stroke-width="1.8"/>
<line x1="635.5" x2="875.3" y1="555.6" y2="555.6" stroke="#EBEBEB" stroke-width="1.8"/>
<line x1="635.5" x2="875.3" y1="466.6" y2="466.6" stroke="#EBEBEB" stroke-width="1.8"/>
<line x1="635.5" x2="875.3" y1="377.6" y2="377.6" stroke="#EBEBEB" stroke-width="1.8"/>
<line x1="700.9" x2="700.9" y1="360" y2="653.4" stroke="#EBEBEB" stroke-width="1.8"/>
<line x1="809.9" x2="809.9" y1="360" y2="653.4" stroke="#EBEBEB" stroke-width="1.8"/>
<path d="M675.5 637.7h0M671.4 634.5h0M725.9 633.9h0M728.3 633.1h0M704.7 632.3h0M694.7 631.0h0M718.3 630.1h0M744.0 629.2h0M685.3 628.5h0M671.0 628.1h0M710.3 627.3h0M700.6 626.4h0M734.9 625.7h0M685.8 625.4h0M671.9 624.6h0M668.0 623.8h0M679.3 623.1h0M731.2 622.0h0M700.9 621.6h0M713.7 620.9h0M724.4 620.1h0M743.0 619.6h0M665.6 619.1h0M690.3 618.4h0M707.0 617.7h0M658.7 617.2h0M706.6 616.5h0M729.2 615.4h0M686.0 615.2h0M717.8 614.1h0M743.6 614.0h0M715.4 612.9h0M706.7 612.3h0M677.8 611.9h0M672.5 611.0h0M704.5 610.7h0M665.1 609.5h0M691.6 609.5h0M742.1 608.4h0M710.5 607.9h0M738.4 607.3h0M657.7 606.6h0M715.9 606.1h0M702.2 605.4h0M679.5 604.5h0M697.3 604.0h0M740.5 603.6h0M687.5 602.9h0M660.1 602.1h0M713.8 601.7h0M720.1 600.7h0M668.8 600.1h0M701.0 599.7h0M738.9 598.9h0M686.1 598.2h0M686.9 597.6h0M670.4 597.0h0M701.0 596.7h0M714.6 596.1h0M737.6 595.3h0M700.6 595.0h0M736.8 594.1h0M722.4 593.8h0M658.8 593.2h0M680.1 592.5h0M658.2 592.2h0M720.9 591.6h0M727.1 591.2h0M689.9 590.2h0M703.2 590.0h0M727.8 589.2h0M721.9 588.9h0M672.2 588.2h0M709.0 587.5h0M679.4 587.3h0M687.8 586.5h0M730.4 585.9h0M707.8 585.7h0M718.4 585.0h0M667.2 584.7h0M739.7 583.8h0M671.8 583.5h0M675.8 582.6h0M722.8 582.1h0M698.6 581.5h0M670.2 581.3h0M705.8 580.8h0M718.2 580.1h0M737.8 579.6h0M681.8 578.9h0M683.6 578.6h0M741.0 578.1h0M708.1 577.2h0M667.3 576.5h0M721.1 576.1h0M744.3 575.9h0M716.7 574.9h0M658.3 574.7h0M677.8 573.8h0M700.7 573.3h0M702.4 572.9h0M686.9 572.3h0M671.1 572.0h0M744.3 571.3h0M711.6 570.8h0M702.2 570.1h0M681.2 569.7h0M714.1 568.8h0M667.7 568.5h0M740.6 568.0h0M705.5 567.2h0M736.9 567.0h0M659.8 566.2h0M682.7 565.5h0M719.6 565.0h0M740.3 564.7h0M682.2 564.3h0M671.5 563.3h0M720.4 562.7h0M702.7 561.6h0M721.1 561.2h0M687.2 560.5h0M704.8 560.0h0M731.4 558.9h0M661.2 558.5h0M727.9 557.3h0M705.4 556.5h0M721.1 556.0h0M668.7 555.6h0M686.4 554.5h0M684.2 554.2h0M706.9 553.3h0M735.5 552.7h0M657.6 551.9h0M724.4 551.3h0M662.1 550.2h0M721.9 549.4h0M741.8 548.6h0M682.2 548.4h0M705.6 547.3h0M657.8 546.4h0M694.4 546.1h0M716.8 545.1h0M741.1 544.4h0M675.1 543.7h0M742.1 543.2h0M673.4 542.3h0M709.8 541.5h0M700.1 540.7h0M683.9 540.2h0M718.5 539.9h0M665.0 538.9h0M729.9 538.3h0M706.7 537.7h0M685.2 536.5h0M657.6 536.0h0M715.3 535.5h0M743.6 534.3h0M707.3 533.5h0M678.9 533.0h0M724.2 532.1h0M674.8 531.7h0M738.4 530.8h0M665.3 530.1h0M707.2 529.6h0M728.8 529.0h0M716.9 528.1h0M658.3 527.6h0M694.4 526.6h0M681.1 526.1h0M738.3 525.5h0M699.4 524.4h0M716.0 523.5h0M684.2 523.0h0M658.2 522.3h0M664.0 521.4h0M728.9 520.6h0M705.9 519.1h0M714.3 518.4h0M685.0 517.6h0M718.5 516.2h0M676.6 515.5h0M735.8 514.4h0M668.4 513.4h0M699.4 512.7h0M704.2 510.7h0M663.1 510.4h0M735.2 509.0h0M681.1 508.3h0M724.0 506.4h0M661.2 506.1h0M716.0 505.0h0M677.3 503.0h0M698.3 502.1h0M744.2 500.6h0M704.1 500.1h0M682.8 499.0h0M661.0 496.7h0M731.7 495.4h0M714.4 494.7h0M727.4 493.3h0M709.7 491.8h0M693.1 490.9h0M682.5 488.8h0M665.6 487.0h0M733.8 486.0h0M692.9 484.0h0M718.7 482.9h0M658.1 481.0h0M680.7 479.7h0M699.2 477.3h0M729.8 475.9h0M690.3 474.1h0M713.6 470.7h0M669.5 468.6h0M724.8 466.3h0M735.9 466.2h0M692.8 462.8h0M671.3 460.0h0M691.1 457.2h0M737.7 455.7h0M706.0 450.8h0M724.2 449.7h0M691.2 446.2h0M658.2 442.5h0M736.5 437.0h0M694.8 429.3h0M726.9 427.1h0M677.2 414.3h0M662.2 413.1h0M741.6 411.0h0M684.0 405.2h0" stroke="#3A5FA3" stroke-width="5.9" stroke-linecap="round"/>
<path d="M803.1 640.5h0M845.2 627.6h0M788.7 625.6h0M770.2 621.5h0M832.9 618.8h0M779.7 613.9h0M853.0 612.5h0M818.9 610.8h0M814.5 609.0h0M784.3 606.8h0M782.3 604.3h0M830.4 601.7h0M787.1 599.2h0M804.8 596.8h0M850.6 596.2h0M792.4 594.0h0M847.5 593.0h0M827.7 590.2h0M780.1 588.5h0M812.7 586.2h0M784.1 585.0h0M812.7 583.0h0M837.4 582.0h0M835.7 580.6h0M769.0 577.5h0M766.5 576.6h0M790.8 575.6h0M816.8 574.1h0M840.5 572.1h0M831.0 570.2h0M811.0 568.1h0M788.2 567.6h0M820.5 564.8h0M840.7 563.6h0M768.6 562.9h0M769.1 561.9h0M796.6 560.2h0M845.7 559.6h0M816.2 558.6h0M819.5 557.2h0M831.4 556.1h0M852.3 555.3h0M791.4 554.1h0M783.4 553.7h0M812.2 552.3h0M770.6 551.9h0M850.1 550.7h0M792.0 549.5h0M820.0 548.1h0M813.9 547.7h0M833.8 546.7h0M790.2 545.8h0M840.2 544.2h0M771.2 543.4h0M806.7 542.3h0M843.1 541.1h0M804.2 539.7h0M826.0 539.1h0M798.5 538.5h0M769.1 536.7h0M775.6 536.4h0M795.5 534.9h0M812.0 534.4h0M827.9 532.9h0M844.2 532.0h0M779.6 531.2h0M815.9 530.4h0M848.5 529.3h0M795.5 527.8h0M833.5 526.5h0M785.3 525.5h0M848.6 524.4h0M823.8 523.4h0M776.7 521.8h0M810.1 521.4h0M768.8 520.2h0M845.2 518.9h0M790.0 518.1h0M802.0 517.1h0M819.1 515.5h0M815.6 514.3h0M822.3 513.5h0M846.0 512.5h0M775.6 511.0h0M798.5 510.0h0M768.1 508.3h0M853.0 508.0h0M816.0 506.9h0M798.2 505.3h0M830.2 504.3h0M832.7 503.1h0M784.1 502.6h0M804.6 500.4h0M771.5 499.8h0M837.6 498.4h0M838.6 497.6h0M831.3 496.6h0M770.5 495.6h0M790.3 493.8h0M814.4 493.3h0M802.8 491.4h0M799.3 490.4h0M839.6 488.2h0M826.8 486.3h0M776.0 486.1h0M778.1 483.0h0M787.9 481.5h0M822.7 481.0h0M813.6 477.7h0M842.0 477.3h0M809.0 474.3h0M772.2 472.6h0M822.4 471.7h0M790.5 469.1h0M840.3 468.1h0M845.4 465.9h0M820.1 463.2h0M767.3 461.3h0M797.5 458.7h0M811.1 456.7h0M777.9 454.2h0M794.4 451.9h0M837.6 449.1h0M812.1 447.7h0M833.4 445.3h0M842.5 440.3h0M812.4 436.4h0M832.3 433.2h0M775.8 429.8h0M796.3 427.8h0M839.2 420.9h0M829.2 418.5h0M783.1 407.1h0M805.4 385.1h0" stroke="#D52828" stroke-width="5.9" stroke-linecap="round"/>
<line x1="700.9" x2="700.9" y1="414.3" y2="522.7" stroke="#C2C2C2" stroke-width="1.4"/>
<line x1="700.9" x2="700.9" y1="596.3" y2="637.7" stroke="#C2C2C2" stroke-width="1.4"/>
<rect x="660" y="522.7" width="81.7" height="73.6" fill="none" stroke="#C2C2C2" stroke-width="1.5"/>
<line x1="660" x2="741.8" y1="564.3" y2="564.3" stroke="#C2C2C2" stroke-width="3"/>
<line x1="809.9" x2="809.9" y1="386.2" y2="492" stroke="#C2C2C2" stroke-width="1.4"/>
<line x1="809.9" x2="809.9" y1="563.7" y2="639.9" stroke="#C2C2C2" stroke-width="1.4"/>
<rect x="769" y="492" width="81.7" height="71.7" fill="none" stroke="#C2C2C2" stroke-width="1.5"/>
<line x1="769" x2="850.8" y1="529.4" y2="529.4" stroke="#C2C2C2" stroke-width="3"/>
<path d="M700.9,380.7V373.2H809.9V380.7" fill="none" stroke="#000" stroke-width="1.4"/>
<text x="755.4" y="374.4" font-size="17.6" text-anchor="middle">****</text>
<rect x="635.5" y="360" width="239.8" height="293.4" fill="none" stroke="#333333" stroke-width="1.1"/>
<line x1="630.9" x2="635.5" y1="644.6" y2="644.6" stroke="#333333" stroke-width="1.3"/>
<text x="626.4" y="649.9" text-anchor="end" class="tl">0</text>
<line x1="630.9" x2="635.5" y1="555.6" y2="555.6" stroke="#333333" stroke-width="1.3"/>
<text x="626.4" y="560.9" text-anchor="end" class="tl">2</text>
<line x1="630.9" x2="635.5" y1="466.6" y2="466.6" stroke="#333333" stroke-width="1.3"/>
<text x="626.4" y="471.9" text-anchor="end" class="tl">4</text>
<line x1="630.9" x2="635.5" y1="377.6" y2="377.6" stroke="#333333" stroke-width="1.3"/>
<text x="626.4" y="382.9" text-anchor="end" class="tl">6</text>
<line x1="700.9" x2="700.9" y1="653.4" y2="658" stroke="#333333" stroke-width="1.3"/>
<text x="700.9" y="672.3" text-anchor="middle" class="tl">G1+G2</text>
<line x1="809.9" x2="809.9" y1="653.4" y2="658" stroke="#333333" stroke-width="1.3"/>
<text x="809.9" y="672.3" text-anchor="middle" class="tl">G3+G4</text>
<text transform="translate(609.8,506.7) rotate(-90)" text-anchor="middle" font-size="18.2">ASPM expression</text>
<text transform="translate(2.7,362.4) scale(0.93,1)" font-size="38.3" font-weight="bold">C</text>
<line x1="932.5" x2="1172.3" y1="583.8" y2="583.8" stroke="#EBEBEB" stroke-width="0.9"/>
<line x1="932.5" x2="1172.3" y1="499.6" y2="499.6" stroke="#EBEBEB" stroke-width="0.9"/>
<line x1="932.5" x2="1172.3" y1="415.4" y2="415.4" stroke="#EBEBEB" stroke-width="0.9"/>
<line x1="932.5" x2="1172.3" y1="625.9" y2="625.9" stroke="#EBEBEB" stroke-width="1.8"/>
<line x1="932.5" x2="1172.3" y1="541.7" y2="541.7" stroke="#EBEBEB" stroke-width="1.8"/>
<line x1="932.5" x2="1172.3" y1="457.5" y2="457.5" stroke="#EBEBEB" stroke-width="1.8"/>
<line x1="932.5" x2="1172.3" y1="373.3" y2="373.3" stroke="#EBEBEB" stroke-width="1.8"/>
<line x1="997.9" x2="997.9" y1="360" y2="653.4" stroke="#EBEBEB" stroke-width="1.8"/>
<line x1="1106.9" x2="1106.9" y1="360" y2="653.4" stroke="#EBEBEB" stroke-width="1.8"/>
<path d="M1039.3 636.7h0M1001.3 627.0h0M1021.4 616.6h0M957.6 603.2h0M980.5 600.0h0M983.7 592.4h0M1012.4 591.6h0M955.9 586.8h0M1038.5 583.9h0M1006.3 581.4h0M1017.8 579.5h0M1041.4 577.9h0M980.9 577.1h0M964.2 575.1h0M991.6 572.5h0M1023.9 571.4h0M971.0 569.2h0M974.0 568.9h0M1025.7 567.3h0M1006.1 565.2h0M965.7 564.9h0M1002.8 562.8h0M1038.9 561.7h0M985.3 560.7h0M1022.7 560.2h0M1022.2 559.2h0M1005.6 557.8h0M969.5 557.0h0M1028.2 556.0h0M987.9 555.1h0M972.2 554.2h0M960.5 552.5h0M1007.5 552.0h0M991.5 551.3h0M1037.9 549.9h0M986.2 549.7h0M1025.6 548.8h0M999.8 548.2h0M1018.7 546.7h0M969.2 546.3h0M960.4 545.2h0M988.4 544.6h0M993.9 544.1h0M1021.3 543.4h0M1037.9 542.8h0M982.5 541.5h0M996.7 541.1h0M967.1 540.5h0M1025.9 539.5h0M1016.3 539.3h0M1022.6 538.2h0M958.5 538.0h0M1029.0 537.3h0M985.6 536.5h0M1006.1 535.6h0M962.0 535.0h0M1006.5 534.3h0M1035.0 533.5h0M980.4 533.1h0M1015.6 532.6h0M975.5 531.9h0M1015.7 531.7h0M1025.2 531.0h0M1002.1 530.1h0M960.7 529.7h0M956.6 529.3h0M1040.9 528.8h0M1022.9 528.7h0M990.7 528.2h0M972.8 527.8h0M1040.1 527.2h0M967.4 526.8h0M988.5 526.7h0M1004.3 526.0h0M1015.7 525.8h0M961.7 525.5h0M1035.6 525.0h0M1023.0 524.7h0M1006.4 524.2h0M986.2 523.9h0M1014.1 523.4h0M977.6 523.0h0M960.9 522.7h0M993.4 522.3h0M1039.9 521.8h0M958.6 521.3h0M1025.1 520.9h0M992.2 520.5h0M1023.5 520.3h0M978.7 519.8h0M1014.0 519.4h0M973.7 519.2h0M1030.1 518.7h0M955.9 518.3h0M994.0 518.1h0M1028.7 517.6h0M1015.1 517.0h0M961.0 516.8h0M987.9 516.4h0M1004.8 516.1h0M1019.5 515.6h0M985.5 515.3h0M968.0 514.8h0M994.4 514.3h0M1034.0 513.9h0M1019.7 513.4h0M974.4 513.2h0M991.1 512.8h0M965.2 512.4h0M1040.7 512.1h0M1032.3 511.8h0M1004.0 511.2h0M1018.1 510.8h0M975.3 510.4h0M957.1 510.1h0M1000.1 509.6h0M971.5 509.3h0M984.8 508.7h0M1028.3 508.5h0M1007.0 508.0h0M970.0 507.5h0M975.6 507.3h0M1039.9 507.0h0M1000.2 506.6h0M1017.9 505.9h0M1031.6 505.8h0M1000.2 505.1h0M985.1 504.9h0M963.8 504.4h0M1014.7 504.0h0M993.1 503.7h0M1032.2 503.5h0M966.4 503.1h0M1023.7 502.6h0M985.7 502.5h0M986.6 502.0h0M1019.4 501.8h0M1003.9 501.5h0M971.1 500.9h0M1029.9 500.8h0M962.6 500.1h0M1035.4 500.0h0M983.9 499.7h0M1012.0 499.1h0M990.1 499.0h0M1008.4 498.5h0M981.3 498.2h0M959.1 497.9h0M993.9 497.5h0M1030.5 497.2h0M1037.1 496.7h0M955.3 496.5h0M978.4 496.0h0M1002.2 495.7h0M1022.7 495.5h0M963.4 495.1h0M1008.7 494.7h0M1005.7 494.4h0M1031.3 493.9h0M979.7 493.6h0M1003.3 493.3h0M1024.3 492.9h0M964.9 492.4h0M1018.0 492.1h0M978.2 491.9h0M977.4 491.4h0M1026.1 491.0h0M1007.1 490.6h0M993.1 490.4h0M962.9 489.9h0M987.6 489.6h0M1025.0 489.5h0M955.5 488.8h0M993.2 488.7h0M1015.9 488.3h0M978.4 487.9h0M1032.9 487.5h0M960.9 487.4h0M994.9 487.1h0M1017.6 486.7h0M988.6 486.4h0M971.5 485.8h0M1014.4 485.6h0M999.7 485.1h0M1035.0 484.9h0M956.5 484.6h0M1022.4 484.0h0M1001.7 483.9h0M975.6 483.6h0M1032.1 483.0h0M970.7 482.5h0M988.2 482.3h0M993.9 482.1h0M1008.4 481.4h0M1040.4 481.1h0M1021.7 480.1h0M956.8 479.7h0M1005.9 479.1h0M1027.3 478.3h0M980.9 477.7h0M1036.9 477.2h0M999.2 476.9h0M961.4 476.0h0M974.6 475.5h0M1014.6 474.8h0M1029.4 474.3h0M968.8 473.3h0M975.7 473.2h0M992.6 472.0h0M1022.5 471.8h0M1023.5 471.2h0M1041.3 470.2h0M965.1 469.3h0M986.9 468.8h0M996.3 468.3h0M1030.4 467.2h0M992.8 466.6h0M1015.3 465.9h0M980.9 465.0h0M957.6 464.5h0M957.8 463.8h0M1006.6 462.6h0M985.6 461.9h0M1037.6 461.0h0M1021.5 460.2h0M986.6 459.5h0M1035.2 458.3h0M992.9 457.5h0M967.5 456.4h0M1013.8 455.3h0M1014.9 454.4h0M1024.7 453.2h0M985.8 452.5h0M989.4 451.1h0M964.8 450.3h0M1012.7 448.9h0M979.8 447.9h0M956.8 447.3h0M999.4 444.8h0M1031.0 443.7h0M1015.3 443.3h0M970.1 441.8h0M976.0 438.9h0M997.9 438.2h0M1034.9 435.9h0M1041.2 434.7h0M980.7 431.9h0M1018.2 430.8h0M961.4 427.8h0M1005.3 424.4h0M1017.9 423.9h0M989.6 420.4h0M959.8 413.2h0M1025.2 409.4h0M977.8 408.5h0M977.3 400.2h0M1008.5 395.5h0" stroke="#3A5FA3" stroke-width="5.9" stroke-linecap="round"/>
<path d="M1070.9 640.5h0M1149.8 599.6h0M1102.3 584.2h0M1118.6 574.6h0M1094.3 569.0h0M1071.4 560.9h0M1144.1 557.8h0M1091.9 554.3h0M1100.3 550.3h0M1123.7 547.3h0M1141.2 544.1h0M1077.9 542.1h0M1129.0 540.1h0M1110.1 538.2h0M1082.0 535.3h0M1073.4 532.7h0M1146.4 531.9h0M1101.5 528.5h0M1127.7 526.9h0M1080.9 525.3h0M1129.7 524.0h0M1101.6 521.8h0M1075.7 520.5h0M1148.1 518.9h0M1091.0 517.3h0M1126.8 516.5h0M1074.4 514.6h0M1144.7 513.2h0M1109.4 511.9h0M1082.9 511.5h0M1132.6 510.4h0M1090.2 508.5h0M1133.6 507.2h0M1099.4 505.6h0M1080.6 504.5h0M1118.7 504.1h0M1082.5 502.9h0M1112.9 501.7h0M1143.8 500.1h0M1080.0 499.0h0M1088.2 497.3h0M1112.0 496.5h0M1066.1 494.1h0M1132.6 493.4h0M1137.9 492.0h0M1101.6 490.3h0M1130.8 488.6h0M1140.2 487.9h0M1072.8 486.6h0M1084.3 484.4h0M1073.9 483.5h0M1132.6 481.3h0M1112.5 480.6h0M1092.1 478.7h0M1141.5 476.7h0M1077.3 475.0h0M1131.3 473.3h0M1146.2 472.9h0M1092.9 471.3h0M1109.2 468.5h0M1112.3 467.2h0M1074.7 466.7h0M1146.8 463.8h0M1096.9 463.1h0M1116.2 461.8h0M1101.9 460.5h0M1089.3 459.0h0M1117.9 456.2h0M1080.7 455.5h0M1141.5 453.7h0M1150.2 452.7h0M1068.3 450.8h0M1107.7 449.8h0M1083.4 447.8h0M1128.1 447.5h0M1065.3 444.5h0M1102.4 444.0h0M1146.6 440.9h0M1093.9 440.4h0M1117.2 437.9h0M1123.2 435.9h0M1081.5 433.7h0M1149.0 431.4h0M1069.2 428.9h0M1104.4 425.7h0M1109.6 421.5h0M1119.4 416.4h0M1091.9 411.3h0M1141.2 404.7h0M1064.6 385.1h0" stroke="#D52828" stroke-width="5.9" stroke-linecap="round"/>
<line x1="997.9" x2="997.9" y1="413.2" y2="481.9" stroke="#C2C2C2" stroke-width="1.4"/>
<line x1="997.9" x2="997.9" y1="529.8" y2="600" stroke="#C2C2C2" stroke-width="1.4"/>
<rect x="957" y="481.9" width="81.7" height="47.9" fill="none" stroke="#C2C2C2" stroke-width="1.5"/>
<line x1="957" x2="1038.8" y1="504.5" y2="504.5" stroke="#C2C2C2" stroke-width="3"/>
<line x1="1106.9" x2="1106.9" y1="386.2" y2="456.8" stroke="#C2C2C2" stroke-width="1.4"/>
<line x1="1106.9" x2="1106.9" y1="520.1" y2="584.2" stroke="#C2C2C2" stroke-width="1.4"/>
<rect x="1066" y="456.8" width="81.7" height="63.3" fill="none" stroke="#C2C2C2" stroke-width="1.5"/>
<line x1="1066" x2="1147.8" y1="491.6" y2="491.6" stroke="#C2C2C2" stroke-width="3"/>
<path d="M997.9,380.7V373.2H1106.9V380.7" fill="none" stroke="#000" stroke-width="1.4"/>
<text x="1052.4" y="374.4" font-size="17.6" text-anchor="middle">**</text>
<rect x="932.5" y="360" width="239.8" height="293.4" fill="none" stroke="#333333" stroke-width="1.1"/>
<line x1="927.9" x2="932.5" y1="625.9" y2="625.9" stroke="#333333" stroke-width="1.3"/>
<text x="923.4" y="631.2" text-anchor="end" class="tl">2</text>
<line x1="927.9" x2="932.5" y1="541.7" y2="541.7" stroke="#333333" stroke-width="1.3"/>
<text x="923.4" y="547" text-anchor="end" class="tl">4</text>
<line x1="927.9" x2="932.5" y1="457.5" y2="457.5" stroke="#333333" stroke-width="1.3"/>
<text x="923.4" y="462.8" text-anchor="end" class="tl">6</text>
<line x1="927.9" x2="932.5" y1="373.3" y2="373.3" stroke="#333333" stroke-width="1.3"/>
<text x="923.4" y="378.6" text-anchor="end" class="tl">8</text>
<line x1="997.9" x2="997.9" y1="653.4" y2="658" stroke="#333333" stroke-width="1.3"/>
<text x="997.9" y="672.3" text-anchor="middle" class="tl">I+II</text>
<line x1="1106.9" x2="1106.9" y1="653.4" y2="658" stroke="#333333" stroke-width="1.3"/>
<text x="1106.9" y="672.3" text-anchor="middle" class="tl">III+IV</text>
<text transform="translate(906.8,506.7) rotate(-90)" text-anchor="middle" font-size="18.2">CDK4 expression</text>
<line x1="1229.5" x2="1469.3" y1="583.8" y2="583.8" stroke="#EBEBEB" stroke-width="0.9"/>
<line x1="1229.5" x2="1469.3" y1="499.6" y2="499.6" stroke="#EBEBEB" stroke-width="0.9"/>
<line x1="1229.5" x2="1469.3" y1="415.4" y2="415.4" stroke="#EBEBEB" stroke-width="0.9"/>
<line x1="1229.5" x2="1469.3" y1="625.9" y2="625.9" stroke="#EBEBEB" stroke-width="1.8"/>
<line x1="1229.5" x2="1469.3" y1="541.7" y2="541.7" stroke="#EBEBEB" stroke-width="1.8"/>
<line x1="1229.5" x2="1469.3" y1="457.5" y2="457.5" stroke="#EBEBEB" stroke-width="1.8"/>
<line x1="1229.5" x2="1469.3" y1="373.3" y2="373.3" stroke="#EBEBEB" stroke-width="1.8"/>
<line x1="1294.9" x2="1294.9" y1="360" y2="653.4" stroke="#EBEBEB" stroke-width="1.8"/>
<line x1="1403.9" x2="1403.9" y1="360" y2="653.4" stroke="#EBEBEB" stroke-width="1.8"/>
<path d="M1317.9 636.2h0M1323.7 615.8h0M1274.1 610.1h0M1264.7 596.3h0M1299.3 585.9h0M1264.2 580.4h0M1317.8 577.6h0M1269.9 577.0h0M1303.2 574.3h0M1321.3 571.7h0M1330.7 569.9h0M1264.0 569.4h0M1320.0 566.8h0M1298.9 565.8h0M1278.8 565.0h0M1337.5 562.8h0M1257.8 562.2h0M1303.8 561.0h0M1277.3 560.1h0M1289.4 559.1h0M1274.7 557.9h0M1333.5 556.8h0M1312.2 556.4h0M1286.6 554.7h0M1262.4 554.0h0M1326.1 553.7h0M1299.2 552.4h0M1277.1 551.4h0M1257.0 551.2h0M1305.0 550.2h0M1300.5 549.7h0M1266.4 548.5h0M1317.1 548.2h0M1323.0 547.5h0M1275.6 546.4h0M1286.8 545.8h0M1260.2 545.3h0M1275.4 544.8h0M1323.5 544.2h0M1317.1 543.6h0M1270.2 542.7h0M1266.4 542.2h0M1312.5 542.0h0M1330.0 541.0h0M1296.3 540.7h0M1291.9 539.8h0M1329.1 539.5h0M1263.1 539.0h0M1276.2 538.2h0M1303.9 537.7h0M1275.4 537.2h0M1290.8 536.6h0M1258.6 536.5h0M1318.6 536.0h0M1321.4 535.5h0M1328.0 534.9h0M1264.4 534.1h0M1293.4 533.9h0M1271.4 533.5h0M1308.5 533.0h0M1326.2 532.6h0M1252.6 531.9h0M1269.9 531.6h0M1295.5 531.2h0M1320.0 530.7h0M1320.8 530.3h0M1259.9 529.8h0M1294.6 529.1h0M1285.3 529.0h0M1337.0 528.6h0M1304.4 528.0h0M1251.8 527.5h0M1324.5 527.5h0M1283.5 527.0h0M1300.0 526.7h0M1273.8 526.4h0M1321.1 526.0h0M1258.8 525.4h0M1290.6 525.3h0M1308.2 524.7h0M1299.1 524.5h0M1333.6 524.2h0M1277.2 523.8h0M1311.0 523.5h0M1262.0 523.1h0M1335.3 522.8h0M1285.5 522.4h0M1295.2 521.9h0M1259.5 521.7h0M1306.5 521.4h0M1287.8 520.9h0M1253.8 520.4h0M1329.2 520.0h0M1318.9 519.6h0M1271.9 519.3h0M1291.1 519.1h0M1256.7 518.6h0M1304.3 518.2h0M1277.3 517.9h0M1322.0 517.6h0M1331.9 517.3h0M1273.5 517.0h0M1295.2 516.6h0M1265.0 516.2h0M1310.1 515.9h0M1327.8 515.5h0M1286.4 515.2h0M1275.3 514.6h0M1308.3 514.3h0M1267.0 513.9h0M1309.4 513.7h0M1283.8 513.3h0M1265.8 512.9h0M1300.7 512.7h0M1333.3 512.2h0M1334.6 511.9h0M1307.5 511.5h0M1274.0 511.3h0M1297.3 510.6h0M1256.1 510.4h0M1261.2 510.0h0M1335.4 509.5h0M1311.5 509.3h0M1272.2 508.9h0M1303.5 508.7h0M1256.1 508.1h0M1276.2 507.9h0M1323.4 507.4h0M1303.5 507.1h0M1314.7 506.7h0M1254.5 506.3h0M1297.5 506.1h0M1308.1 505.9h0M1324.6 505.4h0M1284.3 505.0h0M1259.2 504.6h0M1314.3 504.3h0M1335.9 503.9h0M1292.7 503.5h0M1271.4 503.3h0M1333.8 502.7h0M1253.1 502.7h0M1312.1 502.4h0M1282.1 502.0h0M1303.0 501.6h0M1305.6 501.2h0M1282.7 501.1h0M1291.0 500.5h0M1323.0 500.4h0M1258.6 499.8h0M1256.4 499.6h0M1309.5 499.2h0M1277.6 499.1h0M1328.8 498.7h0M1294.8 498.4h0M1303.1 498.0h0M1311.9 497.5h0M1263.7 497.4h0M1325.6 497.1h0M1271.3 496.6h0M1296.3 496.3h0M1270.5 496.0h0M1319.1 495.6h0M1335.0 495.2h0M1267.6 495.0h0M1288.7 494.8h0M1305.0 494.4h0M1254.9 494.0h0M1283.2 493.8h0M1321.1 493.3h0M1289.1 493.1h0M1284.2 492.7h0M1328.4 492.4h0M1254.2 492.0h0M1308.2 491.8h0M1252.8 491.4h0M1286.3 491.1h0M1324.6 490.8h0M1318.4 490.3h0M1269.1 489.9h0M1323.1 489.7h0M1319.8 489.4h0M1256.2 489.1h0M1297.8 488.9h0M1281.3 488.4h0M1253.5 487.9h0M1304.9 487.7h0M1338.0 487.5h0M1280.5 487.1h0M1301.9 486.7h0M1318.8 486.4h0M1296.3 486.1h0M1281.4 485.6h0M1260.8 485.3h0M1338.1 485.0h0M1307.7 484.9h0M1270.6 484.5h0M1327.4 483.9h0M1288.8 483.8h0M1258.2 483.5h0M1334.7 483.0h0M1268.5 482.8h0M1307.4 482.3h0M1276.5 482.0h0M1300.0 481.6h0M1271.7 481.5h0M1336.9 481.2h0M1300.4 480.7h0M1254.6 480.3h0M1305.8 479.6h0M1297.1 479.1h0M1259.4 478.6h0M1278.1 478.1h0M1338.2 477.6h0M1317.0 477.0h0M1289.6 476.6h0M1271.3 476.0h0M1263.6 475.7h0M1328.3 475.1h0M1316.8 474.5h0M1272.5 473.9h0M1296.6 473.4h0M1309.8 472.8h0M1268.7 472.0h0M1336.5 471.9h0M1322.8 471.2h0M1262.0 470.4h0M1294.3 470.1h0M1320.4 469.2h0M1282.3 468.5h0M1327.6 468.2h0M1258.4 467.7h0M1292.0 466.8h0M1305.3 466.4h0M1282.0 465.2h0M1289.9 464.8h0M1275.4 464.1h0M1318.2 463.2h0M1327.2 462.4h0M1251.6 462.4h0M1275.4 461.3h0M1297.3 460.8h0M1330.5 460.1h0M1313.0 458.9h0M1257.3 458.5h0M1260.2 457.5h0M1325.3 456.2h0M1270.7 455.3h0M1287.9 455.2h0M1315.0 453.7h0M1290.8 452.7h0M1283.1 451.5h0M1312.4 450.6h0M1330.6 450.3h0M1253.0 449.4h0M1280.3 447.4h0M1255.0 446.4h0M1322.9 445.8h0M1313.8 444.7h0M1290.3 442.3h0M1334.2 441.8h0M1297.9 439.9h0M1310.5 439.1h0M1277.1 436.7h0M1264.8 435.0h0M1307.8 434.1h0M1268.7 431.0h0M1303.3 429.8h0M1255.3 427.4h0M1331.4 423.5h0M1282.5 420.5h0M1252.2 413.2h0M1311.6 409.8h0M1296.7 404.8h0M1337.8 395.9h0" stroke="#3A5FA3" stroke-width="5.9" stroke-linecap="round"/>
<path d="M1407.4 640.5h0M1428.7 608.4h0M1446.3 584.2h0M1368.9 575.3h0M1394.5 564.7h0M1387.9 562.7h0M1403.0 558.8h0M1438.9 554.1h0M1416.8 549.4h0M1370.2 548.1h0M1404.8 545.6h0M1376.1 542.1h0M1434.2 540.2h0M1382.2 536.6h0M1421.4 534.5h0M1427.2 533.3h0M1437.0 530.7h0M1393.2 528.9h0M1365.8 527.5h0M1406.4 524.7h0M1416.6 523.5h0M1374.2 522.2h0M1408.7 520.1h0M1393.0 518.5h0M1443.3 517.5h0M1439.0 515.4h0M1402.3 514.0h0M1394.9 513.9h0M1363.3 512.0h0M1414.5 510.5h0M1364.0 509.6h0M1390.2 507.5h0M1409.2 506.3h0M1425.6 505.2h0M1432.5 503.5h0M1412.6 502.5h0M1442.3 501.6h0M1364.2 499.2h0M1427.9 498.3h0M1393.2 497.7h0M1439.7 495.6h0M1403.7 495.0h0M1416.8 493.1h0M1373.9 491.2h0M1391.1 490.4h0M1392.7 489.0h0M1415.1 487.3h0M1444.3 486.2h0M1376.6 485.7h0M1399.1 484.6h0M1391.0 483.3h0M1425.7 482.3h0M1438.1 481.2h0M1410.3 479.2h0M1362.9 478.1h0M1371.6 477.8h0M1403.4 476.6h0M1424.0 474.4h0M1390.9 473.7h0M1439.5 472.5h0M1361.9 471.9h0M1419.6 470.7h0M1399.4 468.8h0M1439.2 468.0h0M1393.9 466.8h0M1427.3 465.4h0M1362.5 464.8h0M1430.8 463.8h0M1398.3 462.5h0M1394.5 461.3h0M1425.2 460.3h0M1435.8 458.6h0M1392.4 457.3h0M1396.7 455.1h0M1370.0 454.1h0M1423.4 452.8h0M1380.1 450.3h0M1371.6 448.6h0M1400.5 447.7h0M1435.5 445.5h0M1366.8 444.6h0M1402.4 442.1h0M1443.5 440.8h0M1417.4 438.9h0M1393.5 435.7h0M1368.9 434.1h0M1403.3 430.8h0M1392.6 427.0h0M1430.0 423.8h0M1446.3 420.7h0M1433.6 412.7h0M1375.9 409.8h0M1385.7 385.1h0" stroke="#D52828" stroke-width="5.9" stroke-linecap="round"/>
<line x1="1294.9" x2="1294.9" y1="413.2" y2="481.2" stroke="#C2C2C2" stroke-width="1.4"/>
<line x1="1294.9" x2="1294.9" y1="528.7" y2="585.9" stroke="#C2C2C2" stroke-width="1.4"/>
<rect x="1254" y="481.2" width="81.7" height="47.5" fill="none" stroke="#C2C2C2" stroke-width="1.5"/>
<line x1="1254" x2="1335.8" y1="503.9" y2="503.9" stroke="#C2C2C2" stroke-width="3"/>
<line x1="1403.9" x2="1403.9" y1="386.2" y2="460.7" stroke="#C2C2C2" stroke-width="1.4"/>
<line x1="1403.9" x2="1403.9" y1="519" y2="584.2" stroke="#C2C2C2" stroke-width="1.4"/>
<rect x="1363" y="460.7" width="81.7" height="58.3" fill="none" stroke="#C2C2C2" stroke-width="1.5"/>
<line x1="1363" x2="1444.8" y1="487.7" y2="487.7" stroke="#C2C2C2" stroke-width="3"/>
<path d="M1294.9,380.7V373.2H1403.9V380.7" fill="none" stroke="#000" stroke-width="1.4"/>
<text x="1349.4" y="374.4" font-size="17.6" text-anchor="middle">**</text>
<rect x="1229.5" y="360" width="239.8" height="293.4" fill="none" stroke="#333333" stroke-width="1.1"/>
<line x1="1224.9" x2="1229.5" y1="625.9" y2="625.9" stroke="#333333" stroke-width="1.3"/>
<text x="1220.4" y="631.2" text-anchor="end" class="tl">2</text>
<line x1="1224.9" x2="1229.5" y1="541.7" y2="541.7" stroke="#333333" stroke-width="1.3"/>
<text x="1220.4" y="547" text-anchor="end" class="tl">4</text>
<line x1="1224.9" x2="1229.5" y1="457.5" y2="457.5" stroke="#333333" stroke-width="1.3"/>
<text x="1220.4" y="462.8" text-anchor="end" class="tl">6</text>
<line x1="1224.9" x2="1229.5" y1="373.3" y2="373.3" stroke="#333333" stroke-width="1.3"/>
<text x="1220.4" y="378.6" text-anchor="end" class="tl">8</text>
<line x1="1294.9" x2="1294.9" y1="653.4" y2="658" stroke="#333333" stroke-width="1.3"/>
<text x="1294.9" y="672.3" text-anchor="middle" class="tl">T1+T2</text>
<line x1="1403.9" x2="1403.9" y1="653.4" y2="658" stroke="#333333" stroke-width="1.3"/>
<text x="1403.9" y="672.3" text-anchor="middle" class="tl">T3+T4</text>
<text transform="translate(1203.8,506.7) rotate(-90)" text-anchor="middle" font-size="18.2">CDK4 expression</text>
<line x1="1526.5" x2="1766.3" y1="583.8" y2="583.8" stroke="#EBEBEB" stroke-width="0.9"/>
<line x1="1526.5" x2="1766.3" y1="499.6" y2="499.6" stroke="#EBEBEB" stroke-width="0.9"/>
<line x1="1526.5" x2="1766.3" y1="415.4" y2="415.4" stroke="#EBEBEB" stroke-width="0.9"/>
<line x1="1526.5" x2="1766.3" y1="625.9" y2="625.9" stroke="#EBEBEB" stroke-width="1.8"/>
<line x1="1526.5" x2="1766.3" y1="541.7" y2="541.7" stroke="#EBEBEB" stroke-width="1.8"/>
<line x1="1526.5" x2="1766.3" y1="457.5" y2="457.5" stroke="#EBEBEB" stroke-width="1.8"/>
<line x1="1526.5" x2="1766.3" y1="373.3" y2="373.3" stroke="#EBEBEB" stroke-width="1.8"/>
<line x1="1591.9" x2="1591.9" y1="360" y2="653.4" stroke="#EBEBEB" stroke-width="1.8"/>
<line x1="1700.9" x2="1700.9" y1="360" y2="653.4" stroke="#EBEBEB" stroke-width="1.8"/>
<path d="M1561.2 640.5h0M1593.2 626.4h0M1574.9 607.1h0M1633.3 592.4h0M1616.7 584.4h0M1623.2 578.0h0M1551.1 577.0h0M1601.1 574.9h0M1573.3 571.3h0M1599.3 569.7h0M1561.4 568.6h0M1593.2 565.6h0M1603.3 564.9h0M1572.0 564.1h0M1624.6 562.6h0M1628.7 560.8h0M1574.9 559.8h0M1553.3 558.7h0M1593.3 557.5h0M1611.8 555.8h0M1597.3 555.0h0M1618.4 553.8h0M1556.7 553.1h0M1571.4 552.3h0M1610.2 550.7h0M1556.3 550.5h0M1629.7 549.5h0M1612.7 548.4h0M1569.9 547.4h0M1584.8 546.8h0M1561.4 546.3h0M1618.4 545.4h0M1605.7 544.1h0M1576.4 543.6h0M1600.6 543.1h0M1558.9 542.0h0M1593.7 541.7h0M1617.3 540.6h0M1627.4 540.1h0M1583.0 539.5h0M1560.1 538.9h0M1599.8 538.1h0M1607.2 537.4h0M1629.9 537.0h0M1567.7 536.1h0M1562.9 535.5h0M1575.4 535.1h0M1622.7 534.3h0M1606.8 534.2h0M1590.2 533.1h0M1583.7 532.6h0M1568.9 532.2h0M1615.7 531.9h0M1626.6 531.2h0M1555.7 530.6h0M1613.8 530.0h0M1600.5 529.5h0M1561.3 529.2h0M1575.1 528.4h0M1628.4 528.1h0M1570.9 527.9h0M1588.0 527.4h0M1603.6 527.2h0M1551.1 527.0h0M1621.2 526.7h0M1559.4 526.1h0M1617.5 525.9h0M1630.2 525.5h0M1599.2 525.2h0M1571.7 525.0h0M1585.9 524.7h0M1617.0 524.3h0M1581.2 524.0h0M1559.1 523.6h0M1622.7 523.4h0M1600.2 523.1h0M1548.6 522.8h0M1618.5 522.2h0M1615.0 522.0h0M1579.7 521.6h0M1590.7 521.5h0M1566.0 521.1h0M1564.1 520.6h0M1600.6 520.4h0M1635.2 520.0h0M1620.7 519.9h0M1585.6 519.4h0M1572.9 519.1h0M1552.8 518.8h0M1611.5 518.3h0M1548.6 518.1h0M1625.0 517.8h0M1575.8 517.4h0M1586.0 517.1h0M1617.3 516.8h0M1604.4 516.4h0M1569.6 515.9h0M1587.1 515.9h0M1563.4 515.6h0M1630.0 515.2h0M1634.2 514.8h0M1564.8 514.5h0M1611.1 514.0h0M1583.6 513.7h0M1575.3 513.4h0M1630.9 513.2h0M1584.6 512.8h0M1563.9 512.6h0M1577.3 512.0h0M1607.3 511.7h0M1584.6 511.5h0M1607.1 511.3h0M1633.5 510.8h0M1557.2 510.4h0M1570.4 510.0h0M1578.7 509.8h0M1559.0 509.5h0M1590.5 508.8h0M1601.9 508.5h0M1634.9 508.0h0M1607.6 507.8h0M1587.1 507.0h0M1564.6 506.8h0M1623.9 506.2h0M1572.6 506.1h0M1601.6 505.5h0M1561.8 505.0h0M1590.0 504.4h0M1626.5 504.0h0M1573.6 503.6h0M1630.3 503.3h0M1572.4 502.8h0M1550.0 502.5h0M1584.3 501.9h0M1612.9 501.5h0M1556.7 501.1h0M1574.1 500.6h0M1622.1 500.1h0M1600.6 499.9h0M1614.8 499.1h0M1594.2 498.9h0M1629.4 498.3h0M1549.0 497.8h0M1574.3 497.5h0M1615.1 496.9h0M1614.1 496.4h0M1575.4 496.4h0M1555.3 495.7h0M1628.2 495.2h0M1584.5 494.6h0M1630.7 494.3h0M1589.9 493.8h0M1611.6 493.5h0M1551.0 493.0h0M1580.0 492.8h0M1616.6 492.2h0M1549.6 491.9h0M1621.2 491.1h0M1581.8 490.7h0M1586.7 490.2h0M1569.6 490.0h0M1610.1 489.4h0M1625.9 489.2h0M1565.4 488.6h0M1583.2 488.2h0M1574.7 487.7h0M1589.5 487.2h0M1620.3 487.0h0M1604.4 486.3h0M1560.4 486.0h0M1634.4 485.6h0M1569.2 485.0h0M1614.7 484.8h0M1593.1 484.3h0M1548.4 483.8h0M1550.7 483.0h0M1578.0 482.7h0M1621.1 481.5h0M1614.4 481.2h0M1584.7 480.7h0M1623.0 480.0h0M1598.0 478.8h0M1612.1 478.3h0M1565.3 477.7h0M1578.1 477.0h0M1623.2 476.0h0M1574.2 475.9h0M1593.1 474.9h0M1556.3 473.9h0M1601.6 473.0h0M1558.7 472.5h0M1631.4 471.7h0M1605.5 470.8h0M1571.7 470.0h0M1599.3 469.6h0M1575.0 468.8h0M1588.3 467.9h0M1608.5 466.5h0M1632.5 466.4h0M1550.0 465.1h0M1605.8 464.4h0M1570.5 463.1h0M1589.6 462.1h0M1550.5 461.8h0M1618.7 460.3h0M1628.9 459.8h0M1549.3 458.9h0M1580.1 457.8h0M1596.7 455.6h0M1611.0 455.4h0M1598.5 453.2h0M1617.4 452.6h0M1620.7 451.7h0M1574.3 449.4h0M1559.7 448.6h0M1610.0 447.5h0M1556.9 446.0h0M1580.9 444.6h0M1624.0 441.9h0M1600.4 440.4h0M1551.5 438.0h0M1609.5 437.3h0M1585.5 433.7h0M1572.8 431.2h0M1628.7 430.7h0M1584.5 426.7h0M1630.4 421.8h0M1615.0 417.1h0M1564.2 416.1h0M1581.3 401.9h0M1587.0 397.2h0M1611.8 385.1h0" stroke="#3A5FA3" stroke-width="5.9" stroke-linecap="round"/>
<path d="M1670.9 618.3h0M1722.8 600.6h0M1676.8 583.6h0M1740.4 578.1h0M1698.8 571.5h0M1668.1 568.8h0M1740.8 566.8h0M1718.5 561.5h0M1681.5 559.7h0M1706.9 557.4h0M1697.0 554.3h0M1674.5 550.9h0M1676.6 549.8h0M1713.3 547.2h0M1734.1 545.8h0M1730.6 544.3h0M1692.3 542.0h0M1690.8 540.0h0M1712.7 539.4h0M1669.7 536.9h0M1694.6 535.9h0M1677.0 534.2h0M1715.7 533.2h0M1660.6 531.9h0M1729.0 530.8h0M1658.9 529.1h0M1700.8 528.3h0M1716.9 526.4h0M1679.6 525.6h0M1731.9 524.1h0M1659.3 523.9h0M1697.6 522.1h0M1689.7 521.6h0M1730.4 520.4h0M1712.6 518.9h0M1718.1 517.9h0M1658.0 517.5h0M1699.3 516.8h0M1737.4 515.6h0M1682.9 515.2h0M1724.8 513.7h0M1728.4 513.5h0M1688.3 511.9h0M1697.9 511.6h0M1674.2 510.2h0M1716.5 509.2h0M1692.2 508.9h0M1675.9 507.8h0M1671.2 507.0h0M1739.5 505.8h0M1715.2 505.1h0M1678.3 504.6h0M1702.6 503.5h0M1664.9 502.6h0M1734.5 501.5h0M1692.5 501.2h0M1673.6 499.9h0M1686.3 498.8h0M1723.1 498.6h0M1742.9 497.6h0M1724.0 496.7h0M1685.5 496.0h0M1659.4 494.4h0M1738.8 493.6h0M1699.5 493.0h0M1691.7 492.3h0M1702.0 491.1h0M1664.9 490.2h0M1743.9 489.5h0M1720.3 488.9h0M1735.1 487.7h0M1695.9 486.5h0M1726.4 485.9h0M1686.0 484.8h0M1667.9 484.7h0M1728.0 483.7h0M1677.8 482.3h0M1670.0 482.1h0M1713.8 481.1h0M1703.7 479.9h0M1663.5 479.2h0M1738.5 478.2h0M1699.3 477.1h0M1718.0 476.5h0M1681.5 475.1h0M1713.4 474.4h0M1669.4 473.4h0M1687.8 473.3h0M1695.0 472.3h0M1743.3 471.3h0M1663.8 470.1h0M1689.0 469.7h0M1739.5 468.4h0M1700.5 467.4h0M1711.0 466.7h0M1695.0 465.4h0M1666.0 464.7h0M1681.1 463.7h0M1720.9 463.0h0M1738.9 462.5h0M1689.1 461.2h0M1713.3 460.9h0M1668.9 460.0h0M1708.0 459.3h0M1739.3 458.3h0M1668.7 457.7h0M1726.3 457.1h0M1703.8 456.2h0M1687.1 455.1h0M1728.1 454.5h0M1686.2 453.4h0M1703.2 452.2h0M1671.9 450.8h0M1731.0 449.9h0M1710.0 449.6h0M1737.8 447.7h0M1683.8 447.5h0M1715.6 445.5h0M1704.6 445.4h0M1661.6 443.8h0M1727.8 442.7h0M1692.0 441.4h0M1664.4 439.2h0M1695.9 438.2h0M1726.2 436.8h0M1737.7 435.1h0M1696.8 433.4h0M1673.8 429.6h0M1723.0 427.2h0M1691.0 425.0h0M1659.4 420.4h0M1683.9 416.1h0M1709.1 410.2h0M1728.1 395.9h0" stroke="#D52828" stroke-width="5.9" stroke-linecap="round"/>
<line x1="1591.9" x2="1591.9" y1="417.1" y2="484" stroke="#C2C2C2" stroke-width="1.4"/>
<line x1="1591.9" x2="1591.9" y1="528.7" y2="584.4" stroke="#C2C2C2" stroke-width="1.4"/>
<rect x="1551" y="484" width="81.7" height="44.7" fill="none" stroke="#C2C2C2" stroke-width="1.5"/>
<line x1="1551" x2="1632.8" y1="509.7" y2="509.7" stroke="#C2C2C2" stroke-width="3"/>
<line x1="1700.9" x2="1700.9" y1="396.6" y2="461.4" stroke="#C2C2C2" stroke-width="1.4"/>
<line x1="1700.9" x2="1700.9" y1="520.1" y2="600.6" stroke="#C2C2C2" stroke-width="1.4"/>
<rect x="1660" y="461.4" width="81.7" height="58.7" fill="none" stroke="#C2C2C2" stroke-width="1.5"/>
<line x1="1660" x2="1741.8" y1="490.9" y2="490.9" stroke="#C2C2C2" stroke-width="3"/>
<path d="M1591.9,380.7V373.2H1700.9V380.7" fill="none" stroke="#000" stroke-width="1.4"/>
<text x="1646.4" y="374.4" font-size="17.6" text-anchor="middle">***</text>
<rect x="1526.5" y="360" width="239.8" height="293.4" fill="none" stroke="#333333" stroke-width="1.1"/>
<line x1="1521.9" x2="1526.5" y1="625.9" y2="625.9" stroke="#333333" stroke-width="1.3"/>
<text x="1517.4" y="631.2" text-anchor="end" class="tl">2</text>
<line x1="1521.9" x2="1526.5" y1="541.7" y2="541.7" stroke="#333333" stroke-width="1.3"/>
<text x="1517.4" y="547" text-anchor="end" class="tl">4</text>
<line x1="1521.9" x2="1526.5" y1="457.5" y2="457.5" stroke="#333333" stroke-width="1.3"/>
<text x="1517.4" y="462.8" text-anchor="end" class="tl">6</text>
<line x1="1521.9" x2="1526.5" y1="373.3" y2="373.3" stroke="#333333" stroke-width="1.3"/>
<text x="1517.4" y="378.6" text-anchor="end" class="tl">8</text>
<line x1="1591.9" x2="1591.9" y1="653.4" y2="658" stroke="#333333" stroke-width="1.3"/>
<text x="1591.9" y="672.3" text-anchor="middle" class="tl">G1+G2</text>
<line x1="1700.9" x2="1700.9" y1="653.4" y2="658" stroke="#333333" stroke-width="1.3"/>
<text x="1700.9" y="672.3" text-anchor="middle" class="tl">G3+G4</text>
<text transform="translate(1500.8,506.7) rotate(-90)" text-anchor="middle" font-size="18.2">CDK4 expression</text>
<text transform="translate(884,362.4) scale(0.93,1)" font-size="38.3" font-weight="bold">D</text>
<line x1="41.5" x2="281.3" y1="964.4" y2="964.4" stroke="#EBEBEB" stroke-width="0.9"/>
<line x1="41.5" x2="281.3" y1="898.5" y2="898.5" stroke="#EBEBEB" stroke-width="0.9"/>
<line x1="41.5" x2="281.3" y1="832.5" y2="832.5" stroke="#EBEBEB" stroke-width="0.9"/>
<line x1="41.5" x2="281.3" y1="766.6" y2="766.6" stroke="#EBEBEB" stroke-width="0.9"/>
<line x1="41.5" x2="281.3" y1="997.4" y2="997.4" stroke="#EBEBEB" stroke-width="1.8"/>
<line x1="41.5" x2="281.3" y1="931.5" y2="931.5" stroke="#EBEBEB" stroke-width="1.8"/>
<line x1="41.5" x2="281.3" y1="865.5" y2="865.5" stroke="#EBEBEB" stroke-width="1.8"/>
<line x1="41.5" x2="281.3" y1="799.5" y2="799.5" stroke="#EBEBEB" stroke-width="1.8"/>
<line x1="41.5" x2="281.3" y1="733.6" y2="733.6" stroke="#EBEBEB" stroke-width="1.8"/>
<line x1="106.9" x2="106.9" y1="716.3" y2="1010.1" stroke="#EBEBEB" stroke-width="1.8"/>
<line x1="215.9" x2="215.9" y1="716.3" y2="1010.1" stroke="#EBEBEB" stroke-width="1.8"/>
<path d="M144.7 997.0h0M98.2 991.3h0M117.6 987.9h0M110.6 983.8h0M76.9 981.9h0M119.9 976.8h0M63.5 975.8h0M111.4 973.0h0M96.6 966.9h0M149.0 964.9h0M129.2 963.1h0M111.5 959.0h0M137.7 956.4h0M89.4 952.6h0M79.0 950.9h0M110.8 949.5h0M135.9 946.7h0M91.3 943.2h0M130.7 941.7h0M66.5 939.1h0M127.8 936.7h0M149.8 935.3h0M101.1 933.4h0M91.3 932.2h0M79.5 929.8h0M90.0 927.1h0M104.2 925.4h0M145.8 923.3h0M116.5 921.5h0M64.1 920.5h0M144.1 918.2h0M129.7 916.3h0M91.1 914.6h0M105.9 912.9h0M70.9 912.6h0M138.3 910.5h0M88.7 909.0h0M65.5 907.4h0M128.1 905.2h0M111.1 904.6h0M112.1 902.0h0M82.4 901.5h0M135.1 899.7h0M80.4 898.7h0M129.1 895.9h0M140.3 894.6h0M66.0 894.2h0M113.2 891.7h0M127.1 891.4h0M89.3 889.7h0M148.6 887.7h0M102.3 886.6h0M86.7 885.2h0M74.5 884.3h0M116.0 882.3h0M68.0 881.1h0M82.8 880.1h0M135.1 877.5h0M125.7 876.8h0M107.0 875.3h0M94.5 874.4h0M69.2 873.3h0M124.5 871.1h0M142.3 869.4h0M100.1 868.6h0M66.8 868.1h0M109.2 867.4h0M86.1 866.9h0M131.1 866.2h0M143.1 865.9h0M71.5 865.4h0M134.7 864.8h0M111.3 863.9h0M120.5 863.5h0M88.8 862.5h0M135.3 861.9h0M100.3 861.4h0M69.1 860.7h0M87.1 860.6h0M120.2 859.8h0M106.5 858.9h0M144.5 858.8h0M66.8 857.8h0M116.3 857.6h0M89.1 856.8h0M99.7 856.4h0M147.2 855.6h0M77.0 854.8h0M85.6 854.2h0M125.8 853.5h0M78.0 853.1h0M138.4 852.7h0M113.6 851.8h0M125.6 851.2h0M82.0 850.8h0M86.4 849.9h0M120.5 849.2h0M71.1 849.0h0M149.8 848.2h0M105.4 847.9h0M136.5 847.0h0M122.4 846.7h0M64.1 845.8h0M107.3 845.0h0M80.8 844.9h0M111.0 844.1h0M130.8 843.5h0M76.3 843.0h0M91.0 842.2h0M133.4 841.4h0M131.2 840.7h0M95.4 840.1h0M77.9 839.9h0M140.4 839.4h0M101.2 838.6h0M103.4 837.8h0M145.9 837.5h0M76.2 837.0h0M123.0 836.3h0M97.7 835.8h0M115.9 835.1h0M98.6 834.6h0M80.8 833.5h0M78.4 833.2h0M141.6 832.3h0M108.6 831.9h0M127.2 831.4h0M81.5 830.7h0M136.2 830.3h0M67.1 829.6h0M65.2 829.4h0M110.2 828.7h0M116.8 828.7h0M144.1 828.2h0M84.2 827.7h0M107.0 827.5h0M149.3 827.0h0M81.3 826.5h0M65.7 825.9h0M132.2 825.5h0M136.6 825.5h0M112.1 825.0h0M82.5 824.5h0M73.5 823.9h0M132.7 823.6h0M84.3 823.4h0M80.3 823.0h0M128.9 822.5h0M144.8 822.2h0M98.7 821.8h0M136.6 821.3h0M92.5 820.8h0M63.9 820.6h0M107.2 820.0h0M123.9 819.6h0M136.2 819.2h0M130.4 818.9h0M90.1 818.6h0M73.3 818.2h0M114.0 817.7h0M125.9 817.2h0M101.2 817.1h0M142.8 816.4h0M75.9 816.2h0M90.5 815.8h0M79.4 815.5h0M105.1 814.9h0M125.3 814.6h0M150.4 814.1h0M88.3 813.7h0M121.3 813.5h0M133.6 813.1h0M98.5 812.5h0M73.1 812.3h0M90.5 811.6h0M108.2 811.4h0M65.9 810.9h0M142.6 810.4h0M116.3 810.1h0M90.5 809.7h0M100.7 809.5h0M129.1 808.9h0M85.7 808.4h0M149.4 808.2h0M77.3 807.8h0M114.3 807.5h0M136.9 806.9h0M69.8 806.7h0M122.0 806.2h0M81.9 805.6h0M80.0 805.5h0M116.9 805.0h0M133.3 804.5h0M80.9 803.8h0M99.3 803.4h0M140.3 803.1h0M96.8 802.3h0M125.4 802.1h0M111.9 801.3h0M76.5 801.1h0M121.9 800.4h0M96.5 799.7h0M102.4 799.4h0M68.5 798.9h0M146.3 798.4h0M146.4 797.6h0M97.7 796.8h0M131.7 796.5h0M109.8 796.0h0M67.4 795.2h0M83.4 794.8h0M106.1 794.5h0M64.8 793.8h0M150.1 793.5h0M126.1 792.8h0M87.4 792.0h0M140.7 791.7h0M72.5 791.1h0M117.4 790.5h0M110.0 790.1h0M128.1 789.4h0M81.5 789.0h0M135.4 788.6h0M109.6 788.0h0M68.2 787.3h0M92.8 786.9h0M139.5 786.2h0M98.5 785.7h0M128.6 785.0h0M65.4 784.1h0M127.3 783.9h0M144.3 783.4h0M78.1 782.8h0M90.0 782.2h0M103.3 781.5h0M135.0 780.6h0M118.7 780.2h0M72.3 779.9h0M103.8 779.1h0M87.8 778.5h0M100.2 777.7h0M75.5 777.4h0M132.8 776.3h0M89.7 775.9h0M145.7 775.2h0M105.9 774.7h0M141.6 773.7h0M78.0 773.0h0M132.5 772.5h0M89.2 771.2h0M95.9 770.6h0M113.6 770.2h0M119.6 769.1h0M74.9 768.0h0M137.8 767.3h0M68.7 764.9h0M93.5 762.3h0" stroke="#3A5FA3" stroke-width="5.9" stroke-linecap="round"/>
<path d="M217.9 992.7h0M227.8 976.9h0M181.2 972.6h0M243.2 970.7h0M197.2 967.5h0M189.7 963.5h0M244.5 958.0h0M229.2 954.7h0M207.9 950.9h0M187.6 949.4h0M231.1 945.9h0M184.6 944.8h0M250.0 940.1h0M191.3 936.8h0M223.2 936.5h0M247.3 933.3h0M221.9 930.0h0M182.4 928.2h0M233.5 924.9h0M201.0 923.8h0M187.9 920.5h0M252.5 917.4h0M214.7 916.4h0M205.6 913.8h0M228.1 908.6h0M245.5 907.4h0M216.0 904.5h0M180.7 902.1h0M229.9 898.8h0M191.9 896.8h0M232.4 893.5h0M188.8 891.0h0M211.1 888.2h0M246.6 884.6h0M207.0 881.2h0M249.1 877.5h0M222.2 876.7h0M234.6 874.1h0M175.5 871.4h0M193.3 866.1h0M177.7 865.5h0M207.2 861.7h0M245.2 859.8h0M203.5 856.0h0M237.9 854.0h0M191.3 850.6h0M212.0 849.1h0M183.2 847.7h0M239.7 845.9h0M255.1 843.1h0M181.9 841.3h0M216.9 840.5h0M229.6 839.1h0M194.4 836.8h0M254.3 835.9h0M223.5 832.9h0M230.6 831.7h0M187.6 829.6h0M253.5 827.5h0M202.6 827.1h0M251.7 824.1h0M193.4 822.6h0M209.0 820.9h0M175.3 818.7h0M239.5 817.8h0M192.3 815.8h0M240.0 814.7h0M251.8 812.7h0M222.6 810.6h0M183.9 810.3h0M183.1 808.4h0M237.8 807.1h0M245.4 805.4h0M217.6 804.4h0M193.7 801.8h0M210.6 800.8h0M190.7 798.8h0M250.0 797.7h0M232.8 795.5h0M180.9 793.8h0M176.4 790.4h0M227.2 788.8h0M214.9 786.6h0M202.0 782.7h0M250.0 779.8h0M236.4 778.7h0M250.1 772.2h0M198.0 769.6h0M211.3 761.0h0M177.3 741.6h0" stroke="#D52828" stroke-width="5.9" stroke-linecap="round"/>
<line x1="106.9" x2="106.9" y1="762.3" y2="804.4" stroke="#C2C2C2" stroke-width="1.4"/>
<line x1="106.9" x2="106.9" y1="869" y2="963.1" stroke="#C2C2C2" stroke-width="1.4"/>
<rect x="66" y="804.4" width="81.8" height="64.6" fill="none" stroke="#C2C2C2" stroke-width="1.5"/>
<line x1="66" x2="147.8" y1="830.1" y2="830.1" stroke="#C2C2C2" stroke-width="3"/>
<line x1="215.9" x2="215.9" y1="742.2" y2="812.4" stroke="#C2C2C2" stroke-width="1.4"/>
<line x1="215.9" x2="215.9" y1="915.4" y2="992.7" stroke="#C2C2C2" stroke-width="1.4"/>
<rect x="175" y="812.4" width="81.8" height="103" fill="none" stroke="#C2C2C2" stroke-width="1.5"/>
<line x1="175" x2="256.8" y1="851.7" y2="851.7" stroke="#C2C2C2" stroke-width="3"/>
<path d="M106.9,737V729.5H215.9V737" fill="none" stroke="#000" stroke-width="1.4"/>
<text x="161.4" y="730.7" font-size="17.6" text-anchor="middle">**</text>
<rect x="41.5" y="716.3" width="239.8" height="293.8" fill="none" stroke="#333333" stroke-width="1.1"/>
<line x1="36.9" x2="41.5" y1="997.4" y2="997.4" stroke="#333333" stroke-width="1.3"/>
<text x="32.4" y="1002.7" text-anchor="end" class="tl">0</text>
<line x1="36.9" x2="41.5" y1="931.5" y2="931.5" stroke="#333333" stroke-width="1.3"/>
<text x="32.4" y="936.7" text-anchor="end" class="tl">2</text>
<line x1="36.9" x2="41.5" y1="865.5" y2="865.5" stroke="#333333" stroke-width="1.3"/>
<text x="32.4" y="870.8" text-anchor="end" class="tl">4</text>
<line x1="36.9" x2="41.5" y1="799.5" y2="799.5" stroke="#333333" stroke-width="1.3"/>
<text x="32.4" y="804.8" text-anchor="end" class="tl">6</text>
<line x1="36.9" x2="41.5" y1="733.6" y2="733.6" stroke="#333333" stroke-width="1.3"/>
<text x="32.4" y="738.9" text-anchor="end" class="tl">8</text>
<line x1="106.9" x2="106.9" y1="1010.1" y2="1014.7" stroke="#333333" stroke-width="1.3"/>
<text x="106.9" y="1029" text-anchor="middle" class="tl">I+II</text>
<line x1="215.9" x2="215.9" y1="1010.1" y2="1014.7" stroke="#333333" stroke-width="1.3"/>
<text x="215.9" y="1029" text-anchor="middle" class="tl">III+IV</text>
<text transform="translate(15.8,863.2) rotate(-90)" text-anchor="middle" font-size="18.2">OGDHL expression</text>
<line x1="338.5" x2="578.3" y1="964.4" y2="964.4" stroke="#EBEBEB" stroke-width="0.9"/>
<line x1="338.5" x2="578.3" y1="898.5" y2="898.5" stroke="#EBEBEB" stroke-width="0.9"/>
<line x1="338.5" x2="578.3" y1="832.5" y2="832.5" stroke="#EBEBEB" stroke-width="0.9"/>
<line x1="338.5" x2="578.3" y1="766.6" y2="766.6" stroke="#EBEBEB" stroke-width="0.9"/>
<line x1="338.5" x2="578.3" y1="997.4" y2="997.4" stroke="#EBEBEB" stroke-width="1.8"/>
<line x1="338.5" x2="578.3" y1="931.5" y2="931.5" stroke="#EBEBEB" stroke-width="1.8"/>
<line x1="338.5" x2="578.3" y1="865.5" y2="865.5" stroke="#EBEBEB" stroke-width="1.8"/>
<line x1="338.5" x2="578.3" y1="799.5" y2="799.5" stroke="#EBEBEB" stroke-width="1.8"/>
<line x1="338.5" x2="578.3" y1="733.6" y2="733.6" stroke="#EBEBEB" stroke-width="1.8"/>
<line x1="403.9" x2="403.9" y1="716.3" y2="1010.1" stroke="#EBEBEB" stroke-width="1.8"/>
<line x1="512.9" x2="512.9" y1="716.3" y2="1010.1" stroke="#EBEBEB" stroke-width="1.8"/>
<path d="M446.1 997.0h0M404.5 990.9h0M387.5 988.9h0M418.2 984.2h0M366.2 982.8h0M397.6 979.1h0M443.4 975.0h0M371.2 972.9h0M425.4 967.2h0M388.7 963.6h0M366.8 962.2h0M437.8 959.8h0M394.3 955.3h0M429.0 952.0h0M408.3 949.9h0M399.9 948.7h0M388.4 946.3h0M437.4 943.5h0M375.4 941.8h0M425.4 939.4h0M411.5 937.0h0M433.9 934.6h0M428.5 933.5h0M390.5 931.9h0M377.5 930.3h0M442.3 928.6h0M373.2 926.4h0M423.7 924.3h0M394.8 923.4h0M409.8 921.7h0M429.5 920.0h0M409.0 917.9h0M376.2 916.8h0M392.5 914.1h0M434.4 913.3h0M390.8 910.7h0M364.1 909.8h0M428.9 908.1h0M433.6 906.5h0M400.5 905.9h0M425.9 904.4h0M441.1 902.8h0M390.8 900.7h0M402.2 899.3h0M369.1 897.4h0M400.6 896.7h0M384.1 894.8h0M442.2 893.8h0M414.7 892.1h0M377.6 891.2h0M416.5 889.1h0M393.5 888.8h0M396.1 886.6h0M371.2 885.3h0M431.1 884.5h0M380.8 883.1h0M398.3 881.5h0M418.8 880.0h0M377.0 879.1h0M432.3 877.2h0M381.7 875.9h0M445.5 874.8h0M375.4 873.9h0M411.7 872.7h0M429.1 871.5h0M361.5 869.5h0M422.8 868.8h0M382.1 867.4h0M407.2 866.1h0M437.7 865.4h0M391.3 865.1h0M371.3 864.5h0M432.9 864.0h0M430.0 863.3h0M410.6 862.9h0M396.8 862.1h0M365.4 861.6h0M420.7 861.4h0M441.0 860.7h0M391.1 860.2h0M410.4 859.6h0M430.6 859.2h0M395.0 858.5h0M362.5 858.2h0M422.9 857.5h0M407.8 856.8h0M389.7 856.8h0M419.7 855.8h0M440.0 855.3h0M362.5 855.2h0M424.6 854.3h0M396.7 853.8h0M376.4 853.6h0M444.5 852.9h0M384.0 852.4h0M420.8 851.7h0M443.5 851.2h0M360.7 850.8h0M377.9 850.1h0M399.3 850.0h0M444.8 849.2h0M382.6 848.6h0M361.6 847.9h0M408.9 847.7h0M420.4 847.0h0M411.6 846.7h0M438.6 846.1h0M379.5 845.3h0M373.8 845.1h0M425.0 844.5h0M367.3 844.2h0M394.5 843.4h0M399.5 842.9h0M434.9 842.6h0M424.2 841.9h0M422.2 841.5h0M435.8 840.7h0M386.1 840.4h0M408.6 839.8h0M367.3 839.1h0M409.6 838.9h0M382.4 837.9h0M364.7 837.6h0M443.6 837.3h0M419.9 836.5h0M398.5 835.8h0M366.9 835.6h0M430.1 835.2h0M413.5 834.3h0M378.2 833.7h0M392.6 833.6h0M360.8 832.8h0M420.7 832.3h0M431.9 831.7h0M404.3 831.4h0M364.4 830.8h0M442.5 830.1h0M401.3 829.5h0M415.1 829.2h0M385.4 829.1h0M375.3 828.5h0M408.1 828.2h0M382.3 827.7h0M436.3 827.4h0M421.6 827.1h0M418.1 826.8h0M430.8 826.4h0M371.6 826.1h0M411.4 825.7h0M380.9 825.3h0M419.8 825.0h0M390.9 824.5h0M408.1 824.2h0M437.4 824.0h0M361.0 823.5h0M439.2 823.1h0M389.6 822.8h0M427.5 822.2h0M402.0 822.1h0M368.7 821.7h0M382.5 821.4h0M399.1 821.0h0M436.2 820.6h0M366.2 820.1h0M427.1 819.6h0M398.4 819.3h0M441.4 819.1h0M378.2 818.8h0M418.3 818.4h0M364.3 818.0h0M439.2 817.4h0M399.8 817.3h0M382.3 816.7h0M427.0 816.5h0M377.6 816.2h0M444.8 815.8h0M425.6 815.3h0M407.8 815.0h0M381.0 814.7h0M361.1 814.2h0M399.5 814.0h0M424.5 813.4h0M447.1 813.3h0M390.7 812.6h0M360.4 812.3h0M383.8 811.9h0M428.7 811.8h0M431.3 811.4h0M408.3 811.0h0M368.2 810.7h0M417.6 810.3h0M372.3 810.0h0M447.4 809.6h0M401.5 809.0h0M381.7 808.7h0M369.4 808.5h0M395.6 807.9h0M442.9 807.8h0M381.7 807.4h0M419.0 807.0h0M375.7 806.4h0M441.3 806.1h0M393.6 805.7h0M425.3 805.3h0M398.8 805.0h0M402.5 804.8h0M367.9 804.0h0M442.1 803.5h0M427.4 803.0h0M387.1 801.9h0M438.9 801.3h0M365.1 800.8h0M403.3 800.4h0M390.1 799.3h0M426.0 798.9h0M382.9 798.2h0M402.6 797.1h0M420.2 796.4h0M365.6 796.2h0M445.7 795.4h0M425.6 794.5h0M412.6 794.3h0M363.1 793.5h0M394.2 792.4h0M441.1 791.7h0M421.5 791.3h0M404.9 790.3h0M390.9 789.8h0M433.1 789.4h0M366.3 788.4h0M377.7 787.5h0M432.6 787.0h0M418.7 786.3h0M384.6 785.9h0M405.8 784.6h0M403.0 784.5h0M376.1 783.7h0M392.7 782.9h0M422.0 782.1h0M444.8 780.9h0M384.4 780.9h0M405.3 779.7h0M418.7 778.9h0M439.6 778.7h0M376.6 778.0h0M379.1 776.6h0M405.0 776.0h0M362.8 775.7h0M446.2 774.8h0M429.7 773.9h0M442.0 773.4h0M412.7 772.1h0M394.0 771.3h0M410.5 770.6h0M365.4 770.2h0M376.2 769.5h0M428.9 768.7h0M383.6 768.0h0M439.5 767.1h0M399.7 766.2h0M387.7 765.5h0M434.1 764.4h0M403.0 763.8h0M430.0 762.3h0M361.8 761.4h0M372.2 760.4h0M413.9 759.6h0M398.0 758.5h0M431.5 757.6h0M389.7 757.1h0M430.0 755.0h0M362.0 753.5h0M446.4 752.6h0M408.0 750.0h0M395.1 746.5h0" stroke="#3A5FA3" stroke-width="5.9" stroke-linecap="round"/>
<path d="M488.9 992.7h0M537.8 980.1h0M550.7 974.8h0M478.5 970.5h0M507.7 966.9h0M554.2 961.3h0M474.0 957.7h0M502.8 956.4h0M525.5 954.0h0M508.6 951.5h0M488.5 946.3h0M520.3 946.1h0M525.0 942.8h0M483.3 940.5h0M541.0 938.0h0M485.2 935.1h0M508.2 932.3h0M544.1 930.2h0M536.6 926.2h0M495.9 924.4h0M510.2 921.8h0M537.9 919.5h0M550.8 917.7h0M479.3 914.8h0M488.8 911.8h0M542.1 908.2h0M484.0 906.9h0M525.6 903.5h0M508.1 901.0h0M496.0 896.8h0M499.7 893.9h0M540.7 893.2h0M532.5 889.5h0M518.0 887.5h0M483.3 883.4h0M503.9 881.8h0M470.7 877.4h0M531.1 874.2h0M556.0 872.8h0M505.7 868.5h0M475.1 865.2h0M547.7 862.0h0M490.9 860.7h0M513.9 857.7h0M537.7 854.2h0M473.4 853.2h0M532.7 849.1h0M545.1 847.4h0M514.2 845.3h0M489.8 844.3h0M513.3 842.4h0M482.7 840.8h0M501.7 839.6h0M536.2 836.7h0M556.4 835.6h0M551.2 834.5h0M522.1 832.5h0M520.9 830.8h0M503.3 828.1h0M476.5 827.4h0M535.2 825.8h0M494.8 823.8h0M550.6 822.7h0M484.2 821.0h0M508.4 818.0h0M536.9 816.7h0M486.7 815.7h0M549.9 813.9h0M500.8 811.3h0M519.4 810.0h0M544.0 809.0h0M496.6 807.4h0M483.8 806.5h0M528.6 804.8h0M509.2 803.5h0M521.0 802.8h0M532.0 800.4h0M485.6 799.4h0M494.8 797.7h0M550.2 795.5h0M527.8 794.0h0M501.4 792.8h0M515.1 790.5h0M551.5 787.9h0M475.7 787.6h0M520.0 783.5h0M494.5 782.2h0M524.2 777.9h0M543.0 777.0h0M476.3 771.8h0M471.6 765.9h0M528.2 757.9h0M496.9 741.6h0" stroke="#D52828" stroke-width="5.9" stroke-linecap="round"/>
<line x1="403.9" x2="403.9" y1="746.5" y2="804.4" stroke="#C2C2C2" stroke-width="1.4"/>
<line x1="403.9" x2="403.9" y1="865.9" y2="959.8" stroke="#C2C2C2" stroke-width="1.4"/>
<rect x="363" y="804.4" width="81.7" height="61.5" fill="none" stroke="#C2C2C2" stroke-width="1.5"/>
<line x1="363" x2="444.8" y1="829.7" y2="829.7" stroke="#C2C2C2" stroke-width="3"/>
<line x1="512.9" x2="512.9" y1="742.2" y2="809.6" stroke="#C2C2C2" stroke-width="1.4"/>
<line x1="512.9" x2="512.9" y1="915.6" y2="992.7" stroke="#C2C2C2" stroke-width="1.4"/>
<rect x="472" y="809.6" width="81.7" height="106" fill="none" stroke="#C2C2C2" stroke-width="1.5"/>
<line x1="472" x2="553.8" y1="849.1" y2="849.1" stroke="#C2C2C2" stroke-width="3"/>
<path d="M403.9,737V729.5H512.9V737" fill="none" stroke="#000" stroke-width="1.4"/>
<text x="458.4" y="730.7" font-size="17.6" text-anchor="middle">**</text>
<rect x="338.5" y="716.3" width="239.8" height="293.8" fill="none" stroke="#333333" stroke-width="1.1"/>
<line x1="333.9" x2="338.5" y1="997.4" y2="997.4" stroke="#333333" stroke-width="1.3"/>
<text x="329.4" y="1002.7" text-anchor="end" class="tl">0</text>
<line x1="333.9" x2="338.5" y1="931.5" y2="931.5" stroke="#333333" stroke-width="1.3"/>
<text x="329.4" y="936.7" text-anchor="end" class="tl">2</text>
<line x1="333.9" x2="338.5" y1="865.5" y2="865.5" stroke="#333333" stroke-width="1.3"/>
<text x="329.4" y="870.8" text-anchor="end" class="tl">4</text>
<line x1="333.9" x2="338.5" y1="799.5" y2="799.5" stroke="#333333" stroke-width="1.3"/>
<text x="329.4" y="804.8" text-anchor="end" class="tl">6</text>
<line x1="333.9" x2="338.5" y1="733.6" y2="733.6" stroke="#333333" stroke-width="1.3"/>
<text x="329.4" y="738.9" text-anchor="end" class="tl">8</text>
<line x1="403.9" x2="403.9" y1="1010.1" y2="1014.7" stroke="#333333" stroke-width="1.3"/>
<text x="403.9" y="1029" text-anchor="middle" class="tl">T1+T2</text>
<line x1="512.9" x2="512.9" y1="1010.1" y2="1014.7" stroke="#333333" stroke-width="1.3"/>
<text x="512.9" y="1029" text-anchor="middle" class="tl">T3+T4</text>
<text transform="translate(312.8,863.2) rotate(-90)" text-anchor="middle" font-size="18.2">OGDHL expression</text>
<line x1="635.5" x2="875.3" y1="964.4" y2="964.4" stroke="#EBEBEB" stroke-width="0.9"/>
<line x1="635.5" x2="875.3" y1="898.5" y2="898.5" stroke="#EBEBEB" stroke-width="0.9"/>
<line x1="635.5" x2="875.3" y1="832.5" y2="832.5" stroke="#EBEBEB" stroke-width="0.9"/>
<line x1="635.5" x2="875.3" y1="766.6" y2="766.6" stroke="#EBEBEB" stroke-width="0.9"/>
<line x1="635.5" x2="875.3" y1="997.4" y2="997.4" stroke="#EBEBEB" stroke-width="1.8"/>
<line x1="635.5" x2="875.3" y1="931.5" y2="931.5" stroke="#EBEBEB" stroke-width="1.8"/>
<line x1="635.5" x2="875.3" y1="865.5" y2="865.5" stroke="#EBEBEB" stroke-width="1.8"/>
<line x1="635.5" x2="875.3" y1="799.5" y2="799.5" stroke="#EBEBEB" stroke-width="1.8"/>
<line x1="635.5" x2="875.3" y1="733.6" y2="733.6" stroke="#EBEBEB" stroke-width="1.8"/>
<line x1="700.9" x2="700.9" y1="716.3" y2="1010.1" stroke="#EBEBEB" stroke-width="1.8"/>
<line x1="809.9" x2="809.9" y1="716.3" y2="1010.1" stroke="#EBEBEB" stroke-width="1.8"/>
<path d="M739.0 997.0h0M663.9 989.8h0M710.6 987.2h0M702.7 984.6h0M678.0 982.3h0M702.8 975.9h0M740.0 971.8h0M720.2 971.5h0M664.7 964.5h0M692.1 963.5h0M664.8 959.0h0M719.1 956.9h0M678.4 950.2h0M742.6 949.4h0M693.7 946.2h0M686.5 941.6h0M739.3 940.0h0M700.2 935.9h0M673.3 934.6h0M711.2 932.6h0M658.1 930.1h0M687.6 926.2h0M702.3 924.7h0M740.0 921.1h0M714.0 920.6h0M670.0 917.6h0M699.4 915.3h0M742.2 913.8h0M678.2 911.3h0M712.8 908.4h0M733.9 906.9h0M688.8 906.2h0M708.2 904.0h0M667.8 901.2h0M724.8 899.9h0M744.0 897.7h0M672.6 895.5h0M721.7 894.7h0M707.5 892.3h0M680.5 890.4h0M694.8 888.0h0M659.7 886.8h0M677.6 885.4h0M710.7 883.6h0M727.5 881.9h0M660.6 879.5h0M720.1 877.7h0M691.4 875.5h0M730.7 874.8h0M704.5 873.1h0M684.5 871.3h0M693.5 868.8h0M717.5 868.1h0M674.0 866.7h0M727.6 864.1h0M703.8 862.2h0M657.6 861.4h0M713.3 858.9h0M743.8 858.4h0M688.9 857.7h0M673.5 856.9h0M725.1 856.8h0M675.1 856.2h0M693.7 855.3h0M739.3 854.9h0M690.0 854.0h0M669.1 853.7h0M699.3 852.8h0M724.4 852.4h0M734.2 851.7h0M667.2 850.7h0M691.7 850.4h0M743.5 849.8h0M700.8 849.0h0M711.5 848.6h0M681.1 847.9h0M702.3 847.1h0M659.9 846.3h0M730.4 845.8h0M725.9 845.1h0M727.6 844.7h0M726.4 844.0h0M675.8 843.0h0M673.2 842.5h0M692.4 841.7h0M727.0 841.4h0M737.2 841.0h0M684.7 840.2h0M667.8 839.2h0M693.0 839.2h0M658.4 838.4h0M694.0 837.4h0M730.2 837.2h0M687.1 836.1h0M724.2 835.9h0M669.5 834.8h0M718.7 834.4h0M703.5 833.7h0M688.0 833.2h0M733.7 832.5h0M712.6 831.9h0M668.6 831.1h0M708.1 830.9h0M678.2 829.7h0M738.7 829.5h0M704.1 828.9h0M727.0 828.0h0M743.1 827.3h0M676.9 826.7h0M659.6 826.0h0M726.2 825.7h0M683.8 825.0h0M695.7 824.6h0M732.5 823.8h0M671.7 823.1h0M657.5 822.2h0M701.9 821.8h0M719.0 821.4h0M687.3 821.1h0M743.3 820.7h0M717.6 820.3h0M688.9 820.1h0M740.6 819.7h0M663.9 819.3h0M704.5 818.8h0M657.6 818.3h0M675.3 818.0h0M699.8 817.8h0M742.1 817.3h0M713.0 816.8h0M682.8 816.3h0M723.6 816.0h0M705.0 815.6h0M662.8 815.1h0M742.6 814.7h0M677.5 814.3h0M704.7 814.2h0M728.9 813.7h0M710.8 813.3h0M660.2 812.9h0M694.8 812.4h0M675.6 812.0h0M665.0 811.7h0M742.7 811.3h0M712.4 810.8h0M737.4 810.7h0M679.4 810.0h0M665.7 809.9h0M719.3 809.2h0M699.1 808.9h0M670.2 808.4h0M725.3 808.2h0M676.5 807.7h0M692.3 807.5h0M740.7 807.0h0M674.5 806.8h0M728.2 806.3h0M712.3 805.8h0M676.5 805.5h0M707.5 804.9h0M697.9 804.7h0M726.6 804.4h0M741.1 803.8h0M675.6 803.6h0M666.0 803.0h0M696.1 802.8h0M715.0 802.2h0M677.6 801.8h0M669.9 801.7h0M728.6 801.0h0M668.0 800.7h0M705.4 800.3h0M675.4 800.0h0M723.3 799.4h0M730.9 799.4h0M722.5 798.3h0M684.5 798.3h0M730.5 797.6h0M694.7 796.7h0M659.2 796.5h0M684.8 795.9h0M697.2 795.1h0M671.0 794.9h0M737.5 794.3h0M719.9 793.4h0M724.4 792.9h0M735.6 792.3h0M683.3 791.6h0M707.3 791.0h0M658.3 790.6h0M716.4 790.3h0M657.4 789.6h0M699.9 788.7h0M676.2 788.1h0M740.7 787.9h0M667.7 786.8h0M729.2 786.1h0M709.5 785.7h0M679.0 784.9h0M712.1 784.5h0M710.2 783.7h0M675.9 783.3h0M697.7 782.3h0M668.0 781.8h0M734.6 781.3h0M681.5 780.4h0M729.6 779.6h0M697.4 778.8h0M669.1 778.6h0M718.8 777.2h0M733.3 776.9h0M726.4 776.0h0M684.9 775.2h0M674.2 774.1h0M705.7 773.4h0M666.6 773.0h0M721.3 772.2h0M734.0 770.7h0M698.6 769.9h0M676.0 769.5h0M714.7 768.0h0M708.2 767.5h0M732.6 765.3h0M669.5 765.2h0M689.5 763.1h0M703.6 762.6h0M735.3 760.9h0M681.8 758.8h0M658.7 757.6h0M712.2 754.6h0M735.1 749.4h0M691.9 741.6h0" stroke="#3A5FA3" stroke-width="5.9" stroke-linecap="round"/>
<path d="M787.4 992.7h0M850.1 978.9h0M780.6 974.2h0M820.8 972.4h0M805.8 968.2h0M815.4 966.4h0M840.3 962.5h0M819.7 960.3h0M789.4 957.7h0M768.8 955.2h0M772.7 951.4h0M815.2 949.7h0M795.7 948.4h0M820.4 945.8h0M839.1 944.0h0M780.7 941.6h0M845.5 939.0h0M791.9 937.0h0M811.6 935.9h0M826.5 932.5h0M825.6 931.3h0M804.4 929.6h0M791.5 928.1h0M838.0 925.9h0M772.2 924.6h0M780.8 922.7h0M821.3 919.2h0M804.7 918.4h0M799.9 917.2h0M846.8 913.8h0M841.2 911.9h0M792.3 911.1h0M820.7 908.9h0M781.2 907.7h0M813.2 905.1h0M839.1 904.1h0M812.6 902.4h0M818.8 900.4h0M779.2 900.0h0M791.6 897.2h0M782.6 895.6h0M844.7 894.4h0M802.7 893.2h0M825.6 891.4h0M784.2 889.0h0M821.0 887.7h0M791.6 886.8h0M804.9 884.7h0M766.7 882.8h0M839.6 880.7h0M843.3 879.7h0M801.7 877.5h0M770.6 877.2h0M829.6 874.4h0M785.8 874.0h0M806.1 872.3h0M844.6 870.7h0M828.9 869.0h0M795.8 866.4h0M780.6 865.4h0M833.2 863.2h0M851.6 861.4h0M807.7 860.5h0M784.6 859.3h0M774.8 857.5h0M812.9 855.0h0M819.3 854.5h0M836.6 852.6h0M779.5 851.9h0M801.0 850.9h0M773.6 850.3h0M810.7 849.3h0M826.9 848.7h0M852.6 847.6h0M786.1 846.8h0M844.3 846.5h0M822.5 845.3h0M790.2 844.4h0M770.8 844.1h0M810.2 843.1h0M785.4 842.0h0M823.7 841.2h0M812.4 840.5h0M837.4 839.5h0M766.5 839.0h0M849.8 838.1h0M807.5 837.8h0M785.2 836.5h0M822.0 836.0h0M781.4 835.4h0M810.3 834.2h0M799.9 833.5h0M773.7 832.4h0M844.2 831.8h0M831.9 831.5h0M788.0 830.3h0M782.5 829.9h0M851.1 828.5h0M821.4 827.6h0M803.7 827.3h0M793.0 826.1h0M806.2 825.7h0M773.1 824.6h0M848.2 824.4h0M822.9 823.3h0M812.2 822.7h0M837.6 821.7h0M834.7 820.9h0M780.1 820.4h0M787.5 818.9h0M774.9 818.0h0M823.4 817.0h0M809.7 816.6h0M798.2 815.0h0M848.4 814.1h0M811.7 813.7h0M832.1 811.9h0M790.8 810.9h0M837.7 809.3h0M772.8 809.2h0M822.9 808.0h0M778.6 806.5h0M840.1 805.0h0M803.3 803.7h0M791.7 800.7h0M795.3 799.6h0M850.1 798.7h0M833.5 796.2h0M814.8 794.0h0M779.3 791.3h0M853.0 788.2h0M777.2 784.0h0M814.2 778.2h0M796.1 762.1h0" stroke="#D52828" stroke-width="5.9" stroke-linecap="round"/>
<line x1="700.9" x2="700.9" y1="742.2" y2="799.4" stroke="#C2C2C2" stroke-width="1.4"/>
<line x1="700.9" x2="700.9" y1="858.8" y2="946.2" stroke="#C2C2C2" stroke-width="1.4"/>
<rect x="660" y="799.4" width="81.7" height="59.4" fill="none" stroke="#C2C2C2" stroke-width="1.5"/>
<line x1="660" x2="741.8" y1="822.1" y2="822.1" stroke="#C2C2C2" stroke-width="3"/>
<line x1="809.9" x2="809.9" y1="762.1" y2="826.4" stroke="#C2C2C2" stroke-width="1.4"/>
<line x1="809.9" x2="809.9" y1="907.4" y2="992.7" stroke="#C2C2C2" stroke-width="1.4"/>
<rect x="769" y="826.4" width="81.7" height="81" fill="none" stroke="#C2C2C2" stroke-width="1.5"/>
<line x1="769" x2="850.8" y1="853" y2="853" stroke="#C2C2C2" stroke-width="3"/>
<path d="M700.9,737V729.5H809.9V737" fill="none" stroke="#000" stroke-width="1.4"/>
<text x="755.4" y="730.7" font-size="17.6" text-anchor="middle">****</text>
<rect x="635.5" y="716.3" width="239.8" height="293.8" fill="none" stroke="#333333" stroke-width="1.1"/>
<line x1="630.9" x2="635.5" y1="997.4" y2="997.4" stroke="#333333" stroke-width="1.3"/>
<text x="626.4" y="1002.7" text-anchor="end" class="tl">0</text>
<line x1="630.9" x2="635.5" y1="931.5" y2="931.5" stroke="#333333" stroke-width="1.3"/>
<text x="626.4" y="936.7" text-anchor="end" class="tl">2</text>
<line x1="630.9" x2="635.5" y1="865.5" y2="865.5" stroke="#333333" stroke-width="1.3"/>
<text x="626.4" y="870.8" text-anchor="end" class="tl">4</text>
<line x1="630.9" x2="635.5" y1="799.5" y2="799.5" stroke="#333333" stroke-width="1.3"/>
<text x="626.4" y="804.8" text-anchor="end" class="tl">6</text>
<line x1="630.9" x2="635.5" y1="733.6" y2="733.6" stroke="#333333" stroke-width="1.3"/>
<text x="626.4" y="738.9" text-anchor="end" class="tl">8</text>
<line x1="700.9" x2="700.9" y1="1010.1" y2="1014.7" stroke="#333333" stroke-width="1.3"/>
<text x="700.9" y="1029" text-anchor="middle" class="tl">G1+G2</text>
<line x1="809.9" x2="809.9" y1="1010.1" y2="1014.7" stroke="#333333" stroke-width="1.3"/>
<text x="809.9" y="1029" text-anchor="middle" class="tl">G3+G4</text>
<text transform="translate(609.8,863.2) rotate(-90)" text-anchor="middle" font-size="18.2">OGDHL expression</text>
<text transform="translate(2.5,717.5) scale(0.93,1)" font-size="38.3" font-weight="bold">E</text>
<line x1="952.6" x2="1172.3" y1="967.9" y2="967.9" stroke="#EBEBEB" stroke-width="0.9"/>
<line x1="952.6" x2="1172.3" y1="901.1" y2="901.1" stroke="#EBEBEB" stroke-width="0.9"/>
<line x1="952.6" x2="1172.3" y1="834.2" y2="834.2" stroke="#EBEBEB" stroke-width="0.9"/>
<line x1="952.6" x2="1172.3" y1="767.4" y2="767.4" stroke="#EBEBEB" stroke-width="0.9"/>
<line x1="952.6" x2="1172.3" y1="1001.3" y2="1001.3" stroke="#EBEBEB" stroke-width="1.8"/>
<line x1="952.6" x2="1172.3" y1="934.5" y2="934.5" stroke="#EBEBEB" stroke-width="1.8"/>
<line x1="952.6" x2="1172.3" y1="867.6" y2="867.6" stroke="#EBEBEB" stroke-width="1.8"/>
<line x1="952.6" x2="1172.3" y1="800.8" y2="800.8" stroke="#EBEBEB" stroke-width="1.8"/>
<line x1="952.6" x2="1172.3" y1="734" y2="734" stroke="#EBEBEB" stroke-width="1.8"/>
<line x1="1012.5" x2="1012.5" y1="716.3" y2="1010.1" stroke="#EBEBEB" stroke-width="1.8"/>
<line x1="1112.4" x2="1112.4" y1="716.3" y2="1010.1" stroke="#EBEBEB" stroke-width="1.8"/>
<path d="M1017.5 997.0h0M991.8 991.9h0M1039.3 985.9h0M1022.9 980.9h0M975.7 974.5h0M1002.5 972.4h0M974.4 965.1h0M1036.9 962.5h0M1033.1 955.4h0M1008.2 950.4h0M1040.2 947.3h0M1021.9 942.3h0M974.4 935.3h0M1012.4 930.4h0M990.4 926.4h0M988.4 920.7h0M1019.7 918.1h0M990.6 912.8h0M1044.1 907.1h0M1034.5 904.1h0M1022.8 898.3h0M1007.8 894.7h0M1003.9 888.0h0M1036.9 885.2h0M978.1 880.4h0M980.8 876.0h0M1048.0 874.9h0M989.6 872.4h0M1022.4 870.3h0M1017.0 869.1h0M1027.7 867.2h0M993.7 863.9h0M977.2 863.0h0M1038.8 861.9h0M1007.6 858.8h0M999.5 857.9h0M1031.1 855.2h0M1005.1 854.6h0M1049.1 852.1h0M983.0 850.2h0M980.2 848.6h0M988.7 847.5h0M1006.9 846.2h0M1051.0 843.8h0M1020.9 842.9h0M978.2 840.7h0M1001.0 839.3h0M1029.0 838.2h0M1017.2 836.9h0M1041.2 835.0h0M1011.5 834.5h0M996.3 832.2h0M978.1 831.9h0M1047.2 830.5h0M1032.0 829.3h0M1001.3 827.8h0M1040.9 825.6h0M1034.4 824.5h0M1006.3 824.0h0M985.8 822.0h0M1023.8 820.3h0M1038.3 820.0h0M979.9 818.7h0M1001.2 817.0h0M1004.5 816.4h0M999.8 816.0h0M1050.9 815.4h0M987.7 815.0h0M1031.1 814.7h0M1009.9 814.1h0M1008.3 813.6h0M983.9 813.4h0M1030.2 812.8h0M1044.3 812.5h0M988.6 812.1h0M1025.4 811.8h0M981.2 811.1h0M999.5 810.8h0M1009.4 810.6h0M1052.1 810.0h0M1046.5 809.8h0M973.0 809.5h0M1018.1 808.9h0M999.0 808.6h0M1033.0 808.1h0M1030.3 807.5h0M994.5 807.2h0M1042.1 806.7h0M983.5 806.6h0M1009.3 806.1h0M1031.6 805.6h0M989.2 805.4h0M1019.4 804.9h0M1042.1 804.4h0M975.0 803.8h0M1034.9 803.8h0M1048.4 803.1h0M1006.5 803.0h0M978.9 802.4h0M993.6 802.1h0M1012.0 801.4h0M980.6 801.2h0M1034.1 800.8h0M1046.7 800.5h0M991.6 800.1h0M1052.2 799.5h0M1004.9 799.2h0M986.0 798.8h0M1034.0 798.4h0M989.6 797.9h0M974.2 797.5h0M996.7 796.9h0M1019.5 796.8h0M1022.2 796.2h0M1039.5 795.7h0M995.8 795.4h0M1005.4 794.9h0M1044.3 794.6h0M974.9 794.1h0M1031.4 793.8h0M1028.3 793.4h0M984.2 793.2h0M1006.3 792.5h0M996.6 792.2h0M1039.3 791.9h0M1029.3 791.4h0M1016.4 791.0h0M995.5 790.6h0M1041.9 790.1h0M973.5 790.0h0M978.0 789.8h0M1050.8 789.5h0M1014.6 789.0h0M998.1 788.9h0M1029.5 788.5h0M1015.5 788.3h0M985.5 788.1h0M1044.3 787.7h0M1025.5 787.3h0M1000.2 787.3h0M976.6 786.9h0M990.0 786.7h0M1008.5 786.3h0M1033.8 786.0h0M1047.6 785.8h0M1024.9 785.4h0M1042.6 785.2h0M993.1 785.0h0M985.9 784.6h0M1007.5 784.3h0M982.8 784.1h0M995.7 783.8h0M1017.1 783.5h0M1048.5 783.3h0M1027.5 783.1h0M995.1 782.8h0M1004.9 782.3h0M1040.0 782.2h0M973.4 782.0h0M1025.3 781.7h0M994.2 781.3h0M1036.2 781.1h0M977.9 780.8h0M1049.9 780.6h0M1020.5 780.2h0M993.6 779.8h0M1026.5 779.7h0M1048.4 779.3h0M979.2 779.1h0M1015.9 778.8h0M1035.7 778.5h0M1043.6 778.2h0M1017.4 777.9h0M1000.5 777.7h0M979.7 777.5h0M987.9 777.1h0M1048.1 776.8h0M1007.1 776.7h0M1035.1 776.4h0M991.2 775.9h0M1015.2 775.9h0M1032.4 775.7h0M984.4 775.4h0M1050.2 775.0h0M995.1 774.7h0M1005.2 774.3h0M1029.0 774.1h0M1040.7 773.9h0M990.0 773.5h0M977.5 773.3h0M1011.3 773.1h0M1033.0 772.7h0M1045.2 772.3h0M978.3 771.9h0M994.8 771.7h0M990.4 771.3h0M980.8 770.8h0M1049.3 770.2h0M1020.4 770.1h0M1021.1 769.4h0M992.3 768.9h0M982.4 768.6h0M1005.0 768.4h0M1044.4 767.9h0M1030.3 767.4h0M1023.4 767.1h0M1045.4 766.4h0M1001.3 766.3h0M975.5 765.8h0M1012.5 765.3h0M1051.4 764.9h0M995.8 764.6h0M978.0 764.0h0M1030.7 763.4h0M1007.8 763.0h0M996.5 762.7h0M1045.8 762.1h0M1026.5 761.7h0M974.1 761.5h0M1018.1 761.1h0M1018.0 760.7h0M976.6 760.0h0M1042.8 759.9h0M989.2 759.2h0M1034.7 758.8h0M991.0 758.4h0M979.4 757.8h0M1038.4 757.7h0M1025.1 756.9h0M1007.7 756.6h0M994.8 756.1h0M983.0 755.9h0M1021.0 755.5h0M1042.4 755.0h0M1007.7 754.5h0M1032.3 754.1h0M1016.1 753.6h0M1037.2 753.2h0M990.3 752.5h0M982.8 752.2h0M1043.7 751.8h0M997.9 751.5h0M985.9 750.9h0M1028.3 750.5h0M1008.1 750.0h0M1028.5 749.3h0M1017.8 749.2h0M998.9 748.8h0M1044.8 748.0h0M980.8 747.5h0M991.8 747.4h0M1005.6 746.9h0M1038.1 746.2h0M984.7 745.9h0M1027.2 744.9h0M985.0 744.6h0M1003.1 741.6h0" stroke="#3A5FA3" stroke-width="5.9" stroke-linecap="round"/>
<path d="M1113.9 993.7h0M1081.1 973.0h0M1137.6 965.6h0M1093.1 960.3h0M1132.8 941.6h0M1080.3 933.3h0M1100.5 932.7h0M1116.8 922.7h0M1149.7 918.6h0M1131.8 912.1h0M1118.7 903.5h0M1123.5 897.8h0M1150.1 895.6h0M1089.8 889.9h0M1082.2 886.9h0M1106.1 880.4h0M1082.9 879.0h0M1148.7 872.5h0M1103.5 869.3h0M1134.7 865.0h0M1121.5 862.7h0M1082.0 856.5h0M1140.5 854.8h0M1098.4 851.6h0M1114.8 850.8h0M1112.6 848.1h0M1123.4 846.6h0M1080.2 843.3h0M1147.3 842.5h0M1088.5 838.8h0M1122.0 836.4h0M1147.0 835.8h0M1094.6 833.8h0M1085.3 830.7h0M1118.9 828.5h0M1100.1 826.1h0M1141.0 825.0h0M1119.0 822.2h0M1125.3 820.6h0M1077.7 817.0h0M1102.1 815.2h0M1125.6 813.5h0M1138.9 811.9h0M1113.4 809.8h0M1082.9 806.7h0M1125.6 804.9h0M1101.9 804.3h0M1139.5 803.4h0M1118.8 800.9h0M1087.7 800.8h0M1123.5 799.4h0M1072.8 797.5h0M1114.0 796.7h0M1088.4 795.0h0M1148.4 794.4h0M1081.9 793.1h0M1120.9 791.5h0M1101.6 790.6h0M1110.8 788.6h0M1136.7 788.2h0M1134.3 786.5h0M1145.7 785.9h0M1087.3 783.7h0M1098.3 782.8h0M1109.7 782.2h0M1121.1 780.2h0M1077.2 778.6h0M1097.2 777.6h0M1144.7 777.1h0M1119.6 775.6h0M1147.7 774.9h0M1100.0 773.4h0M1123.4 772.0h0M1119.8 771.5h0M1076.0 770.3h0M1135.7 768.2h0M1087.8 767.1h0M1102.7 766.1h0M1144.6 765.6h0M1120.1 764.1h0M1113.6 762.7h0M1074.4 762.2h0M1093.4 759.9h0M1128.6 759.7h0M1148.0 757.5h0M1107.5 756.2h0M1093.8 754.2h0M1122.8 753.8h0M1137.7 751.1h0M1072.7 747.0h0" stroke="#D52828" stroke-width="5.9" stroke-linecap="round"/>
<line x1="1012.5" x2="1012.5" y1="743.3" y2="772.4" stroke="#C2C2C2" stroke-width="1.4"/>
<line x1="1012.5" x2="1012.5" y1="816.3" y2="880.4" stroke="#C2C2C2" stroke-width="1.4"/>
<rect x="975.1" y="772.4" width="74.9" height="43.9" fill="none" stroke="#C2C2C2" stroke-width="1.5"/>
<line x1="975.1" x2="1050" y1="790.2" y2="790.2" stroke="#C2C2C2" stroke-width="3"/>
<line x1="1112.4" x2="1112.4" y1="747.6" y2="777.8" stroke="#C2C2C2" stroke-width="1.4"/>
<line x1="1112.4" x2="1112.4" y1="854.5" y2="960.3" stroke="#C2C2C2" stroke-width="1.4"/>
<rect x="1074.9" y="777.8" width="74.9" height="76.7" fill="none" stroke="#C2C2C2" stroke-width="1.5"/>
<line x1="1074.9" x2="1149.8" y1="805.9" y2="805.9" stroke="#C2C2C2" stroke-width="3"/>
<path d="M1012.5,737V729.5H1112.4V737" fill="none" stroke="#000" stroke-width="1.4"/>
<text x="1062.5" y="730.7" font-size="17.6" text-anchor="middle">**</text>
<rect x="952.6" y="716.3" width="219.7" height="293.8" fill="none" stroke="#333333" stroke-width="1.1"/>
<line x1="948" x2="952.6" y1="1001.3" y2="1001.3" stroke="#333333" stroke-width="1.3"/>
<text x="943.5" y="1006.6" text-anchor="end" class="tl">0.0</text>
<line x1="948" x2="952.6" y1="934.5" y2="934.5" stroke="#333333" stroke-width="1.3"/>
<text x="943.5" y="939.7" text-anchor="end" class="tl">2.5</text>
<line x1="948" x2="952.6" y1="867.6" y2="867.6" stroke="#333333" stroke-width="1.3"/>
<text x="943.5" y="872.9" text-anchor="end" class="tl">5.0</text>
<line x1="948" x2="952.6" y1="800.8" y2="800.8" stroke="#333333" stroke-width="1.3"/>
<text x="943.5" y="806.1" text-anchor="end" class="tl">7.5</text>
<line x1="948" x2="952.6" y1="734" y2="734" stroke="#333333" stroke-width="1.3"/>
<text x="943.5" y="739.3" text-anchor="end" class="tl">10.0</text>
<line x1="1012.5" x2="1012.5" y1="1010.1" y2="1014.7" stroke="#333333" stroke-width="1.3"/>
<text x="1012.5" y="1029" text-anchor="middle" class="tl">I+II</text>
<line x1="1112.4" x2="1112.4" y1="1010.1" y2="1014.7" stroke="#333333" stroke-width="1.3"/>
<text x="1112.4" y="1029" text-anchor="middle" class="tl">III+IV</text>
<text transform="translate(906.8,863.2) rotate(-90)" text-anchor="middle" font-size="18.2">PON1 expression</text>
<line x1="1249.6" x2="1469.3" y1="967.9" y2="967.9" stroke="#EBEBEB" stroke-width="0.9"/>
<line x1="1249.6" x2="1469.3" y1="901.1" y2="901.1" stroke="#EBEBEB" stroke-width="0.9"/>
<line x1="1249.6" x2="1469.3" y1="834.2" y2="834.2" stroke="#EBEBEB" stroke-width="0.9"/>
<line x1="1249.6" x2="1469.3" y1="767.4" y2="767.4" stroke="#EBEBEB" stroke-width="0.9"/>
<line x1="1249.6" x2="1469.3" y1="1001.3" y2="1001.3" stroke="#EBEBEB" stroke-width="1.8"/>
<line x1="1249.6" x2="1469.3" y1="934.5" y2="934.5" stroke="#EBEBEB" stroke-width="1.8"/>
<line x1="1249.6" x2="1469.3" y1="867.6" y2="867.6" stroke="#EBEBEB" stroke-width="1.8"/>
<line x1="1249.6" x2="1469.3" y1="800.8" y2="800.8" stroke="#EBEBEB" stroke-width="1.8"/>
<line x1="1249.6" x2="1469.3" y1="734" y2="734" stroke="#EBEBEB" stroke-width="1.8"/>
<line x1="1309.5" x2="1309.5" y1="716.3" y2="1010.1" stroke="#EBEBEB" stroke-width="1.8"/>
<line x1="1409.4" x2="1409.4" y1="716.3" y2="1010.1" stroke="#EBEBEB" stroke-width="1.8"/>
<path d="M1313.1 997.0h0M1345.0 987.0h0M1333.4 985.9h0M1276.5 981.6h0M1300.5 972.8h0M1273.8 967.0h0M1318.8 963.5h0M1340.9 956.6h0M1303.5 952.0h0M1300.5 950.3h0M1304.9 942.2h0M1330.5 939.9h0M1292.7 934.8h0M1282.6 927.0h0M1339.2 921.3h0M1329.4 917.2h0M1308.1 914.5h0M1292.1 909.7h0M1334.6 903.3h0M1274.0 896.8h0M1306.4 890.3h0M1330.8 885.1h0M1337.5 884.7h0M1270.3 881.4h0M1291.7 879.4h0M1340.2 877.4h0M1296.3 874.7h0M1284.6 873.1h0M1316.0 871.4h0M1328.9 870.1h0M1338.4 867.4h0M1280.8 865.6h0M1326.4 864.8h0M1314.0 863.1h0M1286.0 860.7h0M1289.3 859.7h0M1280.1 858.0h0M1335.7 856.4h0M1329.5 855.6h0M1302.3 854.2h0M1272.1 851.7h0M1337.7 851.0h0M1308.1 850.1h0M1320.5 848.2h0M1287.4 846.9h0M1274.8 845.7h0M1296.5 843.6h0M1337.3 843.2h0M1314.9 841.8h0M1328.1 840.6h0M1345.8 839.5h0M1300.5 837.3h0M1276.1 836.8h0M1323.1 835.6h0M1310.1 834.6h0M1296.9 832.8h0M1308.8 832.0h0M1327.0 830.3h0M1346.6 829.2h0M1283.1 828.7h0M1273.7 827.5h0M1333.4 826.2h0M1347.1 825.2h0M1300.6 824.1h0M1307.6 822.9h0M1288.8 822.3h0M1331.7 820.9h0M1334.8 819.3h0M1303.4 818.7h0M1283.5 818.0h0M1302.1 817.8h0M1273.9 817.2h0M1338.4 817.0h0M1293.5 816.4h0M1322.6 816.2h0M1299.9 815.5h0M1306.3 815.0h0M1278.1 814.8h0M1332.9 814.4h0M1343.6 814.1h0M1280.0 813.4h0M1328.8 813.0h0M1343.5 812.8h0M1301.2 812.3h0M1312.8 811.7h0M1348.4 811.4h0M1280.9 810.8h0M1318.4 810.5h0M1315.2 810.1h0M1286.4 809.8h0M1295.1 809.2h0M1273.9 808.8h0M1347.6 808.3h0M1321.4 808.1h0M1310.8 807.9h0M1329.5 807.1h0M1298.9 807.0h0M1282.7 806.5h0M1306.5 806.2h0M1338.0 805.6h0M1349.3 805.3h0M1314.8 804.8h0M1327.7 804.1h0M1278.5 803.9h0M1287.0 803.3h0M1340.8 802.9h0M1272.9 802.6h0M1289.5 802.0h0M1322.9 801.7h0M1314.2 801.6h0M1348.2 801.0h0M1283.6 800.6h0M1325.6 800.1h0M1306.4 799.7h0M1289.4 799.2h0M1297.1 798.8h0M1280.5 798.6h0M1343.6 798.0h0M1322.7 797.6h0M1305.3 797.3h0M1316.0 796.9h0M1342.4 796.3h0M1328.6 796.0h0M1298.2 795.6h0M1270.7 795.1h0M1279.4 794.9h0M1299.0 794.5h0M1343.2 794.1h0M1303.4 793.5h0M1319.0 793.1h0M1294.1 792.5h0M1336.7 792.1h0M1306.1 791.8h0M1271.7 791.2h0M1329.5 790.7h0M1316.4 790.7h0M1271.1 790.3h0M1292.5 789.7h0M1348.5 789.6h0M1329.7 789.3h0M1289.2 789.0h0M1283.6 788.8h0M1332.6 788.3h0M1312.6 788.1h0M1336.1 787.9h0M1342.7 787.6h0M1279.5 787.4h0M1326.2 787.1h0M1317.0 786.8h0M1297.5 786.5h0M1279.6 786.3h0M1338.3 786.0h0M1290.7 785.8h0M1308.7 785.5h0M1324.0 785.4h0M1316.1 785.1h0M1321.3 784.7h0M1283.3 784.4h0M1299.6 784.1h0M1342.4 783.9h0M1344.1 783.7h0M1288.5 783.3h0M1270.3 783.2h0M1331.0 783.0h0M1310.3 782.7h0M1270.3 782.4h0M1290.3 782.2h0M1306.1 782.0h0M1326.2 781.6h0M1344.3 781.3h0M1290.4 781.0h0M1274.6 781.0h0M1331.7 780.7h0M1339.9 780.2h0M1303.0 780.0h0M1280.9 779.7h0M1304.6 779.6h0M1295.8 779.2h0M1343.4 779.1h0M1326.0 778.8h0M1335.7 778.5h0M1316.5 778.2h0M1291.8 777.9h0M1321.9 777.8h0M1273.3 777.5h0M1316.5 777.3h0M1295.2 776.9h0M1344.4 776.6h0M1270.7 776.4h0M1327.2 776.2h0M1334.0 775.9h0M1287.8 775.7h0M1304.5 775.5h0M1329.5 775.2h0M1270.6 774.8h0M1284.1 774.5h0M1315.8 774.4h0M1292.7 774.1h0M1344.4 773.8h0M1320.7 773.7h0M1325.7 773.4h0M1270.5 773.1h0M1344.4 772.7h0M1305.4 772.5h0M1289.7 772.2h0M1286.1 772.0h0M1337.0 771.5h0M1269.9 771.3h0M1310.0 770.7h0M1318.0 770.6h0M1297.6 770.0h0M1327.3 769.9h0M1341.8 769.5h0M1310.5 768.7h0M1270.5 768.6h0M1346.1 768.2h0M1328.4 767.5h0M1278.9 767.4h0M1286.5 766.7h0M1315.7 766.3h0M1285.1 766.1h0M1336.3 765.6h0M1329.3 765.4h0M1299.5 764.7h0M1316.2 764.5h0M1345.5 764.2h0M1330.2 763.5h0M1308.2 763.1h0M1279.2 762.8h0M1286.8 762.3h0M1314.9 762.0h0M1329.8 761.4h0M1296.8 761.2h0M1282.4 760.8h0M1341.3 760.2h0M1340.2 760.1h0M1314.0 759.7h0M1301.0 758.9h0M1321.8 758.7h0M1276.7 758.5h0M1317.5 758.0h0M1291.2 757.3h0M1339.9 757.1h0M1331.2 756.9h0M1283.3 756.3h0M1323.6 756.0h0M1295.3 755.3h0M1349.2 755.2h0M1314.0 754.5h0M1275.0 754.3h0M1311.1 753.9h0M1292.1 753.4h0M1334.6 753.1h0M1280.1 752.4h0M1323.1 752.0h0M1320.8 751.5h0M1274.6 751.2h0M1309.0 750.7h0M1337.2 750.5h0M1293.0 749.8h0M1286.4 749.4h0M1285.5 749.3h0M1303.7 748.8h0M1345.3 748.1h0M1330.4 747.8h0M1302.3 747.2h0M1279.0 747.0h0M1345.0 746.5h0M1320.9 745.8h0M1293.7 745.4h0M1292.9 745.3h0M1280.4 744.6h0M1329.2 743.8h0M1335.5 743.5h0M1305.5 741.6h0" stroke="#3A5FA3" stroke-width="5.9" stroke-linecap="round"/>
<path d="M1392.6 993.7h0M1409.4 973.4h0M1427.6 960.7h0M1439.4 960.3h0M1373.2 946.9h0M1427.6 934.9h0M1413.1 931.5h0M1396.4 919.7h0M1379.1 917.2h0M1448.6 909.1h0M1423.8 905.8h0M1448.4 901.8h0M1379.4 897.9h0M1398.4 891.9h0M1405.8 888.0h0M1432.5 883.7h0M1434.3 878.2h0M1404.3 872.9h0M1392.5 870.8h0M1377.0 865.2h0M1378.8 861.9h0M1410.2 859.3h0M1418.9 853.7h0M1444.0 852.5h0M1394.0 850.3h0M1394.0 847.4h0M1370.3 846.9h0M1448.8 843.4h0M1407.0 842.7h0M1421.2 839.9h0M1434.4 838.7h0M1429.9 836.4h0M1413.5 833.9h0M1378.4 833.1h0M1398.7 831.1h0M1412.2 827.8h0M1398.8 825.3h0M1442.8 824.1h0M1382.7 821.9h0M1420.7 819.3h0M1419.3 817.1h0M1408.1 815.9h0M1374.2 813.2h0M1443.9 811.2h0M1399.2 809.7h0M1429.1 808.1h0M1371.3 805.3h0M1389.0 804.9h0M1405.2 803.1h0M1434.9 802.3h0M1432.0 800.6h0M1375.7 799.5h0M1395.4 799.1h0M1445.0 796.8h0M1403.0 796.6h0M1370.0 795.3h0M1408.2 793.7h0M1427.1 792.8h0M1444.6 790.6h0M1397.8 790.0h0M1421.1 788.6h0M1448.6 787.9h0M1383.6 785.7h0M1392.9 784.7h0M1405.6 783.8h0M1375.8 782.6h0M1391.5 781.5h0M1408.1 780.0h0M1443.3 779.3h0M1424.9 777.3h0M1445.1 776.8h0M1430.5 775.7h0M1413.9 774.2h0M1388.6 773.6h0M1378.9 771.8h0M1444.1 771.5h0M1371.5 769.9h0M1386.6 769.3h0M1420.7 768.2h0M1409.7 766.7h0M1408.2 765.2h0M1439.3 764.2h0M1397.2 763.5h0M1372.0 762.5h0M1427.8 760.8h0M1376.7 759.3h0M1406.9 759.1h0M1427.8 756.8h0M1388.8 756.2h0M1448.6 754.1h0M1384.4 753.1h0M1389.2 750.4h0M1420.7 747.0h0" stroke="#D52828" stroke-width="5.9" stroke-linecap="round"/>
<line x1="1309.5" x2="1309.5" y1="742.2" y2="771.8" stroke="#C2C2C2" stroke-width="1.4"/>
<line x1="1309.5" x2="1309.5" y1="818.4" y2="884.7" stroke="#C2C2C2" stroke-width="1.4"/>
<rect x="1272.1" y="771.8" width="74.9" height="46.6" fill="none" stroke="#C2C2C2" stroke-width="1.5"/>
<line x1="1272.1" x2="1347" y1="789.7" y2="789.7" stroke="#C2C2C2" stroke-width="3"/>
<line x1="1409.4" x2="1409.4" y1="747.6" y2="777.2" stroke="#C2C2C2" stroke-width="1.4"/>
<line x1="1409.4" x2="1409.4" y1="852.8" y2="960.3" stroke="#C2C2C2" stroke-width="1.4"/>
<rect x="1371.9" y="777.2" width="74.9" height="75.6" fill="none" stroke="#C2C2C2" stroke-width="1.5"/>
<line x1="1371.9" x2="1446.8" y1="805.9" y2="805.9" stroke="#C2C2C2" stroke-width="3"/>
<path d="M1309.5,737V729.5H1409.4V737" fill="none" stroke="#000" stroke-width="1.4"/>
<text x="1359.4" y="730.7" font-size="17.6" text-anchor="middle">*</text>
<rect x="1249.6" y="716.3" width="219.7" height="293.8" fill="none" stroke="#333333" stroke-width="1.1"/>
<line x1="1245" x2="1249.6" y1="1001.3" y2="1001.3" stroke="#333333" stroke-width="1.3"/>
<text x="1240.5" y="1006.6" text-anchor="end" class="tl">0.0</text>
<line x1="1245" x2="1249.6" y1="934.5" y2="934.5" stroke="#333333" stroke-width="1.3"/>
<text x="1240.5" y="939.7" text-anchor="end" class="tl">2.5</text>
<line x1="1245" x2="1249.6" y1="867.6" y2="867.6" stroke="#333333" stroke-width="1.3"/>
<text x="1240.5" y="872.9" text-anchor="end" class="tl">5.0</text>
<line x1="1245" x2="1249.6" y1="800.8" y2="800.8" stroke="#333333" stroke-width="1.3"/>
<text x="1240.5" y="806.1" text-anchor="end" class="tl">7.5</text>
<line x1="1245" x2="1249.6" y1="734" y2="734" stroke="#333333" stroke-width="1.3"/>
<text x="1240.5" y="739.3" text-anchor="end" class="tl">10.0</text>
<line x1="1309.5" x2="1309.5" y1="1010.1" y2="1014.7" stroke="#333333" stroke-width="1.3"/>
<text x="1309.5" y="1029" text-anchor="middle" class="tl">T1+T2</text>
<line x1="1409.4" x2="1409.4" y1="1010.1" y2="1014.7" stroke="#333333" stroke-width="1.3"/>
<text x="1409.4" y="1029" text-anchor="middle" class="tl">T3+T4</text>
<text transform="translate(1203.8,863.2) rotate(-90)" text-anchor="middle" font-size="18.2">PON1 expression</text>
<line x1="1546.6" x2="1766.3" y1="967.9" y2="967.9" stroke="#EBEBEB" stroke-width="0.9"/>
<line x1="1546.6" x2="1766.3" y1="901.1" y2="901.1" stroke="#EBEBEB" stroke-width="0.9"/>
<line x1="1546.6" x2="1766.3" y1="834.2" y2="834.2" stroke="#EBEBEB" stroke-width="0.9"/>
<line x1="1546.6" x2="1766.3" y1="767.4" y2="767.4" stroke="#EBEBEB" stroke-width="0.9"/>
<line x1="1546.6" x2="1766.3" y1="1001.3" y2="1001.3" stroke="#EBEBEB" stroke-width="1.8"/>
<line x1="1546.6" x2="1766.3" y1="934.5" y2="934.5" stroke="#EBEBEB" stroke-width="1.8"/>
<line x1="1546.6" x2="1766.3" y1="867.6" y2="867.6" stroke="#EBEBEB" stroke-width="1.8"/>
<line x1="1546.6" x2="1766.3" y1="800.8" y2="800.8" stroke="#EBEBEB" stroke-width="1.8"/>
<line x1="1546.6" x2="1766.3" y1="734" y2="734" stroke="#EBEBEB" stroke-width="1.8"/>
<line x1="1606.5" x2="1606.5" y1="716.3" y2="1010.1" stroke="#EBEBEB" stroke-width="1.8"/>
<line x1="1706.4" x2="1706.4" y1="716.3" y2="1010.1" stroke="#EBEBEB" stroke-width="1.8"/>
<path d="M1608.3 993.7h0M1579.4 986.1h0M1630.9 976.2h0M1587.3 971.0h0M1623.8 966.1h0M1604.9 959.6h0M1639.1 952.1h0M1577.4 945.8h0M1614.5 934.5h0M1595.2 926.9h0M1601.0 921.1h0M1626.0 915.6h0M1571.2 909.5h0M1585.1 904.6h0M1639.0 895.0h0M1589.6 890.5h0M1617.5 886.1h0M1611.0 879.0h0M1645.5 872.8h0M1578.8 869.4h0M1636.7 867.1h0M1596.6 864.4h0M1623.5 863.3h0M1598.9 860.4h0M1570.5 859.9h0M1590.6 856.9h0M1602.1 855.4h0M1618.8 854.0h0M1630.8 852.4h0M1571.2 849.6h0M1639.3 848.1h0M1618.6 846.4h0M1596.4 844.9h0M1569.1 843.3h0M1606.6 842.3h0M1593.4 840.7h0M1604.6 838.9h0M1574.4 838.7h0M1619.6 836.0h0M1634.0 835.7h0M1635.8 834.6h0M1567.8 832.8h0M1592.5 831.1h0M1620.4 830.1h0M1601.5 828.9h0M1635.2 827.8h0M1604.1 826.5h0M1578.8 824.7h0M1587.4 823.8h0M1626.1 822.3h0M1625.1 820.9h0M1590.6 820.3h0M1582.4 819.4h0M1643.8 818.1h0M1600.8 817.2h0M1572.7 816.1h0M1611.7 815.1h0M1592.0 813.2h0M1628.4 812.8h0M1636.1 812.3h0M1605.5 811.9h0M1596.3 811.2h0M1637.7 810.7h0M1627.6 810.5h0M1575.0 810.0h0M1611.5 809.3h0M1570.9 809.1h0M1582.9 808.6h0M1616.4 808.1h0M1632.5 807.5h0M1594.7 807.3h0M1608.4 806.6h0M1636.1 805.9h0M1569.7 805.6h0M1621.4 805.0h0M1594.9 804.6h0M1574.0 804.2h0M1615.7 803.8h0M1644.0 803.0h0M1599.9 802.8h0M1575.8 802.2h0M1584.5 801.6h0M1612.9 801.3h0M1641.1 801.0h0M1623.9 800.3h0M1604.6 799.7h0M1567.8 799.5h0M1590.6 799.2h0M1637.1 798.7h0M1622.6 797.9h0M1619.6 797.7h0M1585.4 797.0h0M1601.1 796.4h0M1635.9 796.0h0M1566.8 795.7h0M1621.3 795.2h0M1597.3 794.5h0M1632.6 794.0h0M1576.4 793.7h0M1605.4 793.3h0M1635.6 792.8h0M1581.1 792.1h0M1586.2 792.0h0M1610.2 791.4h0M1626.6 790.8h0M1592.1 790.3h0M1609.6 790.1h0M1615.0 789.4h0M1641.5 789.0h0M1577.9 788.7h0M1637.9 787.9h0M1585.5 787.6h0M1603.7 787.3h0M1579.2 786.4h0M1616.3 786.1h0M1572.4 785.6h0M1608.3 785.3h0M1634.1 785.0h0M1597.1 784.7h0M1617.0 784.4h0M1603.1 784.3h0M1584.3 783.7h0M1641.9 783.7h0M1581.7 783.4h0M1621.8 783.0h0M1627.5 782.7h0M1637.2 782.6h0M1610.9 782.3h0M1588.4 781.9h0M1576.3 781.5h0M1617.3 781.5h0M1596.4 780.9h0M1644.7 780.8h0M1608.4 780.5h0M1578.7 780.3h0M1624.6 779.9h0M1574.3 779.7h0M1589.6 779.4h0M1633.1 779.0h0M1601.9 778.8h0M1637.1 778.6h0M1574.2 778.3h0M1605.8 778.0h0M1587.8 777.6h0M1614.6 777.4h0M1631.0 777.3h0M1604.7 776.8h0M1568.7 776.6h0M1590.7 776.4h0M1622.7 776.1h0M1570.1 775.8h0M1602.0 775.6h0M1590.9 775.3h0M1634.6 775.0h0M1624.4 774.6h0M1636.3 774.3h0M1571.3 774.0h0M1630.2 773.8h0M1586.3 773.5h0M1600.1 773.4h0M1643.1 773.0h0M1618.1 772.6h0M1609.5 772.5h0M1593.7 772.2h0M1577.0 771.9h0M1589.9 771.7h0M1624.9 771.2h0M1568.8 771.0h0M1607.6 770.7h0M1636.6 770.6h0M1616.7 770.1h0M1592.3 770.0h0M1607.3 769.6h0M1640.0 769.2h0M1576.2 769.0h0M1604.4 768.5h0M1570.1 768.1h0M1598.4 767.9h0M1640.4 767.1h0M1614.8 766.8h0M1577.2 766.3h0M1627.4 766.0h0M1607.4 765.5h0M1588.1 765.0h0M1633.0 764.4h0M1595.8 764.0h0M1624.9 763.7h0M1606.7 763.2h0M1632.1 762.7h0M1572.3 762.4h0M1595.5 761.9h0M1640.1 761.5h0M1624.8 761.3h0M1575.6 760.9h0M1610.3 760.2h0M1596.8 759.9h0M1580.0 759.2h0M1612.0 759.0h0M1638.7 758.5h0M1620.9 758.0h0M1570.6 757.6h0M1617.6 757.2h0M1582.6 756.9h0M1634.1 756.3h0M1609.3 755.9h0M1611.3 755.6h0M1587.5 755.0h0M1572.8 754.6h0M1617.9 753.8h0M1645.3 753.6h0M1570.6 753.0h0M1598.0 752.4h0M1642.2 752.0h0M1599.2 751.9h0M1627.4 751.2h0M1637.2 750.6h0M1626.0 750.6h0M1584.5 749.8h0M1599.1 749.4h0M1578.5 749.2h0M1584.9 748.7h0M1575.7 748.3h0M1601.3 747.8h0M1621.0 747.3h0M1639.9 746.5h0M1574.7 746.3h0M1582.6 745.4h0M1600.0 745.1h0M1617.5 744.3h0M1639.8 743.7h0M1575.3 743.7h0M1627.4 741.6h0" stroke="#3A5FA3" stroke-width="5.9" stroke-linecap="round"/>
<path d="M1727.0 997.0h0M1691.6 977.3h0M1708.9 967.4h0M1679.5 960.3h0M1730.8 945.1h0M1695.0 941.8h0M1727.4 936.0h0M1710.0 931.4h0M1680.9 927.0h0M1744.6 921.1h0M1678.8 917.1h0M1722.7 915.5h0M1742.2 911.4h0M1691.1 908.9h0M1711.2 904.2h0M1738.7 902.1h0M1695.9 898.7h0M1715.9 893.7h0M1707.7 890.6h0M1681.8 888.9h0M1684.2 886.4h0M1676.7 883.9h0M1736.6 882.1h0M1701.4 879.0h0M1717.2 875.4h0M1719.4 873.8h0M1692.3 871.2h0M1706.8 868.3h0M1742.4 866.1h0M1667.4 864.2h0M1695.6 861.7h0M1722.2 860.4h0M1711.0 857.1h0M1741.7 855.9h0M1667.3 854.0h0M1686.9 852.3h0M1711.3 851.2h0M1744.6 850.3h0M1667.4 848.1h0M1725.4 847.0h0M1690.0 845.0h0M1677.7 843.6h0M1735.9 841.9h0M1709.4 840.5h0M1720.6 838.9h0M1682.4 837.9h0M1745.7 836.8h0M1719.9 835.0h0M1701.1 833.7h0M1688.8 831.5h0M1702.6 831.2h0M1687.8 828.9h0M1737.9 828.3h0M1680.1 826.7h0M1724.9 824.5h0M1698.8 822.5h0M1670.3 822.2h0M1697.0 820.9h0M1735.2 819.4h0M1723.6 817.7h0M1716.5 815.9h0M1736.9 814.5h0M1703.0 812.2h0M1667.1 811.0h0M1691.2 809.4h0M1715.7 807.8h0M1710.0 807.2h0M1682.2 805.5h0M1692.2 805.1h0M1742.1 804.0h0M1720.7 803.2h0M1667.6 802.7h0M1706.3 801.9h0M1687.2 801.5h0M1731.8 800.7h0M1729.1 799.5h0M1707.3 799.0h0M1697.6 798.1h0M1680.0 797.3h0M1736.9 796.7h0M1706.5 795.5h0M1733.1 794.9h0M1725.0 794.3h0M1685.5 793.5h0M1671.4 792.6h0M1710.8 792.1h0M1690.5 790.9h0M1725.2 790.2h0M1744.1 789.3h0M1666.5 788.7h0M1721.0 787.8h0M1679.2 786.8h0M1744.5 786.5h0M1703.8 785.9h0M1690.6 784.6h0M1735.8 783.7h0M1707.4 782.8h0M1725.7 782.2h0M1682.3 781.6h0M1693.2 780.8h0M1720.4 779.8h0M1679.5 779.2h0M1691.9 778.3h0M1703.4 777.3h0M1737.1 776.9h0M1719.7 776.0h0M1744.7 774.8h0M1713.6 774.3h0M1672.7 773.3h0M1692.2 772.0h0M1681.7 771.4h0M1744.7 771.0h0M1690.8 769.8h0M1707.4 768.6h0M1724.2 768.1h0M1712.9 766.8h0M1673.9 766.3h0M1730.2 765.0h0M1689.3 764.2h0M1736.9 763.2h0M1719.7 762.9h0M1670.6 761.2h0M1745.4 760.2h0M1706.2 759.5h0M1697.8 758.3h0M1729.6 757.6h0M1674.9 757.1h0M1709.7 755.8h0M1694.5 754.8h0M1731.2 753.0h0M1701.6 752.3h0M1691.1 750.6h0M1736.6 749.4h0M1677.5 744.8h0" stroke="#D52828" stroke-width="5.9" stroke-linecap="round"/>
<line x1="1606.5" x2="1606.5" y1="742.2" y2="769.2" stroke="#C2C2C2" stroke-width="1.4"/>
<line x1="1606.5" x2="1606.5" y1="813" y2="872.8" stroke="#C2C2C2" stroke-width="1.4"/>
<rect x="1569.1" y="769.2" width="74.9" height="43.8" fill="none" stroke="#C2C2C2" stroke-width="1.5"/>
<line x1="1569.1" x2="1644" y1="785.4" y2="785.4" stroke="#C2C2C2" stroke-width="3"/>
<line x1="1706.4" x2="1706.4" y1="745.5" y2="780" stroke="#C2C2C2" stroke-width="1.4"/>
<line x1="1706.4" x2="1706.4" y1="855.6" y2="960.3" stroke="#C2C2C2" stroke-width="1.4"/>
<rect x="1668.9" y="780" width="74.9" height="75.6" fill="none" stroke="#C2C2C2" stroke-width="1.5"/>
<line x1="1668.9" x2="1743.8" y1="806.3" y2="806.3" stroke="#C2C2C2" stroke-width="3"/>
<path d="M1606.5,737V729.5H1706.4V737" fill="none" stroke="#000" stroke-width="1.4"/>
<text x="1656.4" y="730.7" font-size="17.6" text-anchor="middle">****</text>
<rect x="1546.6" y="716.3" width="219.7" height="293.8" fill="none" stroke="#333333" stroke-width="1.1"/>
<line x1="1542" x2="1546.6" y1="1001.3" y2="1001.3" stroke="#333333" stroke-width="1.3"/>
<text x="1537.5" y="1006.6" text-anchor="end" class="tl">0.0</text>
<line x1="1542" x2="1546.6" y1="934.5" y2="934.5" stroke="#333333" stroke-width="1.3"/>
<text x="1537.5" y="939.7" text-anchor="end" class="tl">2.5</text>
<line x1="1542" x2="1546.6" y1="867.6" y2="867.6" stroke="#333333" stroke-width="1.3"/>
<text x="1537.5" y="872.9" text-anchor="end" class="tl">5.0</text>
<line x1="1542" x2="1546.6" y1="800.8" y2="800.8" stroke="#333333" stroke-width="1.3"/>
<text x="1537.5" y="806.1" text-anchor="end" class="tl">7.5</text>
<line x1="1542" x2="1546.6" y1="734" y2="734" stroke="#333333" stroke-width="1.3"/>
<text x="1537.5" y="739.3" text-anchor="end" class="tl">10.0</text>
<line x1="1606.5" x2="1606.5" y1="1010.1" y2="1014.7" stroke="#333333" stroke-width="1.3"/>
<text x="1606.5" y="1029" text-anchor="middle" class="tl">G1+G2</text>
<line x1="1706.4" x2="1706.4" y1="1010.1" y2="1014.7" stroke="#333333" stroke-width="1.3"/>
<text x="1706.4" y="1029" text-anchor="middle" class="tl">G3+G4</text>
<text transform="translate(1500.8,863.2) rotate(-90)" text-anchor="middle" font-size="18.2">PON1 expression</text>
<text transform="translate(884.2,717.5) scale(0.93,1)" font-size="38.3" font-weight="bold">F</text>
<line x1="49.5" x2="281.3" y1="1316.6" y2="1316.6" stroke="#EBEBEB" stroke-width="0.9"/>
<line x1="49.5" x2="281.3" y1="1256.8" y2="1256.8" stroke="#EBEBEB" stroke-width="0.9"/>
<line x1="49.5" x2="281.3" y1="1197" y2="1197" stroke="#EBEBEB" stroke-width="0.9"/>
<line x1="49.5" x2="281.3" y1="1137.2" y2="1137.2" stroke="#EBEBEB" stroke-width="0.9"/>
<line x1="49.5" x2="281.3" y1="1077.4" y2="1077.4" stroke="#EBEBEB" stroke-width="0.9"/>
<line x1="49.5" x2="281.3" y1="1346.5" y2="1346.5" stroke="#EBEBEB" stroke-width="1.8"/>
<line x1="49.5" x2="281.3" y1="1286.7" y2="1286.7" stroke="#EBEBEB" stroke-width="1.8"/>
<line x1="49.5" x2="281.3" y1="1226.9" y2="1226.9" stroke="#EBEBEB" stroke-width="1.8"/>
<line x1="49.5" x2="281.3" y1="1167.1" y2="1167.1" stroke="#EBEBEB" stroke-width="1.8"/>
<line x1="49.5" x2="281.3" y1="1107.3" y2="1107.3" stroke="#EBEBEB" stroke-width="1.8"/>
<line x1="112.7" x2="112.7" y1="1072.6" y2="1366" stroke="#EBEBEB" stroke-width="1.8"/>
<line x1="218.1" x2="218.1" y1="1072.6" y2="1366" stroke="#EBEBEB" stroke-width="1.8"/>
<path d="M89.2 1353.0h0M73.7 1339.1h0M150.9 1333.3h0M120.8 1329.2h0M123.0 1324.5h0M72.2 1316.6h0M148.1 1314.0h0M90.3 1312.2h0M109.5 1310.0h0M130.4 1306.0h0M153.5 1304.9h0M100.7 1301.9h0M131.5 1299.9h0M80.0 1298.4h0M115.4 1296.9h0M90.0 1294.9h0M147.7 1294.0h0M78.6 1292.8h0M106.3 1290.5h0M122.6 1289.8h0M123.2 1288.3h0M147.3 1286.5h0M79.2 1285.8h0M96.1 1284.5h0M117.5 1283.6h0M72.6 1282.3h0M152.3 1280.8h0M105.3 1279.9h0M93.8 1279.7h0M136.6 1278.0h0M90.8 1277.3h0M86.7 1276.2h0M131.9 1275.3h0M143.4 1274.8h0M112.8 1273.8h0M109.0 1272.3h0M79.0 1272.2h0M99.7 1270.9h0M121.5 1270.2h0M145.3 1269.4h0M79.8 1268.3h0M136.5 1268.1h0M139.4 1266.8h0M95.2 1266.3h0M104.6 1265.7h0M93.6 1265.0h0M126.6 1264.3h0M149.4 1263.7h0M119.9 1262.7h0M80.6 1262.4h0M121.1 1261.1h0M103.0 1260.8h0M128.8 1260.3h0M74.9 1259.0h0M152.4 1258.7h0M121.9 1258.0h0M114.2 1257.1h0M73.4 1256.8h0M140.8 1256.3h0M98.9 1255.3h0M94.7 1254.8h0M117.4 1254.3h0M128.6 1253.9h0M141.8 1253.1h0M75.3 1252.5h0M74.0 1252.1h0M150.7 1251.5h0M97.8 1251.4h0M124.2 1250.7h0M108.1 1250.7h0M81.9 1250.3h0M106.7 1249.7h0M123.0 1249.4h0M151.1 1248.8h0M95.3 1248.4h0M100.8 1248.2h0M79.3 1247.7h0M111.3 1247.6h0M146.5 1246.9h0M136.0 1246.5h0M71.8 1246.2h0M106.5 1245.9h0M129.6 1245.6h0M95.1 1245.1h0M144.9 1244.4h0M100.0 1244.1h0M140.4 1243.7h0M111.7 1243.4h0M129.4 1243.0h0M79.3 1242.7h0M77.1 1242.4h0M115.7 1241.8h0M127.9 1241.4h0M88.4 1241.1h0M146.7 1240.9h0M84.7 1240.4h0M118.1 1240.1h0M125.7 1239.7h0M149.7 1239.2h0M89.0 1238.6h0M103.6 1238.5h0M113.4 1237.8h0M75.4 1237.5h0M128.9 1237.0h0M140.2 1236.6h0M134.0 1236.4h0M102.6 1235.8h0M147.4 1235.7h0M110.0 1235.0h0M86.1 1234.8h0M103.2 1234.3h0M122.0 1234.1h0M117.4 1233.7h0M153.4 1233.1h0M75.9 1232.7h0M99.6 1232.5h0M136.3 1232.1h0M116.0 1231.5h0M74.8 1231.3h0M140.8 1230.9h0M108.7 1230.6h0M87.6 1230.0h0M72.4 1229.5h0M124.1 1229.2h0M153.0 1228.9h0M116.2 1228.5h0M95.0 1228.2h0M80.4 1227.8h0M128.5 1227.5h0M139.7 1227.1h0M102.2 1226.7h0M79.1 1226.2h0M154.7 1225.8h0M113.7 1225.5h0M130.8 1225.0h0M125.5 1224.7h0M107.4 1224.3h0M82.0 1224.1h0M99.0 1223.6h0M153.5 1223.5h0M142.3 1223.1h0M113.7 1222.7h0M72.3 1222.3h0M122.7 1222.0h0M95.0 1221.4h0M142.5 1221.1h0M103.2 1220.9h0M114.0 1220.4h0M127.0 1220.1h0M85.2 1219.9h0M110.3 1219.6h0M126.8 1219.2h0M75.1 1218.6h0M90.8 1218.5h0M145.8 1217.9h0M76.8 1217.8h0M140.9 1217.2h0M127.7 1216.8h0M88.1 1216.7h0M106.7 1216.1h0M144.6 1216.1h0M124.8 1215.6h0M77.7 1215.2h0M120.8 1214.7h0M88.8 1214.5h0M112.4 1214.1h0M145.4 1213.7h0M75.3 1213.5h0M96.0 1212.9h0M125.5 1212.6h0M89.6 1212.3h0M109.0 1212.0h0M137.8 1211.8h0M73.9 1211.3h0M143.6 1211.0h0M83.7 1210.6h0M114.2 1210.3h0M103.7 1209.9h0M146.6 1209.6h0M123.8 1209.0h0M114.5 1208.8h0M154.6 1208.6h0M125.8 1208.1h0M84.9 1207.6h0M94.7 1207.5h0M76.5 1207.2h0M129.5 1206.6h0M149.3 1206.2h0M106.6 1205.9h0M91.3 1205.5h0M152.8 1205.2h0M107.7 1204.9h0M129.0 1204.6h0M89.8 1204.0h0M70.8 1203.5h0M121.9 1203.3h0M119.2 1202.6h0M141.3 1202.0h0M92.6 1201.6h0M85.8 1200.8h0M110.0 1200.3h0M148.0 1200.2h0M86.3 1199.4h0M89.2 1198.9h0M135.2 1198.3h0M73.7 1197.6h0M95.0 1197.2h0M139.0 1196.5h0M128.0 1195.9h0M107.5 1195.3h0M76.2 1194.9h0M137.1 1194.5h0M100.4 1193.7h0M111.6 1193.1h0M147.7 1192.5h0M139.9 1191.9h0M116.3 1191.4h0M133.2 1190.9h0M94.2 1189.7h0M72.2 1189.4h0M137.3 1188.5h0M139.4 1187.7h0M88.3 1187.2h0M79.9 1186.6h0M109.8 1185.9h0M140.6 1185.1h0M99.5 1184.5h0M72.3 1183.2h0M135.0 1182.6h0M107.9 1182.2h0M116.1 1180.9h0M100.9 1180.4h0M148.2 1179.4h0M86.5 1178.1h0M126.7 1177.7h0M84.7 1176.1h0M100.9 1175.4h0M110.1 1174.5h0M139.5 1173.3h0M126.3 1172.3h0M74.1 1171.4h0M90.8 1169.8h0M115.8 1167.9h0M137.3 1167.5h0M148.1 1166.0h0M148.9 1164.3h0M98.2 1161.9h0M127.8 1160.2h0M120.9 1158.9h0M87.4 1156.7h0M105.8 1152.7h0M103.5 1152.0h0M138.9 1145.7h0M72.0 1140.4h0M128.9 1126.7h0M103.9 1112.9h0M143.3 1101.9h0" stroke="#3A5FA3" stroke-width="5.9" stroke-linecap="round"/>
<path d="M255.3 1309.2h0M192.2 1288.2h0M206.5 1284.4h0M239.6 1279.9h0M222.7 1276.7h0M234.8 1275.3h0M203.1 1272.2h0M218.7 1268.2h0M246.1 1266.9h0M188.3 1265.0h0M199.3 1262.9h0M224.8 1260.0h0M252.1 1259.3h0M182.0 1257.9h0M236.8 1255.3h0M250.4 1254.7h0M189.0 1253.5h0M227.4 1251.7h0M199.5 1250.3h0M210.4 1249.2h0M212.6 1247.7h0M178.7 1246.1h0M209.0 1245.9h0M249.1 1243.9h0M237.0 1242.2h0M187.5 1241.6h0M233.6 1239.1h0M201.1 1237.6h0M224.2 1236.7h0M245.3 1234.9h0M185.2 1232.7h0M252.1 1232.0h0M222.0 1230.9h0M238.3 1228.4h0M201.0 1227.2h0M257.4 1225.4h0M209.4 1224.5h0M225.1 1222.9h0M239.8 1220.9h0M191.4 1220.5h0M248.1 1218.6h0M214.4 1217.4h0M190.3 1215.0h0M199.3 1213.2h0M231.6 1212.3h0M215.3 1210.8h0M202.5 1209.7h0M250.4 1208.4h0M177.2 1207.1h0M231.8 1206.5h0M205.8 1204.3h0M227.2 1203.5h0M183.4 1202.4h0M220.4 1201.0h0M250.2 1199.7h0M202.4 1198.5h0M184.6 1196.9h0M218.7 1195.5h0M235.3 1195.3h0M259.9 1193.5h0M187.3 1191.9h0M253.1 1191.1h0M196.9 1189.7h0M221.3 1189.0h0M234.5 1187.4h0M188.0 1186.0h0M202.0 1184.3h0M249.7 1184.0h0M241.0 1182.3h0M216.8 1180.5h0M221.7 1178.0h0M251.8 1176.5h0M183.8 1175.9h0M228.7 1172.8h0M195.8 1170.6h0M203.5 1169.0h0M225.8 1167.4h0M186.1 1164.4h0M237.8 1161.9h0M245.9 1159.7h0M215.5 1158.3h0M206.5 1156.0h0M179.2 1153.8h0M237.5 1148.9h0M260.0 1146.7h0M233.8 1142.9h0M221.3 1134.6h0M244.3 1131.3h0M190.5 1126.3h0M201.5 1098.2h0" stroke="#D52828" stroke-width="5.9" stroke-linecap="round"/>
<line x1="112.7" x2="112.7" y1="1145.7" y2="1204.4" stroke="#C2C2C2" stroke-width="1.4"/>
<line x1="112.7" x2="112.7" y1="1252.6" y2="1324.5" stroke="#C2C2C2" stroke-width="1.4"/>
<rect x="73.2" y="1204.4" width="79" height="48.2" fill="none" stroke="#C2C2C2" stroke-width="1.5"/>
<line x1="73.2" x2="152.2" y1="1227.3" y2="1227.3" stroke="#C2C2C2" stroke-width="3"/>
<line x1="218.1" x2="218.1" y1="1098.6" y2="1183.5" stroke="#C2C2C2" stroke-width="1.4"/>
<line x1="218.1" x2="218.1" y1="1245.5" y2="1308.7" stroke="#C2C2C2" stroke-width="1.4"/>
<rect x="178.6" y="1183.5" width="79" height="62" fill="none" stroke="#C2C2C2" stroke-width="1.5"/>
<line x1="178.6" x2="257.6" y1="1211.6" y2="1211.6" stroke="#C2C2C2" stroke-width="3"/>
<path d="M112.7,1093.3V1085.8H218.1V1093.3" fill="none" stroke="#000" stroke-width="1.4"/>
<text x="165.4" y="1087" font-size="17.6" text-anchor="middle">**</text>
<rect x="49.5" y="1072.6" width="231.8" height="293.4" fill="none" stroke="#333333" stroke-width="1.1"/>
<line x1="44.9" x2="49.5" y1="1346.5" y2="1346.5" stroke="#333333" stroke-width="1.3"/>
<text x="40.4" y="1351.8" text-anchor="end" class="tl">6</text>
<line x1="44.9" x2="49.5" y1="1286.7" y2="1286.7" stroke="#333333" stroke-width="1.3"/>
<text x="40.4" y="1292" text-anchor="end" class="tl">7</text>
<line x1="44.9" x2="49.5" y1="1226.9" y2="1226.9" stroke="#333333" stroke-width="1.3"/>
<text x="40.4" y="1232.2" text-anchor="end" class="tl">8</text>
<line x1="44.9" x2="49.5" y1="1167.1" y2="1167.1" stroke="#333333" stroke-width="1.3"/>
<text x="40.4" y="1172.4" text-anchor="end" class="tl">9</text>
<line x1="44.9" x2="49.5" y1="1107.3" y2="1107.3" stroke="#333333" stroke-width="1.3"/>
<text x="40.4" y="1112.6" text-anchor="end" class="tl">10</text>
<line x1="112.7" x2="112.7" y1="1366" y2="1370.6" stroke="#333333" stroke-width="1.3"/>
<text x="112.7" y="1384.9" text-anchor="middle" class="tl">I+II</text>
<line x1="218.1" x2="218.1" y1="1366" y2="1370.6" stroke="#333333" stroke-width="1.3"/>
<text x="218.1" y="1384.9" text-anchor="middle" class="tl">III+IV</text>
<text transform="translate(15.8,1219.3) rotate(-90)" text-anchor="middle" font-size="18.2">PTMA expression</text>
<line x1="346.5" x2="578.3" y1="1316.6" y2="1316.6" stroke="#EBEBEB" stroke-width="0.9"/>
<line x1="346.5" x2="578.3" y1="1256.8" y2="1256.8" stroke="#EBEBEB" stroke-width="0.9"/>
<line x1="346.5" x2="578.3" y1="1197" y2="1197" stroke="#EBEBEB" stroke-width="0.9"/>
<line x1="346.5" x2="578.3" y1="1137.2" y2="1137.2" stroke="#EBEBEB" stroke-width="0.9"/>
<line x1="346.5" x2="578.3" y1="1077.4" y2="1077.4" stroke="#EBEBEB" stroke-width="0.9"/>
<line x1="346.5" x2="578.3" y1="1346.5" y2="1346.5" stroke="#EBEBEB" stroke-width="1.8"/>
<line x1="346.5" x2="578.3" y1="1286.7" y2="1286.7" stroke="#EBEBEB" stroke-width="1.8"/>
<line x1="346.5" x2="578.3" y1="1226.9" y2="1226.9" stroke="#EBEBEB" stroke-width="1.8"/>
<line x1="346.5" x2="578.3" y1="1167.1" y2="1167.1" stroke="#EBEBEB" stroke-width="1.8"/>
<line x1="346.5" x2="578.3" y1="1107.3" y2="1107.3" stroke="#EBEBEB" stroke-width="1.8"/>
<line x1="409.7" x2="409.7" y1="1072.6" y2="1366" stroke="#EBEBEB" stroke-width="1.8"/>
<line x1="515.1" x2="515.1" y1="1072.6" y2="1366" stroke="#EBEBEB" stroke-width="1.8"/>
<path d="M374.7 1353.0h0M436.6 1340.7h0M428.2 1332.9h0M404.4 1327.6h0M401.2 1324.5h0M443.9 1319.0h0M385.8 1313.9h0M374.4 1311.9h0M429.5 1308.7h0M417.5 1307.8h0M422.4 1304.1h0M374.1 1302.5h0M406.0 1301.9h0M399.3 1299.4h0M447.8 1297.1h0M422.6 1296.7h0M377.0 1295.1h0M412.9 1292.8h0M436.4 1291.7h0M396.6 1290.5h0M394.4 1289.9h0M375.1 1287.7h0M418.8 1287.3h0M441.4 1286.0h0M416.2 1284.5h0M409.7 1283.7h0M422.3 1282.8h0M401.2 1282.2h0M435.4 1281.1h0M373.3 1279.6h0M388.4 1278.5h0M422.3 1277.8h0M374.8 1277.2h0M449.6 1276.5h0M411.7 1275.5h0M441.8 1274.4h0M396.6 1274.0h0M406.6 1273.3h0M380.0 1272.6h0M429.9 1271.1h0M426.9 1270.5h0M443.5 1270.1h0M387.3 1269.4h0M380.3 1268.5h0M408.6 1267.7h0M414.7 1266.9h0M374.2 1266.7h0M430.7 1265.6h0M400.7 1264.8h0M435.5 1264.5h0M408.7 1263.8h0M434.9 1262.9h0M440.2 1262.3h0M383.7 1262.1h0M399.3 1261.1h0M444.8 1260.9h0M434.3 1260.3h0M368.3 1259.6h0M390.6 1259.0h0M403.5 1258.3h0M441.6 1257.8h0M417.8 1257.2h0M431.5 1256.6h0M373.0 1255.9h0M401.1 1255.3h0M441.3 1254.6h0M375.3 1254.3h0M395.2 1254.0h0M422.7 1253.4h0M406.7 1252.8h0M379.3 1252.5h0M418.2 1252.0h0M439.0 1251.7h0M404.5 1251.4h0M395.4 1250.7h0M375.9 1250.4h0M402.6 1250.2h0M442.1 1249.7h0M389.1 1249.5h0M430.9 1249.0h0M450.5 1248.8h0M376.9 1248.3h0M421.7 1247.9h0M413.2 1247.5h0M392.9 1247.0h0M385.6 1246.7h0M428.9 1246.6h0M374.9 1246.2h0M407.7 1245.8h0M437.9 1245.3h0M443.6 1244.9h0M371.5 1244.5h0M387.6 1244.3h0M434.1 1243.9h0M416.9 1243.5h0M389.0 1243.0h0M374.3 1243.0h0M439.2 1242.5h0M434.8 1242.1h0M412.9 1241.7h0M376.3 1241.3h0M436.9 1241.0h0M395.3 1240.8h0M434.2 1240.3h0M412.9 1239.8h0M413.1 1239.6h0M393.3 1239.3h0M451.0 1238.7h0M381.3 1238.5h0M418.5 1238.1h0M402.8 1237.8h0M451.8 1237.4h0M391.4 1237.0h0M376.0 1236.7h0M426.4 1236.2h0M408.5 1235.8h0M396.7 1235.7h0M379.2 1235.3h0M444.2 1234.8h0M434.7 1234.3h0M409.7 1234.0h0M392.2 1233.8h0M421.9 1233.3h0M446.1 1232.8h0M367.9 1232.6h0M422.5 1232.0h0M410.2 1231.8h0M376.6 1231.5h0M396.6 1230.9h0M442.5 1230.7h0M410.0 1230.3h0M450.1 1230.0h0M393.1 1229.8h0M373.6 1229.2h0M425.7 1229.0h0M418.8 1228.6h0M444.1 1228.1h0M369.3 1227.7h0M396.2 1227.4h0M417.6 1227.2h0M427.5 1226.8h0M396.9 1226.3h0M369.7 1226.3h0M401.6 1225.7h0M450.9 1225.5h0M382.5 1225.1h0M423.5 1224.9h0M397.0 1224.5h0M403.7 1224.1h0M437.5 1223.9h0M386.7 1223.5h0M407.7 1223.3h0M439.9 1222.9h0M378.1 1222.3h0M429.2 1222.0h0M416.0 1221.9h0M375.1 1221.4h0M400.2 1221.1h0M450.7 1220.7h0M433.7 1220.5h0M447.8 1220.1h0M401.5 1219.7h0M381.7 1219.5h0M398.0 1219.2h0M428.3 1218.7h0M408.8 1218.4h0M435.0 1217.9h0M446.2 1217.7h0M395.4 1217.3h0M376.7 1217.0h0M377.5 1216.9h0M435.8 1216.5h0M412.5 1216.1h0M400.2 1215.8h0M422.5 1215.4h0M392.5 1215.0h0M403.3 1214.7h0M421.8 1214.4h0M370.0 1213.9h0M438.2 1213.8h0M430.0 1213.4h0M439.5 1213.1h0M390.4 1212.7h0M380.7 1212.3h0M401.8 1212.0h0M425.3 1211.6h0M382.6 1211.5h0M416.1 1210.9h0M393.4 1210.5h0M436.1 1210.2h0M433.1 1210.0h0M446.7 1209.8h0M381.8 1209.3h0M415.3 1208.9h0M386.8 1208.6h0M411.6 1208.2h0M398.4 1207.9h0M372.0 1207.7h0M437.5 1207.2h0M423.3 1206.9h0M395.4 1206.6h0M415.0 1206.2h0M426.6 1205.8h0M443.1 1205.7h0M374.4 1205.3h0M368.8 1204.9h0M391.8 1204.7h0M405.0 1204.2h0M431.3 1203.9h0M450.8 1203.3h0M396.5 1202.8h0M434.2 1202.7h0M377.3 1201.9h0M403.8 1201.6h0M438.2 1201.3h0M372.9 1200.8h0M388.3 1200.5h0M407.0 1199.7h0M418.8 1199.3h0M441.5 1198.9h0M407.9 1198.5h0M423.9 1198.1h0M375.8 1197.2h0M450.2 1196.9h0M393.5 1196.6h0M428.5 1196.1h0M392.1 1195.5h0M448.0 1195.0h0M413.2 1194.5h0M370.4 1193.9h0M376.1 1193.5h0M436.0 1193.0h0M431.5 1192.3h0M384.6 1191.5h0M409.8 1191.2h0M401.6 1190.2h0M443.0 1190.0h0M371.8 1189.4h0M400.2 1188.5h0M432.3 1188.0h0M447.9 1187.5h0M376.6 1186.8h0M404.2 1186.4h0M387.1 1185.6h0M423.9 1184.8h0M418.3 1184.3h0M379.9 1183.7h0M411.8 1182.2h0M396.4 1182.0h0M445.6 1180.7h0M402.1 1180.0h0M441.9 1179.1h0M375.2 1178.8h0M385.3 1177.3h0M431.6 1176.9h0M450.4 1176.1h0M423.7 1174.7h0M404.9 1174.1h0M389.2 1172.2h0M368.9 1171.9h0M431.7 1170.1h0M444.3 1168.6h0M404.3 1167.1h0M396.5 1165.6h0M382.3 1164.1h0M432.2 1162.4h0M378.9 1162.1h0M391.4 1158.9h0M450.2 1157.1h0M409.4 1155.5h0M397.8 1151.2h0M369.4 1145.7h0M402.0 1134.2h0M437.6 1123.8h0M419.0 1101.9h0" stroke="#3A5FA3" stroke-width="5.9" stroke-linecap="round"/>
<path d="M491.6 1309.2h0M531.6 1293.3h0M545.0 1282.6h0M475.6 1277.9h0M523.0 1275.0h0M495.7 1271.9h0M523.8 1269.2h0M555.2 1266.5h0M513.4 1264.2h0M479.9 1261.5h0M524.4 1259.6h0M506.1 1259.0h0M540.7 1256.2h0M485.1 1255.1h0M516.8 1253.0h0M478.0 1252.7h0M532.4 1251.2h0M491.3 1249.0h0M512.9 1247.8h0M543.8 1246.5h0M539.8 1244.7h0M545.1 1243.8h0M519.1 1242.6h0M486.4 1241.8h0M503.1 1239.8h0M488.3 1238.6h0M521.9 1237.5h0M538.7 1235.9h0M504.8 1235.3h0M555.6 1234.0h0M516.4 1231.9h0M475.3 1230.8h0M549.8 1230.0h0M523.7 1228.4h0M493.4 1227.4h0M540.9 1225.5h0M538.4 1224.3h0M498.2 1223.5h0M489.1 1221.4h0M510.6 1220.7h0M495.9 1218.8h0M477.0 1217.1h0M525.5 1216.2h0M556.3 1215.0h0M510.7 1214.2h0M511.2 1212.8h0M481.8 1210.8h0M493.9 1209.8h0M533.5 1208.0h0M552.2 1207.6h0M514.6 1205.6h0M540.7 1204.4h0M506.7 1203.9h0M481.4 1202.6h0M525.4 1200.7h0M489.3 1199.5h0M527.6 1197.9h0M491.7 1197.1h0M551.5 1196.1h0M518.0 1194.6h0M534.9 1193.2h0M495.2 1191.7h0M542.5 1190.5h0M488.1 1189.4h0M511.7 1188.3h0M509.2 1187.8h0M552.7 1185.9h0M482.3 1184.5h0M505.6 1183.9h0M534.2 1182.9h0M479.7 1180.4h0M544.3 1179.7h0M534.2 1177.4h0M515.7 1175.9h0M498.7 1174.4h0M504.0 1173.0h0M545.5 1170.9h0M476.0 1168.5h0M519.4 1168.3h0M529.2 1165.0h0M528.9 1162.4h0M494.6 1161.7h0M488.1 1157.7h0M552.1 1156.5h0M519.2 1152.9h0M526.8 1149.9h0M473.1 1147.9h0M544.3 1144.2h0M501.2 1141.6h0M519.4 1134.2h0M548.3 1130.1h0M495.5 1122.1h0M509.0 1098.2h0" stroke="#D52828" stroke-width="5.9" stroke-linecap="round"/>
<line x1="409.7" x2="409.7" y1="1145.7" y2="1204.7" stroke="#C2C2C2" stroke-width="1.4"/>
<line x1="409.7" x2="409.7" y1="1253" y2="1324.5" stroke="#C2C2C2" stroke-width="1.4"/>
<rect x="370.2" y="1204.7" width="79" height="48.3" fill="none" stroke="#C2C2C2" stroke-width="1.5"/>
<line x1="370.2" x2="449.2" y1="1227.8" y2="1227.8" stroke="#C2C2C2" stroke-width="3"/>
<line x1="515.1" x2="515.1" y1="1098.6" y2="1182" stroke="#C2C2C2" stroke-width="1.4"/>
<line x1="515.1" x2="515.1" y1="1241.8" y2="1308.7" stroke="#C2C2C2" stroke-width="1.4"/>
<rect x="475.6" y="1182" width="79" height="59.8" fill="none" stroke="#C2C2C2" stroke-width="1.5"/>
<line x1="475.6" x2="554.6" y1="1210.9" y2="1210.9" stroke="#C2C2C2" stroke-width="3"/>
<path d="M409.7,1093.3V1085.8H515.1V1093.3" fill="none" stroke="#000" stroke-width="1.4"/>
<text x="462.4" y="1087" font-size="17.6" text-anchor="middle">***</text>
<rect x="346.5" y="1072.6" width="231.8" height="293.4" fill="none" stroke="#333333" stroke-width="1.1"/>
<line x1="341.9" x2="346.5" y1="1346.5" y2="1346.5" stroke="#333333" stroke-width="1.3"/>
<text x="337.4" y="1351.8" text-anchor="end" class="tl">6</text>
<line x1="341.9" x2="346.5" y1="1286.7" y2="1286.7" stroke="#333333" stroke-width="1.3"/>
<text x="337.4" y="1292" text-anchor="end" class="tl">7</text>
<line x1="341.9" x2="346.5" y1="1226.9" y2="1226.9" stroke="#333333" stroke-width="1.3"/>
<text x="337.4" y="1232.2" text-anchor="end" class="tl">8</text>
<line x1="341.9" x2="346.5" y1="1167.1" y2="1167.1" stroke="#333333" stroke-width="1.3"/>
<text x="337.4" y="1172.4" text-anchor="end" class="tl">9</text>
<line x1="341.9" x2="346.5" y1="1107.3" y2="1107.3" stroke="#333333" stroke-width="1.3"/>
<text x="337.4" y="1112.6" text-anchor="end" class="tl">10</text>
<line x1="409.7" x2="409.7" y1="1366" y2="1370.6" stroke="#333333" stroke-width="1.3"/>
<text x="409.7" y="1384.9" text-anchor="middle" class="tl">T1+T2</text>
<line x1="515.1" x2="515.1" y1="1366" y2="1370.6" stroke="#333333" stroke-width="1.3"/>
<text x="515.1" y="1384.9" text-anchor="middle" class="tl">T3+T4</text>
<text transform="translate(312.8,1219.3) rotate(-90)" text-anchor="middle" font-size="18.2">PTMA expression</text>
<line x1="643.5" x2="875.3" y1="1316.6" y2="1316.6" stroke="#EBEBEB" stroke-width="0.9"/>
<line x1="643.5" x2="875.3" y1="1256.8" y2="1256.8" stroke="#EBEBEB" stroke-width="0.9"/>
<line x1="643.5" x2="875.3" y1="1197" y2="1197" stroke="#EBEBEB" stroke-width="0.9"/>
<line x1="643.5" x2="875.3" y1="1137.2" y2="1137.2" stroke="#EBEBEB" stroke-width="0.9"/>
<line x1="643.5" x2="875.3" y1="1077.4" y2="1077.4" stroke="#EBEBEB" stroke-width="0.9"/>
<line x1="643.5" x2="875.3" y1="1346.5" y2="1346.5" stroke="#EBEBEB" stroke-width="1.8"/>
<line x1="643.5" x2="875.3" y1="1286.7" y2="1286.7" stroke="#EBEBEB" stroke-width="1.8"/>
<line x1="643.5" x2="875.3" y1="1226.9" y2="1226.9" stroke="#EBEBEB" stroke-width="1.8"/>
<line x1="643.5" x2="875.3" y1="1167.1" y2="1167.1" stroke="#EBEBEB" stroke-width="1.8"/>
<line x1="643.5" x2="875.3" y1="1107.3" y2="1107.3" stroke="#EBEBEB" stroke-width="1.8"/>
<line x1="706.7" x2="706.7" y1="1072.6" y2="1366" stroke="#EBEBEB" stroke-width="1.8"/>
<line x1="812.1" x2="812.1" y1="1072.6" y2="1366" stroke="#EBEBEB" stroke-width="1.8"/>
<path d="M731.2 1353.0h0M707.5 1338.2h0M666.2 1324.5h0M740.0 1318.1h0M694.5 1310.8h0M729.3 1308.1h0M688.3 1304.5h0M699.9 1302.1h0M678.8 1301.4h0M747.2 1298.8h0M730.4 1296.9h0M734.3 1294.6h0M670.0 1293.2h0M694.0 1291.1h0M701.3 1290.2h0M702.3 1288.5h0M697.4 1288.0h0M677.3 1286.5h0M721.7 1285.4h0M748.0 1283.7h0M711.6 1282.7h0M733.4 1281.3h0M731.0 1280.3h0M676.4 1280.0h0M696.3 1278.7h0M734.3 1277.8h0M705.8 1276.5h0M695.0 1276.2h0M678.2 1275.3h0M718.5 1274.5h0M688.1 1273.2h0M675.8 1272.4h0M747.2 1272.2h0M728.0 1271.3h0M706.8 1270.6h0M668.6 1269.2h0M721.6 1268.6h0M705.5 1268.1h0M693.5 1267.3h0M739.7 1266.6h0M694.3 1265.9h0M716.2 1265.6h0M748.5 1265.0h0M673.1 1263.8h0M708.5 1263.1h0M696.8 1262.4h0M736.4 1262.2h0M680.1 1261.5h0M701.7 1261.1h0M722.1 1260.1h0M679.0 1259.4h0M743.7 1259.3h0M724.8 1258.6h0M714.1 1258.0h0M687.5 1257.4h0M731.7 1256.7h0M668.4 1256.2h0M700.2 1255.6h0M685.9 1255.3h0M744.6 1254.8h0M673.1 1254.5h0M734.2 1253.9h0M705.5 1253.4h0M688.4 1252.8h0M715.3 1252.8h0M686.8 1252.2h0M746.6 1251.6h0M680.1 1251.5h0M709.8 1250.9h0M722.0 1250.5h0M718.3 1250.0h0M746.0 1249.5h0M670.8 1249.3h0M710.4 1248.5h0M697.4 1248.3h0M717.9 1248.0h0M669.5 1247.4h0M685.2 1246.9h0M747.8 1246.4h0M702.3 1246.3h0M700.3 1245.7h0M735.3 1245.4h0M725.9 1244.7h0M671.7 1244.4h0M682.6 1243.8h0M714.6 1243.7h0M693.7 1242.9h0M733.7 1242.8h0M729.3 1242.3h0M674.3 1241.7h0M748.2 1241.4h0M719.7 1240.9h0M705.1 1240.3h0M672.8 1240.2h0M683.9 1239.5h0M701.1 1239.1h0M694.0 1238.8h0M672.8 1238.1h0M739.2 1237.9h0M727.8 1237.2h0M736.1 1237.0h0M724.7 1236.7h0M695.4 1236.1h0M705.9 1235.5h0M674.0 1235.4h0M690.8 1234.7h0M744.6 1234.5h0M729.9 1234.0h0M667.6 1233.6h0M698.7 1232.9h0M694.0 1232.9h0M734.7 1232.0h0M728.7 1231.9h0M703.5 1231.3h0M664.9 1230.9h0M681.9 1230.5h0M717.3 1230.3h0M702.4 1229.5h0M733.8 1229.2h0M669.0 1228.9h0M725.2 1228.3h0M688.3 1228.0h0M702.2 1227.5h0M747.8 1226.9h0M674.5 1226.6h0M707.8 1226.2h0M724.6 1225.7h0M683.4 1225.2h0M668.0 1224.5h0M735.2 1224.3h0M664.7 1223.9h0M692.1 1223.6h0M727.6 1223.0h0M742.5 1222.6h0M703.3 1221.9h0M724.7 1221.8h0M703.0 1221.0h0M747.8 1220.9h0M675.4 1220.2h0M682.4 1219.8h0M696.0 1219.3h0M677.1 1218.8h0M714.7 1218.4h0M731.8 1217.9h0M742.7 1217.5h0M725.2 1217.0h0M747.4 1216.6h0M711.9 1216.3h0M674.3 1215.9h0M697.5 1215.1h0M724.8 1214.8h0M741.0 1214.4h0M701.6 1214.2h0M697.9 1213.4h0M678.7 1213.2h0M699.9 1212.7h0M694.5 1212.0h0M678.1 1211.6h0M734.0 1211.2h0M719.3 1210.7h0M684.3 1210.2h0M709.7 1209.8h0M722.4 1209.5h0M736.7 1209.3h0M676.9 1208.4h0M745.3 1208.2h0M685.9 1207.6h0M723.5 1207.5h0M707.8 1207.0h0M672.2 1206.5h0M689.5 1206.1h0M700.3 1205.4h0M664.7 1204.9h0M744.5 1204.8h0M730.9 1204.3h0M705.0 1203.7h0M674.3 1202.6h0M747.8 1202.0h0M684.0 1201.3h0M729.4 1200.6h0M728.8 1200.4h0M673.1 1199.4h0M747.2 1199.1h0M708.0 1198.3h0M690.1 1197.3h0M748.0 1196.3h0M719.5 1196.0h0M713.2 1195.0h0M690.5 1194.7h0M676.1 1193.7h0M665.0 1192.9h0M745.8 1192.0h0M695.2 1191.7h0M698.5 1190.8h0M721.4 1190.0h0M678.4 1188.5h0M734.2 1188.4h0M717.1 1186.9h0M685.3 1186.6h0M704.8 1185.5h0M729.3 1184.7h0M701.8 1183.8h0M695.8 1182.6h0M746.8 1181.2h0M679.1 1180.4h0M692.0 1179.2h0M720.4 1178.1h0M744.2 1177.8h0M673.8 1176.6h0M704.4 1175.6h0M733.2 1174.5h0M700.3 1172.3h0M692.7 1171.9h0M673.1 1170.2h0M726.6 1169.1h0M727.2 1167.1h0M694.0 1165.3h0M710.2 1163.9h0M748.1 1163.2h0M667.1 1160.4h0M682.8 1159.4h0M734.7 1157.5h0M702.4 1155.1h0M719.5 1153.3h0M669.3 1148.8h0M669.5 1147.7h0M684.8 1141.4h0M701.5 1140.7h0M739.2 1133.6h0M720.9 1130.4h0M672.6 1124.0h0M732.8 1115.1h0" stroke="#3A5FA3" stroke-width="5.9" stroke-linecap="round"/>
<path d="M774.0 1333.1h0M811.3 1311.3h0M834.6 1300.7h0M846.2 1298.2h0M793.9 1291.1h0M772.6 1290.7h0M798.1 1284.4h0M853.8 1283.1h0M826.7 1280.0h0M807.2 1277.3h0M811.9 1275.9h0M783.2 1272.2h0M841.8 1271.9h0M830.7 1269.6h0M792.8 1267.2h0M800.2 1266.2h0M778.4 1264.0h0M817.7 1261.7h0M829.7 1260.3h0M848.9 1259.5h0M779.0 1258.4h0M812.3 1256.5h0M795.2 1255.8h0M852.9 1253.9h0M820.5 1253.1h0M809.6 1251.8h0M849.0 1249.7h0M772.6 1248.6h0M834.8 1247.8h0M796.0 1246.3h0M825.2 1245.4h0M792.0 1244.4h0M783.5 1243.2h0M845.9 1242.1h0M816.9 1241.5h0M776.9 1241.1h0M796.9 1240.1h0M833.5 1239.2h0M812.7 1238.0h0M847.9 1236.7h0M822.4 1236.5h0M817.6 1235.8h0M791.6 1234.8h0M842.1 1233.4h0M775.8 1233.0h0M808.8 1232.0h0M791.1 1231.2h0M825.0 1229.9h0M842.0 1229.2h0M785.3 1228.1h0M812.2 1227.3h0M837.3 1227.1h0M791.8 1226.2h0M782.4 1224.8h0M847.3 1224.2h0M810.1 1223.5h0M788.4 1222.6h0M832.0 1221.2h0M847.2 1220.3h0M779.7 1219.7h0M812.9 1218.6h0M797.1 1218.0h0M772.8 1216.7h0M846.2 1216.4h0M826.6 1215.6h0M835.1 1214.0h0M818.9 1213.2h0M796.0 1212.9h0M849.1 1211.7h0M772.1 1210.9h0M816.2 1209.5h0M832.1 1208.9h0M776.3 1208.1h0M789.9 1207.2h0M843.4 1206.5h0M844.4 1205.6h0M836.9 1204.3h0M789.7 1203.5h0M817.8 1202.4h0M776.1 1201.4h0M846.1 1200.1h0M819.0 1199.4h0M778.4 1198.8h0M830.8 1197.6h0M789.4 1197.1h0M846.4 1196.0h0M804.9 1194.6h0M826.0 1193.8h0M801.1 1193.4h0M777.5 1191.7h0M811.3 1191.1h0M829.4 1190.4h0M848.9 1188.8h0M783.6 1188.1h0M797.8 1187.7h0M778.0 1186.5h0M827.7 1185.3h0M812.3 1184.2h0M798.2 1183.5h0M850.1 1182.9h0M841.1 1182.1h0M832.2 1180.9h0M786.7 1179.8h0M804.1 1179.0h0M798.0 1178.2h0M788.6 1176.9h0M770.9 1175.4h0M823.5 1174.4h0M806.5 1173.0h0M839.1 1172.5h0M847.2 1171.1h0M826.6 1170.5h0M781.6 1169.4h0M806.6 1167.0h0M791.1 1165.7h0M808.6 1164.3h0M848.6 1163.6h0M789.4 1162.1h0M833.6 1160.6h0M773.8 1158.7h0M793.0 1157.6h0M780.7 1155.2h0M838.0 1153.7h0M829.0 1151.0h0M807.6 1148.7h0M808.0 1146.9h0M833.7 1143.8h0M838.9 1143.1h0M793.0 1138.5h0M776.5 1136.4h0M827.6 1130.3h0M838.2 1126.8h0M795.1 1119.0h0M785.4 1098.2h0" stroke="#D52828" stroke-width="5.9" stroke-linecap="round"/>
<line x1="706.7" x2="706.7" y1="1141.4" y2="1204.4" stroke="#C2C2C2" stroke-width="1.4"/>
<line x1="706.7" x2="706.7" y1="1255.4" y2="1324.5" stroke="#C2C2C2" stroke-width="1.4"/>
<rect x="667.2" y="1204.4" width="79" height="51" fill="none" stroke="#C2C2C2" stroke-width="1.5"/>
<line x1="667.2" x2="746.2" y1="1230.3" y2="1230.3" stroke="#C2C2C2" stroke-width="3"/>
<line x1="812.1" x2="812.1" y1="1098.6" y2="1181.8" stroke="#C2C2C2" stroke-width="1.4"/>
<line x1="812.1" x2="812.1" y1="1242.4" y2="1333.1" stroke="#C2C2C2" stroke-width="1.4"/>
<rect x="772.6" y="1181.8" width="79" height="60.6" fill="none" stroke="#C2C2C2" stroke-width="1.5"/>
<line x1="772.6" x2="851.6" y1="1213.1" y2="1213.1" stroke="#C2C2C2" stroke-width="3"/>
<path d="M706.7,1093.3V1085.8H812.1V1093.3" fill="none" stroke="#000" stroke-width="1.4"/>
<text x="759.4" y="1087" font-size="17.6" text-anchor="middle">***</text>
<rect x="643.5" y="1072.6" width="231.8" height="293.4" fill="none" stroke="#333333" stroke-width="1.1"/>
<line x1="638.9" x2="643.5" y1="1346.5" y2="1346.5" stroke="#333333" stroke-width="1.3"/>
<text x="634.4" y="1351.8" text-anchor="end" class="tl">6</text>
<line x1="638.9" x2="643.5" y1="1286.7" y2="1286.7" stroke="#333333" stroke-width="1.3"/>
<text x="634.4" y="1292" text-anchor="end" class="tl">7</text>
<line x1="638.9" x2="643.5" y1="1226.9" y2="1226.9" stroke="#333333" stroke-width="1.3"/>
<text x="634.4" y="1232.2" text-anchor="end" class="tl">8</text>
<line x1="638.9" x2="643.5" y1="1167.1" y2="1167.1" stroke="#333333" stroke-width="1.3"/>
<text x="634.4" y="1172.4" text-anchor="end" class="tl">9</text>
<line x1="638.9" x2="643.5" y1="1107.3" y2="1107.3" stroke="#333333" stroke-width="1.3"/>
<text x="634.4" y="1112.6" text-anchor="end" class="tl">10</text>
<line x1="706.7" x2="706.7" y1="1366" y2="1370.6" stroke="#333333" stroke-width="1.3"/>
<text x="706.7" y="1384.9" text-anchor="middle" class="tl">G1+G2</text>
<line x1="812.1" x2="812.1" y1="1366" y2="1370.6" stroke="#333333" stroke-width="1.3"/>
<text x="812.1" y="1384.9" text-anchor="middle" class="tl">G3+G4</text>
<text transform="translate(609.8,1219.3) rotate(-90)" text-anchor="middle" font-size="18.2">PTMA expression</text>
<text transform="translate(2.7,1072.6) scale(0.93,1)" font-size="38.3" font-weight="bold">G</text>
<line x1="940.5" x2="1172.3" y1="1305.8" y2="1305.8" stroke="#EBEBEB" stroke-width="0.9"/>
<line x1="940.5" x2="1172.3" y1="1197.7" y2="1197.7" stroke="#EBEBEB" stroke-width="0.9"/>
<line x1="940.5" x2="1172.3" y1="1089.5" y2="1089.5" stroke="#EBEBEB" stroke-width="0.9"/>
<line x1="940.5" x2="1172.3" y1="1359.9" y2="1359.9" stroke="#EBEBEB" stroke-width="1.8"/>
<line x1="940.5" x2="1172.3" y1="1251.8" y2="1251.8" stroke="#EBEBEB" stroke-width="1.8"/>
<line x1="940.5" x2="1172.3" y1="1143.6" y2="1143.6" stroke="#EBEBEB" stroke-width="1.8"/>
<line x1="1003.7" x2="1003.7" y1="1072.6" y2="1366" stroke="#EBEBEB" stroke-width="1.8"/>
<line x1="1109.1" x2="1109.1" y1="1072.6" y2="1366" stroke="#EBEBEB" stroke-width="1.8"/>
<path d="M977.1 1345.4h0M996.0 1335.6h0M1039.8 1331.0h0M1021.0 1328.7h0M989.3 1325.5h0M971.5 1322.1h0M986.6 1319.7h0M1043.9 1319.4h0M1024.6 1316.0h0M996.0 1315.0h0M986.3 1312.8h0M1026.2 1312.5h0M965.9 1310.6h0M1035.8 1308.6h0M995.4 1307.4h0M1041.2 1306.0h0M1025.5 1304.2h0M969.9 1303.7h0M986.6 1301.9h0M1003.4 1300.7h0M1029.8 1299.2h0M1021.7 1298.3h0M987.8 1297.2h0M961.7 1295.3h0M996.0 1294.0h0M1018.1 1293.8h0M1005.2 1292.6h0M992.2 1290.7h0M1031.5 1289.9h0M967.2 1289.1h0M990.0 1287.3h0M1002.7 1285.9h0M1042.8 1285.6h0M1020.9 1284.6h0M974.3 1283.6h0M962.7 1281.7h0M1013.2 1280.5h0M1002.2 1279.8h0M1039.2 1279.0h0M992.3 1277.7h0M966.7 1276.2h0M1021.1 1275.1h0M1038.4 1274.3h0M987.0 1273.0h0M1002.6 1272.1h0M963.5 1271.5h0M1021.0 1270.3h0M1033.0 1269.4h0M999.0 1268.7h0M984.9 1267.7h0M993.7 1266.4h0M1013.7 1264.8h0M1008.5 1264.2h0M1044.7 1262.8h0M962.8 1262.2h0M991.8 1260.8h0M1015.3 1260.3h0M1033.6 1258.9h0M974.4 1257.9h0M1011.4 1256.9h0M1006.2 1256.8h0M981.8 1255.3h0M1031.4 1254.5h0M964.4 1252.9h0M1020.4 1252.4h0M966.0 1251.2h0M982.5 1250.4h0M1025.6 1250.1h0M1043.5 1248.5h0M997.2 1248.0h0M1002.2 1246.9h0M984.7 1245.9h0M1037.6 1245.5h0M1026.5 1244.3h0M964.5 1243.2h0M999.0 1242.9h0M1045.1 1241.4h0M988.1 1241.1h0M970.0 1240.0h0M1013.3 1238.9h0M997.8 1238.3h0M1041.3 1237.0h0M972.8 1236.4h0M991.7 1235.3h0M1021.5 1234.8h0M969.7 1233.7h0M984.4 1232.2h0M1027.8 1231.5h0M1009.8 1230.5h0M1042.4 1229.9h0M985.9 1229.1h0M962.6 1227.8h0M1029.2 1226.9h0M1028.1 1226.7h0M1001.1 1225.2h0M978.3 1224.6h0M1023.6 1223.7h0M1042.3 1222.8h0M996.1 1221.5h0M986.9 1220.9h0M985.3 1220.1h0M1044.9 1219.0h0M977.2 1218.3h0M1027.2 1217.4h0M1004.3 1216.9h0M976.2 1215.8h0M1034.0 1214.4h0M999.7 1213.7h0M1012.8 1212.5h0M980.0 1212.0h0M976.2 1210.8h0M1025.5 1210.3h0M989.6 1209.3h0M1001.6 1208.4h0M1035.7 1207.4h0M1020.5 1206.4h0M969.3 1205.8h0M1034.1 1205.1h0M994.5 1203.7h0M1010.0 1203.4h0M1003.1 1201.7h0M965.2 1201.4h0M986.3 1200.0h0M1029.1 1199.0h0M1013.7 1198.9h0M975.0 1198.0h0M1027.6 1196.7h0M995.0 1195.4h0M1002.1 1194.6h0M1036.3 1194.5h0M984.8 1193.7h0M964.2 1193.3h0M1000.4 1192.9h0M1028.7 1192.1h0M1040.4 1191.7h0M990.9 1191.4h0M999.6 1190.7h0M962.2 1189.9h0M1027.3 1189.4h0M1044.5 1188.9h0M1017.5 1188.6h0M1010.1 1188.1h0M988.9 1187.3h0M1036.8 1186.7h0M973.5 1186.1h0M983.3 1185.7h0M1019.2 1185.2h0M995.7 1184.5h0M976.0 1184.2h0M1037.6 1183.6h0M1008.6 1183.2h0M1032.8 1182.3h0M990.2 1182.3h0M1025.4 1181.3h0M971.1 1180.8h0M998.9 1180.2h0M966.0 1179.8h0M980.0 1179.1h0M1044.0 1179.0h0M1017.3 1178.4h0M996.7 1177.5h0M1035.8 1177.4h0M971.4 1176.7h0M1024.5 1176.1h0M983.0 1175.4h0M1010.0 1174.9h0M1044.8 1174.4h0M964.6 1174.0h0M980.8 1173.5h0M1028.8 1172.6h0M989.1 1172.2h0M1012.7 1171.9h0M965.5 1171.2h0M1032.0 1170.5h0M1001.8 1170.1h0M964.7 1169.7h0M1015.0 1169.0h0M979.3 1168.9h0M1011.6 1167.9h0M1031.9 1167.4h0M992.8 1167.2h0M974.5 1166.5h0M1002.6 1166.0h0M1035.0 1165.5h0M1025.4 1165.0h0M970.5 1164.1h0M1001.7 1163.7h0M1040.9 1163.3h0M1023.0 1162.8h0M984.6 1162.3h0M1039.4 1161.4h0M994.0 1161.2h0M1005.9 1160.6h0M1026.8 1160.1h0M963.2 1159.4h0M1030.3 1158.9h0M1019.1 1157.7h0M997.3 1157.5h0M975.2 1156.4h0M993.0 1155.9h0M1007.2 1155.0h0M1023.1 1154.5h0M983.1 1153.9h0M1029.0 1153.2h0M964.0 1152.9h0M990.1 1152.1h0M1028.9 1151.2h0M1005.8 1150.8h0M1036.4 1150.2h0M976.7 1149.1h0M1015.9 1148.7h0M977.2 1147.9h0M1044.5 1147.5h0M993.4 1146.6h0M999.9 1145.5h0M1005.7 1144.8h0M1044.7 1144.5h0M1026.3 1143.6h0M982.2 1143.0h0M977.9 1142.0h0M963.0 1141.8h0M1034.0 1140.7h0M997.0 1139.9h0M994.5 1139.4h0M1024.7 1138.3h0M1018.7 1137.6h0M985.6 1137.4h0M964.9 1136.6h0M1040.9 1135.3h0M1003.6 1134.8h0M1033.6 1133.8h0M998.5 1133.6h0M1014.2 1132.6h0M969.0 1131.6h0M978.6 1131.2h0M1010.0 1130.0h0M1016.6 1129.0h0M973.2 1128.0h0M1039.0 1127.7h0M988.0 1126.6h0M963.9 1125.9h0M994.8 1124.7h0M1045.8 1123.8h0M1015.8 1122.7h0M1009.4 1121.5h0M977.6 1120.5h0M984.4 1120.1h0M1037.0 1118.3h0M1009.4 1117.9h0M1025.2 1116.3h0M1011.9 1115.3h0M1019.9 1114.2h0M974.9 1112.8h0M1042.3 1111.2h0M993.5 1107.7h0M968.2 1107.2h0M1028.8 1098.2h0" stroke="#3A5FA3" stroke-width="5.9" stroke-linecap="round"/>
<path d="M1143.8 1353.0h0M1106.2 1339.8h0M1131.3 1337.5h0M1096.9 1334.0h0M1078.9 1329.9h0M1112.7 1328.2h0M1092.1 1325.6h0M1130.3 1323.7h0M1078.2 1319.2h0M1142.3 1316.4h0M1105.7 1314.3h0M1143.4 1313.6h0M1118.8 1310.2h0M1084.8 1308.7h0M1080.5 1306.2h0M1077.0 1304.1h0M1125.3 1301.3h0M1092.0 1300.5h0M1102.1 1298.1h0M1141.8 1294.8h0M1088.8 1293.2h0M1112.0 1291.3h0M1141.7 1290.5h0M1118.9 1286.7h0M1076.3 1283.8h0M1103.3 1281.5h0M1135.6 1276.1h0M1124.5 1275.8h0M1086.1 1269.9h0M1077.6 1269.0h0M1098.3 1264.6h0M1137.5 1262.5h0M1124.1 1259.2h0M1072.6 1255.5h0M1104.3 1251.5h0M1110.2 1250.8h0M1143.5 1246.7h0M1080.3 1243.6h0M1086.2 1239.6h0M1125.4 1238.2h0M1112.3 1233.1h0M1138.8 1231.0h0M1073.4 1227.3h0M1131.6 1224.1h0M1097.5 1222.4h0M1084.6 1220.6h0M1116.9 1218.0h0M1077.5 1213.1h0M1143.1 1212.3h0M1131.8 1210.0h0M1119.9 1205.8h0M1070.5 1205.5h0M1112.6 1202.9h0M1146.1 1200.2h0M1094.0 1197.3h0M1135.7 1194.5h0M1123.3 1192.0h0M1105.5 1188.8h0M1100.3 1187.4h0M1067.3 1185.2h0M1108.6 1181.9h0M1128.5 1178.5h0M1070.7 1177.2h0M1148.8 1173.3h0M1091.8 1171.1h0M1101.7 1169.6h0M1131.3 1166.0h0M1149.7 1165.1h0M1092.6 1162.8h0M1077.1 1161.7h0M1100.7 1158.9h0M1074.8 1158.4h0M1138.4 1156.1h0M1119.4 1154.0h0M1097.6 1153.1h0M1150.2 1151.0h0M1072.1 1148.8h0M1112.9 1148.2h0M1089.7 1145.9h0M1125.7 1144.3h0M1074.2 1142.0h0M1134.1 1139.3h0M1084.5 1137.8h0M1137.9 1135.8h0M1107.1 1133.1h0M1086.9 1131.6h0M1133.5 1128.4h0M1109.9 1126.2h0M1082.9 1123.6h0M1138.4 1113.8h0" stroke="#D52828" stroke-width="5.9" stroke-linecap="round"/>
<line x1="1003.7" x2="1003.7" y1="1098.6" y2="1160.4" stroke="#C2C2C2" stroke-width="1.4"/>
<line x1="1003.7" x2="1003.7" y1="1252.6" y2="1345.4" stroke="#C2C2C2" stroke-width="1.4"/>
<rect x="964.2" y="1160.4" width="79" height="92.2" fill="none" stroke="#C2C2C2" stroke-width="1.5"/>
<line x1="964.2" x2="1043.2" y1="1194.9" y2="1194.9" stroke="#C2C2C2" stroke-width="3"/>
<line x1="1109.1" x2="1109.1" y1="1113.8" y2="1164.1" stroke="#C2C2C2" stroke-width="1.4"/>
<line x1="1109.1" x2="1109.1" y1="1289.7" y2="1353" stroke="#C2C2C2" stroke-width="1.4"/>
<rect x="1069.6" y="1164.1" width="79" height="125.6" fill="none" stroke="#C2C2C2" stroke-width="1.5"/>
<line x1="1069.6" x2="1148.6" y1="1220.6" y2="1220.6" stroke="#C2C2C2" stroke-width="3"/>
<path d="M1003.7,1093.3V1085.8H1109.1V1093.3" fill="none" stroke="#000" stroke-width="1.4"/>
<text x="1056.4" y="1082.7" font-size="17.6" text-anchor="middle">ns</text>
<rect x="940.5" y="1072.6" width="231.8" height="293.4" fill="none" stroke="#333333" stroke-width="1.1"/>
<line x1="935.9" x2="940.5" y1="1359.9" y2="1359.9" stroke="#333333" stroke-width="1.3"/>
<text x="931.4" y="1365.2" text-anchor="end" class="tl">0</text>
<line x1="935.9" x2="940.5" y1="1251.8" y2="1251.8" stroke="#333333" stroke-width="1.3"/>
<text x="931.4" y="1257" text-anchor="end" class="tl">5</text>
<line x1="935.9" x2="940.5" y1="1143.6" y2="1143.6" stroke="#333333" stroke-width="1.3"/>
<text x="931.4" y="1148.9" text-anchor="end" class="tl">10</text>
<line x1="1003.7" x2="1003.7" y1="1366" y2="1370.6" stroke="#333333" stroke-width="1.3"/>
<text x="1003.7" y="1384.9" text-anchor="middle" class="tl">I+II</text>
<line x1="1109.1" x2="1109.1" y1="1366" y2="1370.6" stroke="#333333" stroke-width="1.3"/>
<text x="1109.1" y="1384.9" text-anchor="middle" class="tl">III+IV</text>
<text transform="translate(906.8,1219.3) rotate(-90)" text-anchor="middle" font-size="18.2">TAT expression</text>
<line x1="1237.5" x2="1469.3" y1="1305.8" y2="1305.8" stroke="#EBEBEB" stroke-width="0.9"/>
<line x1="1237.5" x2="1469.3" y1="1197.7" y2="1197.7" stroke="#EBEBEB" stroke-width="0.9"/>
<line x1="1237.5" x2="1469.3" y1="1089.5" y2="1089.5" stroke="#EBEBEB" stroke-width="0.9"/>
<line x1="1237.5" x2="1469.3" y1="1359.9" y2="1359.9" stroke="#EBEBEB" stroke-width="1.8"/>
<line x1="1237.5" x2="1469.3" y1="1251.8" y2="1251.8" stroke="#EBEBEB" stroke-width="1.8"/>
<line x1="1237.5" x2="1469.3" y1="1143.6" y2="1143.6" stroke="#EBEBEB" stroke-width="1.8"/>
<line x1="1300.7" x2="1300.7" y1="1072.6" y2="1366" stroke="#EBEBEB" stroke-width="1.8"/>
<line x1="1406.1" x2="1406.1" y1="1072.6" y2="1366" stroke="#EBEBEB" stroke-width="1.8"/>
<path d="M1258.7 1345.4h0M1321.6 1337.0h0M1340.3 1329.5h0M1282.1 1328.6h0M1297.7 1326.2h0M1295.3 1324.2h0M1336.3 1321.0h0M1277.6 1319.3h0M1263.8 1317.1h0M1324.6 1316.2h0M1308.2 1314.6h0M1286.8 1312.6h0M1314.7 1310.9h0M1268.3 1309.4h0M1326.1 1309.2h0M1265.2 1307.8h0M1311.9 1305.7h0M1290.1 1305.3h0M1304.0 1303.3h0M1330.5 1302.6h0M1336.9 1301.3h0M1281.1 1299.4h0M1310.0 1299.0h0M1301.0 1297.5h0M1259.8 1296.8h0M1310.6 1294.6h0M1328.8 1293.9h0M1293.9 1293.3h0M1290.1 1291.9h0M1260.9 1290.5h0M1313.8 1289.6h0M1289.2 1288.6h0M1329.3 1287.4h0M1269.8 1286.4h0M1298.5 1285.3h0M1301.4 1284.9h0M1290.0 1283.9h0M1336.1 1282.1h0M1317.7 1281.8h0M1268.0 1280.6h0M1338.7 1279.0h0M1321.0 1278.6h0M1286.5 1277.2h0M1262.2 1275.9h0M1304.7 1275.1h0M1299.4 1274.7h0M1334.8 1273.7h0M1279.1 1272.9h0M1315.6 1271.2h0M1273.1 1270.2h0M1338.8 1269.8h0M1287.0 1268.2h0M1318.2 1267.8h0M1295.7 1267.2h0M1259.7 1265.9h0M1278.0 1264.5h0M1298.4 1263.6h0M1269.5 1263.4h0M1338.8 1262.0h0M1319.0 1261.4h0M1297.7 1260.4h0M1315.6 1259.3h0M1342.3 1258.3h0M1283.1 1257.6h0M1273.8 1256.5h0M1304.5 1255.4h0M1331.5 1254.9h0M1277.0 1253.8h0M1264.9 1253.1h0M1310.3 1252.1h0M1296.3 1251.1h0M1271.5 1250.0h0M1339.3 1249.4h0M1282.0 1248.6h0M1310.3 1247.4h0M1330.3 1246.7h0M1325.8 1246.0h0M1286.4 1244.7h0M1272.5 1244.3h0M1294.9 1243.0h0M1279.7 1242.8h0M1274.6 1242.0h0M1324.2 1241.1h0M1303.6 1240.3h0M1331.6 1239.4h0M1263.4 1238.1h0M1313.4 1237.8h0M1330.3 1236.8h0M1294.2 1236.0h0M1291.0 1234.4h0M1295.8 1234.3h0M1287.7 1232.8h0M1316.5 1231.8h0M1339.5 1231.3h0M1264.5 1230.5h0M1305.9 1229.5h0M1310.7 1228.6h0M1286.5 1227.5h0M1271.3 1227.3h0M1340.5 1226.3h0M1325.1 1225.1h0M1258.7 1224.7h0M1334.9 1223.2h0M1294.7 1222.9h0M1279.0 1222.2h0M1264.0 1220.8h0M1328.9 1219.9h0M1324.9 1219.5h0M1293.3 1218.3h0M1291.2 1217.9h0M1317.1 1216.6h0M1341.1 1215.5h0M1288.8 1214.9h0M1294.5 1214.0h0M1266.1 1213.1h0M1259.2 1212.1h0M1294.2 1211.8h0M1316.6 1210.9h0M1290.6 1209.7h0M1331.1 1208.7h0M1323.3 1208.3h0M1306.4 1207.4h0M1333.9 1206.6h0M1272.2 1206.0h0M1281.0 1204.7h0M1270.6 1203.8h0M1313.4 1203.4h0M1282.8 1202.4h0M1328.4 1201.4h0M1293.1 1200.5h0M1296.1 1199.4h0M1284.5 1198.9h0M1341.4 1197.5h0M1259.5 1197.0h0M1314.1 1195.8h0M1340.5 1195.5h0M1258.7 1194.2h0M1291.1 1193.4h0M1316.3 1192.9h0M1295.9 1192.7h0M1286.4 1192.0h0M1299.6 1191.4h0M1313.0 1191.2h0M1266.6 1190.7h0M1337.6 1190.2h0M1330.7 1189.4h0M1285.2 1188.9h0M1272.3 1188.7h0M1320.7 1188.2h0M1293.4 1187.6h0M1274.8 1186.9h0M1313.1 1186.5h0M1301.8 1186.1h0M1287.9 1185.5h0M1330.2 1185.1h0M1290.7 1184.7h0M1331.7 1184.3h0M1312.3 1183.8h0M1303.7 1183.2h0M1259.3 1182.8h0M1260.7 1182.3h0M1332.6 1181.5h0M1305.5 1181.3h0M1278.8 1180.6h0M1315.5 1180.3h0M1309.9 1179.8h0M1270.2 1178.9h0M1308.0 1178.9h0M1329.5 1178.1h0M1286.9 1177.6h0M1282.9 1177.0h0M1306.9 1176.8h0M1315.7 1176.1h0M1327.1 1175.7h0M1270.4 1174.9h0M1275.8 1174.6h0M1293.6 1174.2h0M1267.6 1173.7h0M1335.8 1173.4h0M1311.5 1172.8h0M1279.8 1171.9h0M1301.9 1171.8h0M1331.5 1170.9h0M1315.7 1170.9h0M1270.5 1170.2h0M1277.6 1169.6h0M1312.6 1169.0h0M1295.0 1168.7h0M1261.9 1168.4h0M1331.8 1167.4h0M1265.2 1167.4h0M1308.6 1166.6h0M1284.3 1166.2h0M1311.5 1165.9h0M1340.3 1165.3h0M1313.3 1164.6h0M1258.7 1164.2h0M1308.5 1163.7h0M1335.0 1163.1h0M1279.7 1162.5h0M1329.9 1162.3h0M1302.6 1161.4h0M1274.0 1161.4h0M1288.6 1160.4h0M1325.6 1160.2h0M1282.8 1159.5h0M1311.7 1159.2h0M1269.4 1158.5h0M1328.9 1158.2h0M1303.9 1157.3h0M1301.9 1156.5h0M1291.6 1155.9h0M1323.8 1155.7h0M1262.9 1154.7h0M1328.1 1154.1h0M1325.6 1153.9h0M1334.0 1153.1h0M1258.9 1152.3h0M1297.3 1152.1h0M1288.3 1151.2h0M1278.3 1151.0h0M1273.1 1150.0h0M1296.6 1149.1h0M1331.5 1148.8h0M1316.1 1148.5h0M1307.7 1147.6h0M1269.7 1146.7h0M1323.9 1146.1h0M1288.5 1145.4h0M1331.7 1144.9h0M1315.7 1144.2h0M1290.1 1143.9h0M1339.5 1143.1h0M1259.9 1142.2h0M1305.5 1141.7h0M1327.0 1141.1h0M1262.2 1140.6h0M1292.7 1140.0h0M1315.9 1139.1h0M1291.5 1138.1h0M1329.2 1138.1h0M1276.5 1137.4h0M1318.6 1136.4h0M1295.4 1135.8h0M1258.6 1135.4h0M1296.4 1134.4h0M1277.1 1134.0h0M1324.6 1132.7h0M1270.5 1132.2h0M1342.3 1131.2h0M1342.7 1130.5h0M1270.0 1129.9h0M1281.3 1129.1h0M1316.9 1128.4h0M1307.7 1127.4h0M1329.5 1126.8h0M1312.2 1125.8h0M1276.7 1125.1h0M1260.9 1124.0h0M1307.0 1123.5h0M1279.3 1122.5h0M1292.9 1121.8h0M1322.2 1120.4h0M1338.1 1119.7h0M1269.7 1118.8h0M1292.1 1118.3h0M1296.9 1116.7h0M1326.4 1115.7h0M1324.6 1114.8h0M1271.4 1112.5h0M1321.9 1111.9h0M1305.8 1110.2h0M1334.4 1108.7h0M1282.6 1105.3h0M1275.3 1098.2h0" stroke="#3A5FA3" stroke-width="5.9" stroke-linecap="round"/>
<path d="M1443.4 1353.0h0M1378.0 1339.5h0M1410.2 1336.7h0M1384.8 1331.9h0M1419.1 1330.4h0M1405.9 1326.4h0M1374.7 1322.4h0M1386.7 1319.3h0M1443.6 1318.7h0M1415.7 1315.3h0M1374.6 1313.6h0M1415.7 1309.7h0M1436.3 1306.9h0M1392.4 1305.8h0M1408.3 1303.7h0M1394.7 1300.7h0M1371.2 1298.4h0M1416.6 1296.9h0M1441.7 1294.5h0M1410.4 1291.7h0M1364.6 1289.5h0M1445.2 1287.9h0M1422.2 1287.1h0M1386.9 1283.0h0M1411.0 1280.3h0M1403.8 1278.0h0M1433.5 1274.2h0M1387.5 1271.2h0M1422.3 1269.2h0M1365.1 1267.4h0M1405.5 1263.8h0M1387.9 1262.7h0M1380.5 1258.0h0M1416.5 1256.7h0M1447.9 1253.0h0M1370.0 1251.0h0M1412.7 1248.2h0M1425.8 1244.7h0M1387.5 1242.0h0M1446.2 1238.9h0M1391.9 1234.7h0M1373.4 1234.1h0M1424.4 1231.2h0M1447.8 1228.6h0M1409.4 1225.7h0M1401.0 1222.8h0M1429.9 1219.6h0M1379.9 1216.9h0M1438.5 1215.3h0M1392.4 1213.1h0M1389.6 1210.0h0M1374.5 1206.4h0M1399.0 1204.3h0M1435.5 1201.9h0M1421.4 1201.2h0M1404.2 1198.3h0M1418.4 1194.5h0M1445.4 1193.6h0M1380.5 1191.0h0M1381.6 1187.9h0M1443.8 1185.6h0M1400.3 1183.4h0M1364.1 1181.3h0M1427.8 1179.1h0M1383.5 1176.0h0M1375.4 1174.7h0M1408.4 1172.5h0M1433.0 1170.1h0M1430.2 1166.9h0M1388.0 1164.6h0M1403.7 1162.0h0M1371.4 1161.5h0M1432.3 1158.7h0M1386.8 1158.0h0M1422.5 1155.7h0M1444.5 1154.7h0M1414.5 1152.9h0M1386.6 1151.0h0M1400.6 1148.9h0M1369.5 1148.8h0M1418.9 1146.5h0M1364.8 1143.9h0M1395.0 1142.9h0M1413.9 1140.3h0M1442.4 1139.0h0M1380.8 1136.7h0M1405.3 1135.3h0M1389.0 1132.2h0M1435.0 1130.1h0M1421.3 1127.0h0M1403.5 1123.7h0M1420.2 1120.6h0M1366.6 1113.3h0" stroke="#D52828" stroke-width="5.9" stroke-linecap="round"/>
<line x1="1300.7" x2="1300.7" y1="1098.6" y2="1159.3" stroke="#C2C2C2" stroke-width="1.4"/>
<line x1="1300.7" x2="1300.7" y1="1252.6" y2="1345.4" stroke="#C2C2C2" stroke-width="1.4"/>
<rect x="1261.2" y="1159.3" width="79" height="93.3" fill="none" stroke="#C2C2C2" stroke-width="1.5"/>
<line x1="1261.2" x2="1340.2" y1="1193.6" y2="1193.6" stroke="#C2C2C2" stroke-width="3"/>
<line x1="1406.1" x2="1406.1" y1="1113.3" y2="1163.6" stroke="#C2C2C2" stroke-width="1.4"/>
<line x1="1406.1" x2="1406.1" y1="1284.5" y2="1353" stroke="#C2C2C2" stroke-width="1.4"/>
<rect x="1366.6" y="1163.6" width="79" height="120.9" fill="none" stroke="#C2C2C2" stroke-width="1.5"/>
<line x1="1366.6" x2="1445.6" y1="1219.1" y2="1219.1" stroke="#C2C2C2" stroke-width="3"/>
<path d="M1300.7,1093.3V1085.8H1406.1V1093.3" fill="none" stroke="#000" stroke-width="1.4"/>
<text x="1353.4" y="1082.7" font-size="17.6" text-anchor="middle">ns</text>
<rect x="1237.5" y="1072.6" width="231.8" height="293.4" fill="none" stroke="#333333" stroke-width="1.1"/>
<line x1="1232.9" x2="1237.5" y1="1359.9" y2="1359.9" stroke="#333333" stroke-width="1.3"/>
<text x="1228.4" y="1365.2" text-anchor="end" class="tl">0</text>
<line x1="1232.9" x2="1237.5" y1="1251.8" y2="1251.8" stroke="#333333" stroke-width="1.3"/>
<text x="1228.4" y="1257" text-anchor="end" class="tl">5</text>
<line x1="1232.9" x2="1237.5" y1="1143.6" y2="1143.6" stroke="#333333" stroke-width="1.3"/>
<text x="1228.4" y="1148.9" text-anchor="end" class="tl">10</text>
<line x1="1300.7" x2="1300.7" y1="1366" y2="1370.6" stroke="#333333" stroke-width="1.3"/>
<text x="1300.7" y="1384.9" text-anchor="middle" class="tl">T1+T2</text>
<line x1="1406.1" x2="1406.1" y1="1366" y2="1370.6" stroke="#333333" stroke-width="1.3"/>
<text x="1406.1" y="1384.9" text-anchor="middle" class="tl">T3+T4</text>
<text transform="translate(1203.8,1219.3) rotate(-90)" text-anchor="middle" font-size="18.2">TAT expression</text>
<line x1="1534.5" x2="1766.3" y1="1305.8" y2="1305.8" stroke="#EBEBEB" stroke-width="0.9"/>
<line x1="1534.5" x2="1766.3" y1="1197.7" y2="1197.7" stroke="#EBEBEB" stroke-width="0.9"/>
<line x1="1534.5" x2="1766.3" y1="1089.5" y2="1089.5" stroke="#EBEBEB" stroke-width="0.9"/>
<line x1="1534.5" x2="1766.3" y1="1359.9" y2="1359.9" stroke="#EBEBEB" stroke-width="1.8"/>
<line x1="1534.5" x2="1766.3" y1="1251.8" y2="1251.8" stroke="#EBEBEB" stroke-width="1.8"/>
<line x1="1534.5" x2="1766.3" y1="1143.6" y2="1143.6" stroke="#EBEBEB" stroke-width="1.8"/>
<line x1="1597.7" x2="1597.7" y1="1072.6" y2="1366" stroke="#EBEBEB" stroke-width="1.8"/>
<line x1="1703.1" x2="1703.1" y1="1072.6" y2="1366" stroke="#EBEBEB" stroke-width="1.8"/>
<path d="M1627.2 1345.4h0M1574.7 1334.3h0M1613.4 1328.0h0M1598.8 1324.4h0M1571.8 1319.0h0M1615.8 1318.9h0M1634.9 1315.6h0M1589.7 1312.6h0M1568.9 1309.8h0M1585.2 1308.8h0M1594.2 1305.2h0M1611.2 1303.7h0M1627.5 1301.8h0M1572.9 1299.5h0M1562.3 1299.2h0M1572.8 1296.2h0M1627.1 1294.9h0M1562.1 1293.1h0M1608.5 1290.7h0M1590.2 1289.1h0M1610.4 1288.6h0M1594.1 1287.3h0M1576.8 1285.2h0M1556.8 1283.8h0M1628.8 1282.4h0M1633.0 1280.9h0M1583.3 1279.4h0M1555.7 1276.8h0M1600.2 1276.6h0M1608.2 1275.1h0M1617.5 1272.5h0M1571.2 1271.5h0M1623.2 1269.4h0M1586.3 1268.5h0M1601.5 1266.6h0M1565.7 1265.8h0M1629.5 1264.1h0M1598.9 1262.5h0M1581.4 1261.6h0M1619.3 1260.8h0M1568.3 1258.8h0M1592.6 1257.8h0M1632.9 1256.1h0M1586.6 1255.2h0M1609.5 1253.0h0M1635.1 1251.9h0M1601.6 1250.3h0M1559.5 1250.2h0M1577.0 1248.8h0M1607.2 1246.9h0M1582.4 1246.2h0M1559.7 1243.8h0M1607.6 1243.0h0M1638.8 1241.3h0M1591.1 1239.9h0M1578.1 1239.4h0M1569.0 1237.7h0M1590.7 1236.7h0M1637.1 1235.8h0M1620.4 1235.0h0M1610.2 1233.4h0M1627.7 1232.9h0M1574.0 1231.7h0M1569.1 1230.7h0M1595.8 1229.5h0M1605.1 1228.9h0M1610.8 1228.0h0M1587.7 1227.3h0M1624.7 1226.1h0M1564.0 1225.4h0M1559.7 1224.3h0M1603.0 1223.5h0M1615.5 1222.0h0M1572.4 1221.4h0M1625.9 1220.0h0M1626.6 1218.7h0M1587.4 1218.6h0M1601.4 1217.1h0M1611.6 1216.4h0M1567.8 1215.6h0M1573.1 1214.3h0M1604.0 1213.8h0M1612.0 1212.5h0M1555.9 1211.4h0M1631.7 1210.1h0M1564.3 1209.5h0M1595.7 1208.3h0M1584.5 1207.7h0M1626.1 1206.7h0M1610.0 1205.3h0M1561.0 1205.2h0M1586.7 1204.3h0M1637.8 1203.2h0M1604.2 1202.2h0M1608.1 1200.9h0M1623.6 1199.7h0M1574.1 1198.7h0M1604.5 1198.5h0M1558.3 1197.2h0M1608.5 1196.5h0M1609.2 1194.9h0M1567.2 1194.2h0M1583.3 1192.9h0M1635.3 1192.2h0M1603.4 1191.5h0M1559.8 1190.0h0M1603.6 1189.8h0M1582.7 1188.5h0M1611.3 1187.9h0M1634.0 1186.4h0M1584.0 1185.8h0M1627.9 1184.9h0M1591.9 1184.1h0M1569.7 1182.9h0M1615.1 1182.2h0M1591.1 1180.8h0M1615.5 1180.3h0M1635.3 1179.7h0M1570.7 1179.0h0M1574.2 1178.7h0M1567.7 1178.2h0M1608.3 1177.9h0M1638.8 1177.7h0M1600.6 1176.9h0M1577.5 1176.7h0M1566.7 1176.1h0M1637.3 1175.7h0M1610.1 1175.6h0M1578.6 1174.9h0M1606.1 1174.3h0M1595.2 1174.0h0M1576.4 1173.7h0M1609.5 1173.4h0M1632.3 1172.9h0M1560.9 1172.2h0M1564.0 1171.9h0M1606.7 1171.6h0M1580.8 1171.1h0M1602.2 1170.7h0M1625.3 1170.4h0M1602.0 1169.8h0M1558.9 1169.3h0M1581.5 1168.7h0M1619.7 1168.5h0M1629.5 1168.3h0M1620.7 1167.6h0M1562.4 1167.3h0M1637.6 1166.9h0M1591.3 1166.3h0M1579.6 1165.8h0M1636.5 1165.6h0M1614.3 1165.1h0M1583.3 1164.7h0M1604.7 1164.4h0M1565.6 1163.7h0M1560.6 1163.5h0M1593.8 1163.1h0M1629.0 1162.5h0M1573.3 1162.1h0M1619.8 1161.5h0M1605.6 1161.0h0M1573.5 1160.7h0M1625.4 1160.1h0M1619.0 1159.9h0M1559.6 1159.7h0M1572.0 1159.1h0M1630.3 1158.7h0M1595.3 1158.4h0M1618.3 1157.9h0M1580.5 1157.2h0M1594.3 1156.7h0M1625.0 1156.6h0M1610.2 1155.9h0M1575.5 1155.8h0M1565.5 1154.8h0M1560.2 1154.6h0M1606.0 1153.5h0M1580.9 1153.3h0M1617.7 1152.4h0M1638.6 1152.0h0M1616.2 1150.9h0M1565.8 1150.6h0M1583.7 1150.0h0M1602.7 1148.7h0M1634.6 1148.0h0M1592.4 1147.3h0M1555.8 1146.7h0M1573.3 1146.0h0M1632.2 1145.8h0M1622.8 1144.7h0M1557.6 1144.4h0M1612.2 1143.6h0M1625.5 1142.9h0M1593.2 1142.4h0M1583.6 1141.1h0M1557.7 1140.6h0M1620.2 1139.8h0M1601.3 1139.2h0M1638.3 1138.4h0M1583.6 1137.9h0M1579.1 1137.3h0M1611.7 1136.2h0M1557.6 1135.4h0M1637.4 1134.6h0M1591.0 1134.0h0M1619.7 1133.0h0M1605.4 1132.1h0M1623.0 1131.6h0M1569.4 1130.4h0M1584.4 1130.1h0M1604.4 1129.4h0M1574.8 1128.2h0M1628.6 1127.7h0M1558.9 1126.4h0M1620.5 1126.0h0M1606.2 1125.2h0M1573.7 1123.7h0M1559.9 1123.3h0M1601.3 1122.2h0M1634.2 1121.2h0M1584.2 1120.5h0M1606.4 1119.6h0M1625.7 1117.7h0M1599.7 1117.2h0M1569.4 1116.0h0M1598.7 1114.2h0M1620.9 1113.5h0M1566.3 1112.2h0M1629.7 1110.2h0M1582.7 1108.6h0M1563.4 1106.0h0M1575.2 1098.2h0" stroke="#3A5FA3" stroke-width="5.9" stroke-linecap="round"/>
<path d="M1684.3 1353.0h0M1718.7 1342.5h0M1673.7 1338.7h0M1735.6 1335.9h0M1695.5 1333.4h0M1674.8 1330.7h0M1724.9 1329.5h0M1698.3 1328.1h0M1729.9 1325.9h0M1688.1 1324.2h0M1713.9 1320.9h0M1670.2 1320.7h0M1700.8 1317.4h0M1686.8 1316.2h0M1737.7 1314.5h0M1736.6 1313.6h0M1685.6 1310.9h0M1727.3 1309.6h0M1694.8 1308.0h0M1677.7 1307.0h0M1684.8 1305.3h0M1669.8 1304.7h0M1716.3 1302.5h0M1696.5 1301.4h0M1731.4 1299.5h0M1737.3 1298.1h0M1713.6 1296.2h0M1689.7 1295.3h0M1663.9 1294.6h0M1706.1 1293.3h0M1675.8 1291.9h0M1687.6 1290.0h0M1703.4 1288.3h0M1723.6 1287.5h0M1743.3 1285.2h0M1678.0 1283.9h0M1721.8 1281.6h0M1698.8 1281.3h0M1670.7 1278.5h0M1731.5 1277.0h0M1715.2 1276.5h0M1742.6 1274.8h0M1675.0 1272.2h0M1687.4 1270.4h0M1706.3 1269.5h0M1671.8 1267.4h0M1737.2 1266.4h0M1716.6 1264.7h0M1710.6 1263.0h0M1680.0 1261.0h0M1704.9 1259.0h0M1669.3 1257.7h0M1679.9 1257.2h0M1730.7 1255.0h0M1723.0 1253.3h0M1730.4 1252.5h0M1672.1 1250.6h0M1697.8 1248.2h0M1682.0 1247.1h0M1714.9 1245.8h0M1711.2 1244.0h0M1732.7 1241.5h0M1693.8 1240.0h0M1727.5 1239.4h0M1676.2 1237.1h0M1693.5 1236.2h0M1720.7 1234.6h0M1735.5 1231.8h0M1670.9 1230.3h0M1698.4 1229.1h0M1703.4 1227.2h0M1665.6 1225.3h0M1740.9 1224.6h0M1726.0 1222.9h0M1685.6 1220.3h0M1735.1 1219.9h0M1721.1 1218.6h0M1669.1 1216.9h0M1694.4 1214.1h0M1705.3 1212.8h0M1693.2 1211.0h0M1694.7 1210.5h0M1741.2 1207.7h0M1718.7 1207.3h0M1674.6 1204.3h0M1711.2 1204.1h0M1672.7 1202.2h0M1691.1 1199.5h0M1731.6 1198.3h0M1713.4 1197.3h0M1687.9 1195.4h0M1731.5 1194.1h0M1667.9 1191.5h0M1707.9 1190.5h0M1724.8 1189.5h0M1709.1 1187.6h0M1715.9 1186.2h0M1669.2 1183.6h0M1741.4 1182.1h0M1692.4 1180.9h0M1725.0 1179.8h0M1681.5 1177.7h0M1734.2 1177.1h0M1665.1 1175.7h0M1701.2 1174.5h0M1666.9 1173.7h0M1691.9 1172.2h0M1702.9 1171.4h0M1719.0 1169.4h0M1742.6 1169.0h0M1696.3 1167.2h0M1681.2 1166.1h0M1744.1 1164.6h0M1717.9 1164.4h0M1676.7 1162.7h0M1707.9 1161.3h0M1721.6 1160.0h0M1736.8 1158.3h0M1681.2 1157.1h0M1669.9 1155.5h0M1669.3 1154.2h0M1697.0 1153.7h0M1681.5 1152.3h0M1741.0 1150.0h0M1717.7 1148.0h0M1673.9 1147.2h0M1681.6 1146.3h0M1704.9 1144.4h0M1729.5 1141.0h0M1723.7 1139.8h0M1667.7 1138.4h0M1741.7 1134.3h0M1705.3 1132.9h0M1714.2 1124.1h0" stroke="#D52828" stroke-width="5.9" stroke-linecap="round"/>
<line x1="1597.7" x2="1597.7" y1="1098.6" y2="1155.4" stroke="#C2C2C2" stroke-width="1.4"/>
<line x1="1597.7" x2="1597.7" y1="1236" y2="1345.4" stroke="#C2C2C2" stroke-width="1.4"/>
<rect x="1558.2" y="1155.4" width="79" height="80.6" fill="none" stroke="#C2C2C2" stroke-width="1.5"/>
<line x1="1558.2" x2="1637.2" y1="1180.3" y2="1180.3" stroke="#C2C2C2" stroke-width="3"/>
<line x1="1703.1" x2="1703.1" y1="1124.1" y2="1179.2" stroke="#C2C2C2" stroke-width="1.4"/>
<line x1="1703.1" x2="1703.1" y1="1287.1" y2="1353" stroke="#C2C2C2" stroke-width="1.4"/>
<rect x="1663.6" y="1179.2" width="79" height="107.9" fill="none" stroke="#C2C2C2" stroke-width="1.5"/>
<line x1="1663.6" x2="1742.6" y1="1233.2" y2="1233.2" stroke="#C2C2C2" stroke-width="3"/>
<path d="M1597.7,1093.3V1085.8H1703.1V1093.3" fill="none" stroke="#000" stroke-width="1.4"/>
<text x="1650.4" y="1087" font-size="17.6" text-anchor="middle">****</text>
<rect x="1534.5" y="1072.6" width="231.8" height="293.4" fill="none" stroke="#333333" stroke-width="1.1"/>
<line x1="1529.9" x2="1534.5" y1="1359.9" y2="1359.9" stroke="#333333" stroke-width="1.3"/>
<text x="1525.4" y="1365.2" text-anchor="end" class="tl">0</text>
<line x1="1529.9" x2="1534.5" y1="1251.8" y2="1251.8" stroke="#333333" stroke-width="1.3"/>
<text x="1525.4" y="1257" text-anchor="end" class="tl">5</text>
<line x1="1529.9" x2="1534.5" y1="1143.6" y2="1143.6" stroke="#333333" stroke-width="1.3"/>
<text x="1525.4" y="1148.9" text-anchor="end" class="tl">10</text>
<line x1="1597.7" x2="1597.7" y1="1366" y2="1370.6" stroke="#333333" stroke-width="1.3"/>
<text x="1597.7" y="1384.9" text-anchor="middle" class="tl">G1+G2</text>
<line x1="1703.1" x2="1703.1" y1="1366" y2="1370.6" stroke="#333333" stroke-width="1.3"/>
<text x="1703.1" y="1384.9" text-anchor="middle" class="tl">G3+G4</text>
<text transform="translate(1500.8,1219.3) rotate(-90)" text-anchor="middle" font-size="18.2">TAT expression</text>
<text transform="translate(884,1072.6) scale(0.93,1)" font-size="38.3" font-weight="bold">H</text>
</svg></body></html>
